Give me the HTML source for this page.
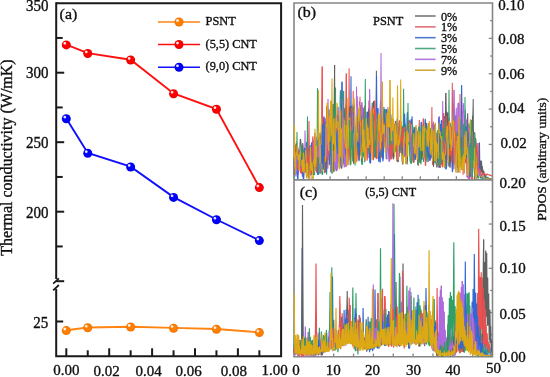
<!DOCTYPE html>
<html><head><meta charset="utf-8"><style>
html,body{margin:0;padding:0;background:#fff;width:550px;height:377px;overflow:hidden}
svg{display:block;font-family:"Liberation Serif",serif}
</style></head><body>
<svg width="550" height="377" viewBox="0 0 550 377">
<defs>
<radialGradient id="gO" cx="0.5" cy="0.5" r="0.5"><stop offset="0.6" stop-color="#ff8000"/><stop offset="1" stop-color="#f07000"/></radialGradient>
<radialGradient id="gR" cx="0.5" cy="0.5" r="0.5"><stop offset="0.6" stop-color="#ff0000"/><stop offset="1" stop-color="#e80000"/></radialGradient>
<radialGradient id="gB" cx="0.5" cy="0.5" r="0.5"><stop offset="0.6" stop-color="#0000ff"/><stop offset="1" stop-color="#0000e0"/></radialGradient>
<radialGradient id="hl" cx="0.5" cy="0.5" r="0.5"><stop offset="0" stop-color="#fff" stop-opacity="1"/><stop offset="0.45" stop-color="#fff" stop-opacity="0.85"/><stop offset="1" stop-color="#fff" stop-opacity="0"/></radialGradient>
</defs>
<g style="will-change:transform">
<path d="M56.2 3.2 H281.1 V356.3 H56.2 V289" fill="none" stroke="#1a1a1a" stroke-width="2" stroke-linejoin="miter"/>
<line x1="56.2" y1="2.2" x2="56.2" y2="279" stroke="#1a1a1a" stroke-width="2" />
<line x1="53.2" y1="283.6" x2="58.9" y2="278.4" stroke="#1a1a1a" stroke-width="1.8" />
<line x1="53.2" y1="290.3" x2="58.9" y2="285.0" stroke="#1a1a1a" stroke-width="1.8" />
<line x1="66.3" y1="356.3" x2="66.3" y2="348.3" stroke="#1a1a1a" stroke-width="2" />
<line x1="87.75" y1="356.3" x2="87.75" y2="350.3" stroke="#1a1a1a" stroke-width="2" />
<line x1="109.2" y1="356.3" x2="109.2" y2="348.3" stroke="#1a1a1a" stroke-width="2" />
<line x1="130.65" y1="356.3" x2="130.65" y2="350.3" stroke="#1a1a1a" stroke-width="2" />
<line x1="152.1" y1="356.3" x2="152.1" y2="348.3" stroke="#1a1a1a" stroke-width="2" />
<line x1="173.55" y1="356.3" x2="173.55" y2="350.3" stroke="#1a1a1a" stroke-width="2" />
<line x1="195.0" y1="356.3" x2="195.0" y2="348.3" stroke="#1a1a1a" stroke-width="2" />
<line x1="216.45" y1="356.3" x2="216.45" y2="350.3" stroke="#1a1a1a" stroke-width="2" />
<line x1="237.9" y1="356.3" x2="237.9" y2="348.3" stroke="#1a1a1a" stroke-width="2" />
<line x1="259.35" y1="356.3" x2="259.35" y2="350.3" stroke="#1a1a1a" stroke-width="2" />
<line x1="56.2" y1="37.95" x2="62.7" y2="37.95" stroke="#1a1a1a" stroke-width="2" />
<line x1="56.2" y1="72.7" x2="64.2" y2="72.7" stroke="#1a1a1a" stroke-width="2" />
<line x1="56.2" y1="107.45" x2="62.7" y2="107.45" stroke="#1a1a1a" stroke-width="2" />
<line x1="56.2" y1="142.2" x2="64.2" y2="142.2" stroke="#1a1a1a" stroke-width="2" />
<line x1="56.2" y1="176.95" x2="62.7" y2="176.95" stroke="#1a1a1a" stroke-width="2" />
<line x1="56.2" y1="211.7" x2="64.2" y2="211.7" stroke="#1a1a1a" stroke-width="2" />
<line x1="56.2" y1="246.45" x2="62.7" y2="246.45" stroke="#1a1a1a" stroke-width="2" />
<line x1="56.2" y1="281.2" x2="64.2" y2="281.2" stroke="#1a1a1a" stroke-width="2" />
<line x1="56.2" y1="321.5" x2="63.2" y2="321.5" stroke="#1a1a1a" stroke-width="2" />
<text transform="translate(48.6,10.6) scale(1,1.09)" font-size="15" text-anchor="end" fill="#111" stroke="#111" stroke-width="0.35" >350</text>
<text transform="translate(48.6,77.7) scale(1,1.09)" font-size="15" text-anchor="end" fill="#111" stroke="#111" stroke-width="0.35" >300</text>
<text transform="translate(48.6,147.7) scale(1,1.09)" font-size="15" text-anchor="end" fill="#111" stroke="#111" stroke-width="0.35" >250</text>
<text transform="translate(48.6,218.2) scale(1,1.09)" font-size="15" text-anchor="end" fill="#111" stroke="#111" stroke-width="0.35" >200</text>
<text transform="translate(48.2,328.4) scale(1,1.09)" font-size="15" text-anchor="end" fill="#111" stroke="#111" stroke-width="0.35" >25</text>
<text x="66.3" y="375.2" font-size="15" text-anchor="middle" fill="#111" stroke="#111" stroke-width="0.35" >0.00</text>
<text x="106.5" y="376.4" font-size="15" text-anchor="middle" fill="#111" stroke="#111" stroke-width="0.35" >0.02</text>
<text x="148.7" y="376.4" font-size="15" text-anchor="middle" fill="#111" stroke="#111" stroke-width="0.35" >0.04</text>
<text x="188.5" y="375.6" font-size="15" text-anchor="middle" fill="#111" stroke="#111" stroke-width="0.35" >0.06</text>
<text x="233.8" y="376.4" font-size="15" text-anchor="middle" fill="#111" stroke="#111" stroke-width="0.35" >0.08</text>
<text x="274.6" y="375.3" font-size="15" text-anchor="middle" fill="#111" stroke="#111" stroke-width="0.35" >1.00</text>
<text transform="translate(59.6,19.1) scale(1,0.91)" font-size="16" text-anchor="start" fill="#111" stroke="#111" stroke-width="0.35" >(a)</text>
<text transform="translate(11.6,157.5) rotate(-90)" font-size="16" text-anchor="middle" fill="#111" stroke="#111" stroke-width="0.35">Thermal conductivity (W/mK)</text>
<polyline points="66.30,330.3 87.75,327.5 130.65,326.7 173.55,327.9 216.45,329 259.35,332.3" fill="none" stroke="#ff8412" stroke-width="1.9"/>
<circle cx="66.30" cy="330.60" r="4.5" fill="url(#gO)"/>
<circle cx="64.80" cy="329.00" r="1.9" fill="url(#hl)"/>
<circle cx="87.75" cy="327.80" r="4.5" fill="url(#gO)"/>
<circle cx="86.25" cy="326.20" r="1.9" fill="url(#hl)"/>
<circle cx="130.65" cy="327.00" r="4.5" fill="url(#gO)"/>
<circle cx="129.15" cy="325.40" r="1.9" fill="url(#hl)"/>
<circle cx="173.55" cy="328.20" r="4.5" fill="url(#gO)"/>
<circle cx="172.05" cy="326.60" r="1.9" fill="url(#hl)"/>
<circle cx="216.45" cy="329.30" r="4.5" fill="url(#gO)"/>
<circle cx="214.95" cy="327.70" r="1.9" fill="url(#hl)"/>
<circle cx="259.35" cy="332.60" r="4.5" fill="url(#gO)"/>
<circle cx="257.85" cy="331.00" r="1.9" fill="url(#hl)"/>
<polyline points="66.30,44.6 87.75,53.2 130.65,59.7 173.55,93.5 216.45,109 259.35,187.3" fill="none" stroke="#ff1010" stroke-width="1.9"/>
<circle cx="66.30" cy="44.90" r="4.5" fill="url(#gR)"/>
<circle cx="64.80" cy="43.30" r="1.9" fill="url(#hl)"/>
<circle cx="87.75" cy="53.50" r="4.5" fill="url(#gR)"/>
<circle cx="86.25" cy="51.90" r="1.9" fill="url(#hl)"/>
<circle cx="130.65" cy="60.00" r="4.5" fill="url(#gR)"/>
<circle cx="129.15" cy="58.40" r="1.9" fill="url(#hl)"/>
<circle cx="173.55" cy="93.80" r="4.5" fill="url(#gR)"/>
<circle cx="172.05" cy="92.20" r="1.9" fill="url(#hl)"/>
<circle cx="216.45" cy="109.30" r="4.5" fill="url(#gR)"/>
<circle cx="214.95" cy="107.70" r="1.9" fill="url(#hl)"/>
<circle cx="259.35" cy="187.60" r="4.5" fill="url(#gR)"/>
<circle cx="257.85" cy="186.00" r="1.9" fill="url(#hl)"/>
<polyline points="66.30,118.4 87.75,153 130.65,166.7 173.55,197.1 216.45,219.5 259.35,240.3" fill="none" stroke="#1010ff" stroke-width="1.9"/>
<circle cx="66.30" cy="118.70" r="4.5" fill="url(#gB)"/>
<circle cx="64.80" cy="117.10" r="1.9" fill="url(#hl)"/>
<circle cx="87.75" cy="153.30" r="4.5" fill="url(#gB)"/>
<circle cx="86.25" cy="151.70" r="1.9" fill="url(#hl)"/>
<circle cx="130.65" cy="167.00" r="4.5" fill="url(#gB)"/>
<circle cx="129.15" cy="165.40" r="1.9" fill="url(#hl)"/>
<circle cx="173.55" cy="197.40" r="4.5" fill="url(#gB)"/>
<circle cx="172.05" cy="195.80" r="1.9" fill="url(#hl)"/>
<circle cx="216.45" cy="219.80" r="4.5" fill="url(#gB)"/>
<circle cx="214.95" cy="218.20" r="1.9" fill="url(#hl)"/>
<circle cx="259.35" cy="240.60" r="4.5" fill="url(#gB)"/>
<circle cx="257.85" cy="239.00" r="1.9" fill="url(#hl)"/>
<line x1="158" y1="22" x2="200" y2="22" stroke="#ff8412" stroke-width="1.6" />
<circle cx="179" cy="22" r="4.5" fill="url(#gO)"/>
<circle cx="177.5" cy="20.5" r="1.9" fill="url(#hl)"/>
<text x="205.6" y="24.8" font-size="12.3" text-anchor="start" fill="#111" stroke="#111" stroke-width="0.35" >PSNT</text>
<line x1="158" y1="44.5" x2="200" y2="44.5" stroke="#ff1010" stroke-width="1.6" />
<circle cx="179" cy="44.5" r="4.5" fill="url(#gR)"/>
<circle cx="177.5" cy="43.0" r="1.9" fill="url(#hl)"/>
<text x="205.6" y="47.5" font-size="12.3" text-anchor="start" fill="#111" stroke="#111" stroke-width="0.35" >(5,5) CNT</text>
<line x1="158" y1="67.3" x2="200" y2="67.3" stroke="#1010ff" stroke-width="1.6" />
<circle cx="179" cy="67.3" r="4.5" fill="url(#gB)"/>
<circle cx="177.5" cy="65.8" r="1.9" fill="url(#hl)"/>
<text x="205.6" y="70.3" font-size="12.3" text-anchor="start" fill="#111" stroke="#111" stroke-width="0.35" >(9,0) CNT</text>
<path d="M294.0 3.0 H492.5 V356.8 H294.0 Z" fill="none" stroke="#858585" stroke-width="1.6"/>
<line x1="294.0" y1="179.8" x2="492.5" y2="179.8" stroke="#858585" stroke-width="1.8" />
<line x1="492.5" y1="20.68" x2="490.1" y2="20.68" stroke="#858585" stroke-width="1.3" />
<line x1="492.5" y1="38.36" x2="488.7" y2="38.36" stroke="#858585" stroke-width="1.3" />
<line x1="492.5" y1="56.04" x2="490.1" y2="56.04" stroke="#858585" stroke-width="1.3" />
<line x1="492.5" y1="73.72" x2="488.7" y2="73.72" stroke="#858585" stroke-width="1.3" />
<line x1="492.5" y1="91.4" x2="490.1" y2="91.4" stroke="#858585" stroke-width="1.3" />
<line x1="492.5" y1="109.08" x2="488.7" y2="109.08" stroke="#858585" stroke-width="1.3" />
<line x1="492.5" y1="126.76" x2="490.1" y2="126.76" stroke="#858585" stroke-width="1.3" />
<line x1="492.5" y1="144.44" x2="488.7" y2="144.44" stroke="#858585" stroke-width="1.3" />
<line x1="492.5" y1="162.12" x2="490.1" y2="162.12" stroke="#858585" stroke-width="1.3" />
<line x1="312.05" y1="179.8" x2="312.05" y2="176.20000000000002" stroke="#858585" stroke-width="1.3" />
<line x1="330.09" y1="179.8" x2="330.09" y2="176.20000000000002" stroke="#858585" stroke-width="1.3" />
<line x1="348.14" y1="179.8" x2="348.14" y2="176.20000000000002" stroke="#858585" stroke-width="1.3" />
<line x1="366.18" y1="179.8" x2="366.18" y2="176.20000000000002" stroke="#858585" stroke-width="1.3" />
<line x1="384.23" y1="179.8" x2="384.23" y2="176.20000000000002" stroke="#858585" stroke-width="1.3" />
<line x1="402.27" y1="179.8" x2="402.27" y2="176.20000000000002" stroke="#858585" stroke-width="1.3" />
<line x1="420.32" y1="179.8" x2="420.32" y2="176.20000000000002" stroke="#858585" stroke-width="1.3" />
<line x1="438.36" y1="179.8" x2="438.36" y2="176.20000000000002" stroke="#858585" stroke-width="1.3" />
<line x1="456.41" y1="179.8" x2="456.41" y2="176.20000000000002" stroke="#858585" stroke-width="1.3" />
<line x1="474.45" y1="179.8" x2="474.45" y2="176.20000000000002" stroke="#858585" stroke-width="1.3" />
<line x1="492.5" y1="201.93" x2="490.1" y2="201.93" stroke="#858585" stroke-width="1.3" />
<line x1="492.5" y1="224.05" x2="488.7" y2="224.05" stroke="#858585" stroke-width="1.3" />
<line x1="492.5" y1="246.18" x2="490.1" y2="246.18" stroke="#858585" stroke-width="1.3" />
<line x1="492.5" y1="268.3" x2="488.7" y2="268.3" stroke="#858585" stroke-width="1.3" />
<line x1="492.5" y1="290.43" x2="490.1" y2="290.43" stroke="#858585" stroke-width="1.3" />
<line x1="492.5" y1="312.55" x2="488.7" y2="312.55" stroke="#858585" stroke-width="1.3" />
<line x1="492.5" y1="334.68" x2="490.1" y2="334.68" stroke="#858585" stroke-width="1.3" />
<line x1="313.85" y1="356.8" x2="313.85" y2="353.6" stroke="#858585" stroke-width="1.3" />
<line x1="333.7" y1="356.8" x2="333.7" y2="353.6" stroke="#858585" stroke-width="1.3" />
<line x1="353.55" y1="356.8" x2="353.55" y2="353.6" stroke="#858585" stroke-width="1.3" />
<line x1="373.4" y1="356.8" x2="373.4" y2="353.6" stroke="#858585" stroke-width="1.3" />
<line x1="393.25" y1="356.8" x2="393.25" y2="353.6" stroke="#858585" stroke-width="1.3" />
<line x1="413.1" y1="356.8" x2="413.1" y2="353.6" stroke="#858585" stroke-width="1.3" />
<line x1="432.95" y1="356.8" x2="432.95" y2="353.6" stroke="#858585" stroke-width="1.3" />
<line x1="452.8" y1="356.8" x2="452.8" y2="353.6" stroke="#858585" stroke-width="1.3" />
<line x1="472.65" y1="356.8" x2="472.65" y2="353.6" stroke="#858585" stroke-width="1.3" />
<clipPath id="clb"><rect x="293.2" y="3" width="199.3" height="176"/></clipPath>
<clipPath id="clc"><rect x="293.2" y="180.6" width="199.3" height="176"/></clipPath>
<g clip-path="url(#clb)">
<polyline points="294.0,180.3 294.2,170.2 294.5,168.6 294.8,157.1 295.1,146.2 295.4,144.6 295.7,156.7 296.0,153.7 296.3,142.8 296.6,146.4 296.9,138.9 297.0,132.0 297.2,148.2 297.5,154.4 297.8,152.4 298.1,151.8 298.4,155.0" fill="none" stroke="#30a068" stroke-width="1.05" stroke-linejoin="bevel"/>
<polyline points="294.0,157.0 294.0,159.8 294.3,165.5 294.6,174.6 294.9,165.5 295.2,151.6 295.5,148.3 295.8,154.8 296.1,160.1 296.4,151.6 296.7,146.9 297.0,152.7 297.3,164.2 297.6,169.6 297.9,166.9 298.2,164.7 298.5,153.1" fill="none" stroke="#606060" stroke-width="1.05" stroke-linejoin="bevel"/>
<polyline points="294.0,175.2 294.2,170.4 294.5,150.6 294.8,144.2 295.1,154.5 295.4,159.2 295.7,152.9 296.0,160.8 296.3,165.7 296.6,155.8 296.9,151.8 297.2,155.7 297.5,164.1 297.8,169.8 298.1,168.9 298.4,164.4" fill="none" stroke="#ea5050" stroke-width="1.05" stroke-linejoin="bevel"/>
<polyline points="294.0,161.1 294.2,174.2 294.5,169.9 294.8,168.5 295.1,171.7 295.4,170.2 295.7,164.4 296.0,173.0 296.3,174.1 296.6,157.4 296.9,144.6 297.2,149.1 297.5,170.8 297.8,178.9 298.1,162.2 298.4,152.5" fill="none" stroke="#3068d4" stroke-width="1.05" stroke-linejoin="bevel"/>
<polyline points="294.0,145.6 294.3,148.7 294.6,167.0 294.9,164.7 295.2,153.8 295.5,159.3 295.8,175.3 296.1,176.5 296.4,171.7 296.7,171.6 297.0,159.0 297.3,147.3 297.6,146.0 297.9,156.4 298.2,172.6 298.5,174.4" fill="none" stroke="#ae6ade" stroke-width="1.05" stroke-linejoin="bevel"/>
<polyline points="294.0,145.8 294.1,158.3 294.4,131.6 294.5,125.0 294.7,145.1 295.0,166.7 295.3,173.9 295.6,169.8 295.9,159.2 296.2,152.5 296.5,155.3 296.8,154.5 297.1,145.4 297.4,144.9 297.7,152.9 298.0,159.3 298.3,160.1" fill="none" stroke="#dca814" stroke-width="1.05" stroke-linejoin="bevel"/>
<polyline points="297.6,169.6 297.9,166.9 298.2,164.7 298.5,153.1 298.8,159.5 299.1,167.0 299.4,167.7 299.7,164.2 300.0,144.3 300.3,139.3 300.6,139.1 300.9,143.4 301.2,144.9 301.5,157.1 301.8,165.5 302.1,169.0 302.4,158.0" fill="none" stroke="#606060" stroke-width="1.05" stroke-linejoin="bevel"/>
<polyline points="297.5,154.4 297.8,152.4 298.1,151.8 298.4,155.0 298.7,148.9 299.0,152.0 299.3,154.0 299.6,159.3 299.9,161.6 300.2,162.7 300.5,167.5 300.8,172.7 301.1,172.6 301.4,156.5 301.7,145.5 302.0,152.1 302.3,168.1" fill="none" stroke="#30a068" stroke-width="1.05" stroke-linejoin="bevel"/>
<polyline points="297.6,146.0 297.9,156.4 298.2,172.6 298.5,174.4 298.8,164.1 299.1,152.5 299.4,153.6 299.7,163.4 300.0,169.6 300.3,167.7 300.6,168.2 300.9,164.2 301.2,158.0 301.5,163.8 301.8,167.9 302.1,171.0 302.4,176.3" fill="none" stroke="#ae6ade" stroke-width="1.05" stroke-linejoin="bevel"/>
<polyline points="297.5,170.8 297.8,178.9 298.1,162.2 298.4,152.5 298.7,164.9 299.0,164.1 299.3,151.6 299.6,151.6 299.9,154.9 300.2,159.6 300.5,170.2 300.8,172.2 301.1,170.4 301.4,162.0 301.7,157.1 302.0,157.2 302.3,159.9" fill="none" stroke="#3068d4" stroke-width="1.05" stroke-linejoin="bevel"/>
<polyline points="297.5,164.1 297.8,169.8 298.1,168.9 298.4,164.4 298.7,162.5 299.0,155.1 299.3,150.3 299.6,156.2 299.9,167.2 300.2,168.4 300.5,172.7 300.8,172.7 301.1,169.0 301.4,168.3 301.7,173.7 302.0,168.6 302.3,161.3" fill="none" stroke="#ea5050" stroke-width="1.05" stroke-linejoin="bevel"/>
<polyline points="297.4,144.9 297.7,152.9 298.0,159.3 298.3,160.1 298.6,154.5 298.9,160.8 299.2,170.6 299.5,165.8 299.8,154.0 300.1,151.8 300.4,154.3 300.7,154.3 301.0,159.6 301.3,170.6 301.6,165.5 301.9,159.5 302.2,160.8 302.5,169.2" fill="none" stroke="#dca814" stroke-width="1.05" stroke-linejoin="bevel"/>
<polyline points="301.5,157.1 301.8,165.5 302.1,169.0 302.4,158.0 302.7,143.1 303.0,145.1 303.3,152.0 303.6,153.1 303.9,151.1 304.2,152.9 304.5,158.0 304.8,164.5 305.1,171.3 305.4,164.0 305.7,159.1 306.0,167.6 306.3,165.6" fill="none" stroke="#606060" stroke-width="1.05" stroke-linejoin="bevel"/>
<polyline points="301.5,163.8 301.8,167.9 302.1,171.0 302.4,176.3 302.7,176.4 303.0,176.4 303.3,176.2 303.6,176.3 303.9,172.4 304.2,165.4 304.5,166.9 304.8,149.3 305.0,130.5 305.1,135.2 305.4,155.5 305.7,150.9 306.0,151.9 306.3,156.9 306.6,155.7" fill="none" stroke="#ae6ade" stroke-width="1.05" stroke-linejoin="bevel"/>
<polyline points="301.4,156.5 301.7,145.5 302.0,152.1 302.3,168.1 302.6,169.7 302.9,170.9 303.2,158.5 303.5,150.4 303.8,161.3 304.1,169.9 304.4,160.3 304.7,151.8 305.0,154.6 305.3,159.0 305.6,164.9 305.9,169.7 306.2,165.7 306.5,165.6" fill="none" stroke="#30a068" stroke-width="1.05" stroke-linejoin="bevel"/>
<polyline points="301.4,168.3 301.7,173.7 302.0,168.6 302.3,161.3 302.6,169.7 302.9,170.6 303.2,169.0 303.5,173.3 303.8,169.9 304.1,163.6 304.4,163.4 304.7,157.4 305.0,154.9 305.3,164.6 305.6,167.2 305.9,172.7 306.2,166.4 306.5,151.8" fill="none" stroke="#ea5050" stroke-width="1.05" stroke-linejoin="bevel"/>
<polyline points="301.4,162.0 301.7,157.1 302.0,157.2 302.3,159.9 302.6,170.1 302.9,175.0 303.2,179.0 303.5,178.9 303.8,178.8 304.1,167.7 304.4,148.8 304.7,148.0 305.0,161.3 305.3,166.1 305.6,171.3 305.9,171.5 306.2,159.3 306.5,143.7" fill="none" stroke="#3068d4" stroke-width="1.05" stroke-linejoin="bevel"/>
<polyline points="301.6,165.5 301.9,159.5 302.2,160.8 302.5,169.2 302.8,172.0 303.1,162.4 303.4,152.6 303.7,157.5 304.0,173.1 304.3,170.9 304.6,164.0 304.9,167.2 305.2,158.1 305.5,150.4 305.8,151.1 306.1,160.1 306.4,177.7" fill="none" stroke="#dca814" stroke-width="1.05" stroke-linejoin="bevel"/>
<polyline points="305.4,164.0 305.7,159.1 306.0,167.6 306.3,165.6 306.6,159.0 306.9,170.1 307.2,169.3 307.5,160.5 307.8,168.9 308.1,164.6 308.4,151.3 308.7,151.3 309.0,147.4 309.3,154.8 309.6,173.1 309.9,169.0 310.2,155.1 310.5,160.0" fill="none" stroke="#606060" stroke-width="1.05" stroke-linejoin="bevel"/>
<polyline points="305.6,171.3 305.9,171.5 306.2,159.3 306.5,143.7 306.8,142.1 307.1,142.2 307.4,142.1 307.7,150.1 308.0,172.2 308.3,177.4 308.6,177.3 308.9,177.2 309.2,177.0 309.5,172.8 309.8,158.8 310.1,145.7 310.4,146.3" fill="none" stroke="#3068d4" stroke-width="1.05" stroke-linejoin="bevel"/>
<polyline points="305.7,150.9 306.0,151.9 306.3,156.9 306.6,155.7 306.9,160.9 307.2,168.5 307.5,165.2 307.8,164.2 308.1,166.4 308.4,163.0 308.7,164.5 309.0,173.0 309.3,172.7 309.6,161.4 309.9,154.1 310.2,154.8 310.5,156.5" fill="none" stroke="#ae6ade" stroke-width="1.05" stroke-linejoin="bevel"/>
<polyline points="305.6,164.9 305.9,169.7 306.2,165.7 306.5,165.6 306.8,175.7 307.1,156.0 307.4,125.7 307.5,116.6 307.7,137.8 308.0,168.1 308.3,174.7 308.6,165.4 308.9,162.5 309.2,163.6 309.5,165.3 309.8,169.9 310.1,170.0 310.4,174.7" fill="none" stroke="#30a068" stroke-width="1.05" stroke-linejoin="bevel"/>
<polyline points="305.6,167.2 305.9,172.7 306.2,166.4 306.5,151.8 306.8,146.7 307.1,154.2 307.4,157.9 307.7,165.0 308.0,176.2 308.3,175.4 308.6,157.2 308.9,129.2 309.0,121.0 309.2,140.9 309.5,155.1 309.8,160.7 310.1,163.5 310.4,173.2" fill="none" stroke="#ea5050" stroke-width="1.05" stroke-linejoin="bevel"/>
<polyline points="305.5,150.4 305.8,151.1 306.1,160.1 306.4,177.7 306.7,178.1 307.0,164.8 307.3,162.7 307.6,164.5 307.9,172.1 308.2,178.7 308.5,178.7 308.8,178.7 309.1,178.8 309.4,178.9 309.7,179.0 310.0,169.7 310.3,150.3" fill="none" stroke="#dca814" stroke-width="1.05" stroke-linejoin="bevel"/>
<polyline points="309.6,161.4 309.9,154.1 310.2,154.8 310.5,156.5 310.8,157.3 311.1,160.6 311.4,167.1 311.7,169.6 312.0,158.0 312.3,145.8 312.6,152.3 312.9,163.5 313.2,162.9 313.5,162.7 313.8,151.8 314.1,139.7 314.4,139.8" fill="none" stroke="#ae6ade" stroke-width="1.05" stroke-linejoin="bevel"/>
<polyline points="309.6,173.1 309.9,169.0 310.2,155.1 310.5,160.0 310.8,158.4 311.1,152.7 311.4,157.4 311.7,147.2 312.0,146.9 312.3,158.8 312.6,168.9 312.9,156.8 313.2,149.5 313.5,163.1 313.8,174.6 314.1,174.4 314.4,174.3" fill="none" stroke="#606060" stroke-width="1.05" stroke-linejoin="bevel"/>
<polyline points="309.5,172.8 309.8,158.8 310.1,145.7 310.4,146.3 310.7,150.9 311.0,151.9 311.3,145.6 311.6,142.4 311.9,147.7 312.2,166.3 312.5,166.3 312.8,158.4 313.1,162.1 313.4,164.1 313.7,157.8 314.0,151.4 314.3,156.6" fill="none" stroke="#3068d4" stroke-width="1.05" stroke-linejoin="bevel"/>
<polyline points="309.5,165.3 309.8,169.9 310.1,170.0 310.4,174.7 310.7,175.1 311.0,172.0 311.3,171.5 311.6,168.5 311.9,162.6 312.2,161.8 312.5,167.2 312.8,164.2 313.1,167.3 313.4,173.9 313.7,174.7 314.0,172.6 314.3,174.7" fill="none" stroke="#30a068" stroke-width="1.05" stroke-linejoin="bevel"/>
<polyline points="309.5,155.1 309.8,160.7 310.1,163.5 310.4,173.2 310.7,173.2 311.0,164.7 311.3,163.2 311.6,175.5 311.9,171.2 312.2,150.0 312.5,142.9 312.8,136.4 313.1,138.9 313.4,158.4 313.7,156.3 314.0,148.1 314.3,154.2" fill="none" stroke="#ea5050" stroke-width="1.05" stroke-linejoin="bevel"/>
<polyline points="309.4,178.9 309.7,179.0 310.0,169.7 310.3,150.3 310.6,146.5 310.9,160.8 311.2,170.5 311.5,169.9 311.8,169.3 312.1,162.5 312.4,169.5 312.7,171.5 313.0,179.2 313.3,179.1 313.6,164.2 313.9,159.2 314.2,172.6 314.5,165.8" fill="none" stroke="#dca814" stroke-width="1.05" stroke-linejoin="bevel"/>
<polyline points="313.5,163.1 313.8,174.6 314.1,174.4 314.4,174.3 314.7,162.5 315.0,155.7 315.3,167.2 315.6,167.2 315.9,162.9 316.2,160.2 316.5,156.2 316.8,157.8 317.1,159.3 317.4,149.4 317.7,151.0 318.0,150.2 318.3,137.3" fill="none" stroke="#606060" stroke-width="1.05" stroke-linejoin="bevel"/>
<polyline points="313.4,164.1 313.7,157.8 314.0,151.4 314.3,156.6 314.6,155.9 314.9,159.4 315.2,153.9 315.5,155.1 315.8,162.5 316.1,161.2 316.4,163.4 316.7,153.8 317.0,150.0 317.3,163.3 317.6,172.1 317.9,174.9 318.2,173.7 318.5,155.1" fill="none" stroke="#3068d4" stroke-width="1.05" stroke-linejoin="bevel"/>
<polyline points="313.4,158.4 313.7,156.3 314.0,148.1 314.3,154.2 314.6,136.7 314.9,132.7 315.2,137.0 315.5,149.1 315.8,155.8 316.1,169.0 316.4,172.5 316.7,171.9 317.0,159.5 317.3,153.8 317.6,158.4 317.9,151.4 318.2,163.7 318.5,168.7" fill="none" stroke="#ea5050" stroke-width="1.05" stroke-linejoin="bevel"/>
<polyline points="313.5,162.7 313.8,151.8 314.1,139.7 314.4,139.8 314.7,156.9 315.0,170.9 315.3,169.0 315.6,163.5 315.9,160.6 316.2,155.3 316.5,143.0 316.8,137.6 317.1,136.6 317.4,149.6 317.7,156.8 318.0,148.7 318.3,144.2 318.6,146.6" fill="none" stroke="#ae6ade" stroke-width="1.05" stroke-linejoin="bevel"/>
<polyline points="313.4,173.9 313.7,174.7 314.0,172.6 314.3,174.7 314.6,174.7 314.9,161.2 315.2,146.5 315.5,151.6 315.8,152.0 316.1,143.9 316.4,146.5 316.7,152.7 317.0,159.1 317.3,115.8 317.5,88.3 317.6,104.2 317.9,147.5 318.2,170.7 318.5,168.6" fill="none" stroke="#30a068" stroke-width="1.05" stroke-linejoin="bevel"/>
<polyline points="313.6,164.2 313.9,159.2 314.2,172.6 314.5,165.8 314.8,142.3 315.0,128.7 315.1,138.6 315.4,154.7 315.7,167.0 316.0,161.7 316.3,145.3 316.6,152.7 316.9,157.1 317.2,148.9 317.5,140.0 317.8,130.9 318.1,134.8 318.4,100.4 318.5,90.0" fill="none" stroke="#dca814" stroke-width="1.05" stroke-linejoin="bevel"/>
<polyline points="317.6,158.4 317.9,151.4 318.2,163.7 318.5,168.7 318.8,165.5 319.1,161.1 319.4,142.5 319.7,135.4 320.0,141.1 320.3,146.4 320.6,146.3 320.9,145.6 321.2,132.9 321.5,120.4 321.8,126.9 322.1,82.3 322.2,66.6 322.4,104.5" fill="none" stroke="#ea5050" stroke-width="1.05" stroke-linejoin="bevel"/>
<polyline points="317.4,149.4 317.7,151.0 318.0,150.2 318.3,137.3 318.6,143.4 318.9,152.4 319.2,140.5 319.5,145.5 319.8,161.6 320.1,172.9 320.4,172.9 320.7,172.9 321.0,167.1 321.3,151.7 321.6,132.4 321.9,142.9 322.2,162.2 322.5,163.2" fill="none" stroke="#606060" stroke-width="1.05" stroke-linejoin="bevel"/>
<polyline points="317.6,172.1 317.9,174.9 318.2,173.7 318.5,155.1 318.8,138.6 319.1,139.2 319.4,160.7 319.7,154.6 320.0,132.7 320.3,138.3 320.6,149.2 320.9,150.5 321.2,143.3 321.5,144.9 321.8,163.8 322.1,154.3 322.4,129.4 322.5,124.0" fill="none" stroke="#3068d4" stroke-width="1.05" stroke-linejoin="bevel"/>
<polyline points="317.5,88.3 317.6,104.2 317.9,147.5 318.2,170.7 318.5,168.6 318.8,173.0 319.1,174.2 319.4,164.4 319.7,167.9 320.0,159.9 320.3,148.8 320.6,141.9 320.9,156.5 321.2,169.6 321.5,164.4 321.8,164.6 322.1,174.3 322.4,174.3" fill="none" stroke="#30a068" stroke-width="1.05" stroke-linejoin="bevel"/>
<polyline points="317.7,156.8 318.0,148.7 318.3,144.2 318.6,146.6 318.9,158.2 319.2,150.1 319.5,142.9 319.8,163.6 320.1,173.3 320.4,164.8 320.7,147.5 321.0,139.1 321.3,145.8 321.6,147.7 321.9,143.0 322.2,161.6 322.5,168.8" fill="none" stroke="#ae6ade" stroke-width="1.05" stroke-linejoin="bevel"/>
<polyline points="317.5,140.0 317.8,130.9 318.1,134.8 318.4,100.4 318.5,90.0 318.7,121.9 319.0,145.3 319.3,135.2 319.6,144.5 319.9,162.8 320.2,163.4 320.5,153.6 320.8,155.8 321.1,139.7 321.4,118.3 321.7,127.4 322.0,163.8 322.3,171.3" fill="none" stroke="#dca814" stroke-width="1.05" stroke-linejoin="bevel"/>
<polyline points="321.6,132.4 321.9,142.9 322.2,162.2 322.5,163.2 322.8,164.0 323.1,169.2 323.4,157.3 323.7,139.7 324.0,128.7 324.3,135.5 324.6,134.2 324.9,140.2 325.2,155.2 325.5,151.4 325.8,156.3 326.1,172.8 326.4,166.1" fill="none" stroke="#606060" stroke-width="1.05" stroke-linejoin="bevel"/>
<polyline points="321.6,147.7 321.9,143.0 322.2,161.6 322.5,168.8 322.8,167.8 323.1,169.3 323.4,157.3 323.7,124.2 324.0,117.1 324.3,121.7 324.6,128.0 324.9,137.4 325.2,125.5 325.5,118.5 325.8,120.8 326.1,138.3 326.4,157.2" fill="none" stroke="#ae6ade" stroke-width="1.05" stroke-linejoin="bevel"/>
<polyline points="321.5,120.4 321.8,126.9 322.1,82.3 322.2,66.6 322.4,104.5 322.7,134.3 323.0,130.3 323.3,132.4 323.6,117.8 323.9,122.1 324.2,160.5 324.5,172.8 324.8,172.8 325.1,160.7 325.4,135.3 325.7,150.3 326.0,159.4 326.3,132.3" fill="none" stroke="#ea5050" stroke-width="1.05" stroke-linejoin="bevel"/>
<polyline points="321.5,164.4 321.8,164.6 322.1,174.3 322.4,174.3 322.7,174.4 323.0,164.1 323.3,147.0 323.6,149.4 323.9,153.7 324.2,155.4 324.5,127.7 324.8,123.5 325.1,151.6 325.4,169.5 325.7,156.1 326.0,147.2 326.3,165.8" fill="none" stroke="#30a068" stroke-width="1.05" stroke-linejoin="bevel"/>
<polyline points="321.4,118.3 321.7,127.4 322.0,163.8 322.3,171.3 322.6,147.0 322.9,137.7 323.2,143.6 323.5,139.9 323.8,130.3 324.1,128.4 324.4,144.0 324.7,135.5 325.0,136.6 325.3,155.7 325.6,162.1 325.9,144.4 326.2,124.0 326.5,125.6" fill="none" stroke="#dca814" stroke-width="1.05" stroke-linejoin="bevel"/>
<polyline points="321.5,144.9 321.8,163.8 322.1,154.3 322.4,129.4 322.5,124.0 322.7,143.4 323.0,168.2 323.3,169.0 323.6,146.6 323.9,119.4 324.0,116.3 324.2,140.5 324.5,156.5 324.8,151.9 325.1,143.1 325.4,122.4 325.7,127.5 326.0,167.6 326.3,171.9" fill="none" stroke="#3068d4" stroke-width="1.05" stroke-linejoin="bevel"/>
<polyline points="325.5,151.4 325.8,156.3 326.1,172.8 326.4,166.1 326.7,140.6 327.0,144.4 327.3,136.6 327.6,150.8 327.9,155.0 328.2,124.8 328.5,123.8 328.8,131.7 329.1,119.4 329.4,122.3 329.7,132.3 330.0,124.6 330.3,129.9" fill="none" stroke="#606060" stroke-width="1.05" stroke-linejoin="bevel"/>
<polyline points="325.4,169.5 325.7,156.1 326.0,147.2 326.3,165.8 326.6,174.7 326.9,167.9 327.2,157.6 327.5,164.4 327.8,148.3 328.1,127.9 328.4,123.6 328.7,119.6 329.0,115.7 329.3,120.6 329.6,133.8 329.9,124.4 330.2,109.8 330.5,109.4" fill="none" stroke="#30a068" stroke-width="1.05" stroke-linejoin="bevel"/>
<polyline points="325.4,122.4 325.7,127.5 326.0,167.6 326.3,171.9 326.6,135.9 326.9,122.4 327.2,142.2 327.5,153.4 327.8,160.0 328.1,141.9 328.4,126.4 328.7,109.5 329.0,120.0 329.3,157.7 329.6,164.8 329.9,154.3 330.2,156.0 330.5,139.8" fill="none" stroke="#3068d4" stroke-width="1.05" stroke-linejoin="bevel"/>
<polyline points="325.4,135.3 325.7,150.3 326.0,159.4 326.3,132.3 326.6,106.9 326.9,106.0 327.2,116.6 327.5,151.7 327.8,168.8 328.1,163.5 328.4,142.5 328.7,138.9 329.0,143.9 329.3,154.3 329.6,144.6 329.9,140.0 330.2,124.8 330.5,136.5" fill="none" stroke="#ea5050" stroke-width="1.05" stroke-linejoin="bevel"/>
<polyline points="325.5,118.5 325.8,120.8 326.1,138.3 326.4,157.2 326.7,145.9 327.0,142.5 327.3,144.6 327.6,142.6 327.9,116.1 328.0,99.0 328.2,109.9 328.5,111.6 328.8,125.9 329.1,131.2 329.4,114.9 329.7,120.9 330.0,147.0 330.3,157.5 330.6,171.9" fill="none" stroke="#ae6ade" stroke-width="1.05" stroke-linejoin="bevel"/>
<polyline points="325.6,162.1 325.9,144.4 326.2,124.0 326.5,125.6 326.8,126.9 327.1,103.0 327.4,103.1 327.7,109.1 328.0,142.0 328.3,146.4 328.6,151.0 328.9,149.8 329.2,121.1 329.5,115.9 329.8,141.8 330.1,135.4 330.4,110.3" fill="none" stroke="#dca814" stroke-width="1.05" stroke-linejoin="bevel"/>
<polyline points="329.4,122.3 329.7,132.3 330.0,124.6 330.3,129.9 330.6,144.6 330.9,124.0 331.2,105.3 331.5,106.6 331.8,104.7 332.1,104.7 332.4,108.0 332.7,128.5 333.0,127.7 333.3,119.7 333.6,137.4 333.9,171.8 334.2,128.1 334.5,75.7 334.6,65.0" fill="none" stroke="#606060" stroke-width="1.05" stroke-linejoin="bevel"/>
<polyline points="329.7,120.9 330.0,147.0 330.3,157.5 330.6,171.9 330.9,171.8 331.2,166.1 331.5,142.0 331.8,158.8 332.1,160.7 332.4,140.4 332.7,152.3 333.0,151.5 333.3,145.5 333.6,150.4 333.9,161.6 334.2,160.7 334.5,163.9" fill="none" stroke="#ae6ade" stroke-width="1.05" stroke-linejoin="bevel"/>
<polyline points="329.6,144.6 329.9,140.0 330.2,124.8 330.5,136.5 330.8,132.2 331.1,115.8 331.4,129.5 331.7,142.4 332.0,114.6 332.3,103.7 332.6,113.1 332.9,135.5 333.2,149.8 333.5,139.7 333.8,133.7 334.1,124.7 334.4,131.2" fill="none" stroke="#ea5050" stroke-width="1.05" stroke-linejoin="bevel"/>
<polyline points="329.6,164.8 329.9,154.3 330.2,156.0 330.5,139.8 330.8,127.4 331.1,134.7 331.4,131.6 331.7,110.2 332.0,108.9 332.3,118.1 332.6,137.7 332.9,162.1 333.2,161.1 333.5,138.0 333.8,131.6 334.1,144.0 334.4,147.0" fill="none" stroke="#3068d4" stroke-width="1.05" stroke-linejoin="bevel"/>
<polyline points="329.6,133.8 329.9,124.4 330.2,109.8 330.5,109.4 330.8,109.3 331.1,110.8 331.4,148.3 331.7,172.6 332.0,173.3 332.3,173.1 332.6,172.9 332.9,144.4 333.2,107.4 333.5,104.0 333.8,106.6 334.1,114.6 334.4,146.3" fill="none" stroke="#30a068" stroke-width="1.05" stroke-linejoin="bevel"/>
<polyline points="329.5,115.9 329.8,141.8 330.1,135.4 330.4,110.3 330.7,100.4 331.0,101.3 331.3,123.2 331.6,135.9 331.9,89.8 332.0,78.5 332.2,113.2 332.5,159.3 332.8,172.3 333.1,171.4 333.4,144.3 333.7,118.7 334.0,119.3 334.3,135.4" fill="none" stroke="#dca814" stroke-width="1.05" stroke-linejoin="bevel"/>
<polyline points="333.6,137.4 333.9,171.8 334.2,128.1 334.5,75.7 334.6,65.0 334.8,106.7 335.1,148.6 335.4,137.4 335.7,159.2 336.0,169.8 336.3,171.2 336.6,166.6 336.9,143.4 337.2,146.6 337.5,154.2 337.8,162.4 338.1,159.9 338.4,141.8" fill="none" stroke="#606060" stroke-width="1.05" stroke-linejoin="bevel"/>
<polyline points="333.6,150.4 333.9,161.6 334.2,160.7 334.5,163.9 334.8,150.8 335.1,141.8 335.4,165.1 335.7,169.2 336.0,134.9 336.3,125.2 336.6,158.9 336.9,170.4 337.2,170.3 337.5,166.9 337.8,132.6 338.1,107.1 338.4,129.6" fill="none" stroke="#ae6ade" stroke-width="1.05" stroke-linejoin="bevel"/>
<polyline points="333.5,104.0 333.8,106.6 334.1,114.6 334.4,146.3 334.7,150.8 335.0,115.7 335.3,111.2 335.5,87.4 335.6,102.4 335.9,140.7 336.2,128.2 336.5,145.5 336.8,147.2 337.1,131.0 337.4,155.7 337.7,148.3 338.0,115.6 338.3,126.3" fill="none" stroke="#30a068" stroke-width="1.05" stroke-linejoin="bevel"/>
<polyline points="333.5,139.7 333.8,133.7 334.1,124.7 334.4,131.2 334.7,128.6 335.0,137.2 335.3,146.4 335.6,121.9 335.9,115.7 336.2,143.2 336.5,135.1 336.8,116.3 337.1,115.1 337.4,125.4 337.7,114.5 338.0,120.6 338.3,138.0" fill="none" stroke="#ea5050" stroke-width="1.05" stroke-linejoin="bevel"/>
<polyline points="333.5,138.0 333.8,131.6 334.1,144.0 334.4,147.0 334.7,141.7 335.0,128.4 335.3,138.5 335.6,144.1 335.9,131.6 336.2,132.7 336.5,135.4 336.8,145.7 337.1,145.2 337.4,151.9 337.7,153.4 338.0,132.0 338.3,120.2" fill="none" stroke="#3068d4" stroke-width="1.05" stroke-linejoin="bevel"/>
<polyline points="333.4,144.3 333.7,118.7 334.0,119.3 334.3,135.4 334.6,143.8 334.9,157.3 335.2,162.3 335.5,148.8 335.8,123.8 336.1,117.4 336.4,128.0 336.7,114.3 337.0,102.7 337.3,105.3 337.6,121.4 337.9,129.8 338.2,120.4 338.5,129.7" fill="none" stroke="#dca814" stroke-width="1.05" stroke-linejoin="bevel"/>
<polyline points="337.5,154.2 337.8,162.4 338.1,159.9 338.4,141.8 338.7,156.2 339.0,153.8 339.3,136.5 339.6,141.2 339.9,145.2 340.2,146.4 340.5,144.0 340.8,149.5 341.1,159.7 341.4,168.3 341.7,168.1 342.0,141.4 342.3,107.1" fill="none" stroke="#606060" stroke-width="1.05" stroke-linejoin="bevel"/>
<polyline points="337.4,125.4 337.7,114.5 338.0,120.6 338.3,138.0 338.6,131.1 338.9,140.8 339.2,158.8 339.5,160.3 339.8,146.3 340.1,136.2 340.4,143.6 340.7,128.6 341.0,116.2 341.3,116.8 341.6,109.7 341.9,114.5 342.2,118.5 342.5,113.2" fill="none" stroke="#ea5050" stroke-width="1.05" stroke-linejoin="bevel"/>
<polyline points="337.4,155.7 337.7,148.3 338.0,115.6 338.3,126.3 338.6,139.1 338.9,146.1 339.2,167.4 339.5,167.2 339.8,141.8 340.1,98.4 340.4,90.5 340.7,90.4 341.0,98.0 341.3,114.0 341.6,112.2 341.9,125.9 342.2,158.9 342.5,161.7" fill="none" stroke="#30a068" stroke-width="1.05" stroke-linejoin="bevel"/>
<polyline points="337.5,166.9 337.8,132.6 338.1,107.1 338.4,129.6 338.7,161.2 339.0,153.3 339.3,125.5 339.6,123.9 339.9,123.9 340.2,120.9 340.5,143.1 340.8,166.4 341.1,163.0 341.4,129.2 341.7,98.9 342.0,101.0 342.3,103.7 342.6,108.1" fill="none" stroke="#ae6ade" stroke-width="1.05" stroke-linejoin="bevel"/>
<polyline points="337.4,151.9 337.7,153.4 338.0,132.0 338.3,120.2 338.6,127.0 338.9,132.2 339.2,137.6 339.5,165.1 339.8,168.2 340.1,159.3 340.4,133.0 340.7,134.1 341.0,141.1 341.3,136.4 341.6,133.9 341.9,91.1 342.0,81.8 342.2,101.5 342.5,103.6" fill="none" stroke="#3068d4" stroke-width="1.05" stroke-linejoin="bevel"/>
<polyline points="337.6,121.4 337.9,129.8 338.2,120.4 338.5,129.7 338.8,145.5 339.1,169.2 339.4,168.4 339.7,143.6 340.0,111.0 340.3,113.7 340.6,155.3 340.9,157.2 341.2,126.2 341.5,128.6 341.8,154.8 342.1,166.3 342.4,153.4" fill="none" stroke="#dca814" stroke-width="1.05" stroke-linejoin="bevel"/>
<polyline points="341.6,133.9 341.9,91.1 342.0,81.8 342.2,101.5 342.5,103.6 342.8,132.2 343.1,142.8 343.4,156.7 343.7,164.5 344.0,151.6 344.3,125.1 344.6,119.4 344.9,136.6 345.2,150.8 345.5,153.0 345.8,141.7 346.1,127.9 346.4,138.9" fill="none" stroke="#3068d4" stroke-width="1.05" stroke-linejoin="bevel"/>
<polyline points="341.4,168.3 341.7,168.1 342.0,141.4 342.3,107.1 342.6,104.6 342.9,105.8 343.2,122.0 343.5,122.6 343.8,116.8 344.1,108.2 344.4,109.2 344.7,132.8 345.0,136.2 345.3,132.6 345.6,153.8 345.9,155.3 346.2,138.1 346.5,141.7" fill="none" stroke="#606060" stroke-width="1.05" stroke-linejoin="bevel"/>
<polyline points="341.6,112.2 341.9,125.9 342.2,158.9 342.5,161.7 342.8,132.7 343.1,116.0 343.4,92.6 343.7,90.9 344.0,128.5 344.3,159.7 344.6,155.8 344.9,148.2 345.2,151.0 345.5,139.0 345.8,116.4 346.1,106.6 346.4,120.3" fill="none" stroke="#30a068" stroke-width="1.05" stroke-linejoin="bevel"/>
<polyline points="341.6,109.7 341.9,114.5 342.2,118.5 342.5,113.2 342.8,132.8 343.1,157.2 343.4,150.4 343.7,122.3 344.0,117.9 344.3,138.0 344.6,151.5 344.9,146.0 345.2,118.0 345.5,110.7 345.8,110.8 346.1,102.5 346.3,73.5 346.4,90.8" fill="none" stroke="#ea5050" stroke-width="1.05" stroke-linejoin="bevel"/>
<polyline points="341.5,128.6 341.8,154.8 342.1,166.3 342.4,153.4 342.7,117.5 343.0,123.0 343.3,141.3 343.6,127.6 343.9,139.7 344.2,143.5 344.5,125.0 344.8,120.4 345.1,137.2 345.4,143.8 345.7,148.5 346.0,125.0 346.3,128.1" fill="none" stroke="#dca814" stroke-width="1.05" stroke-linejoin="bevel"/>
<polyline points="341.7,98.9 342.0,101.0 342.3,103.7 342.6,108.1 342.9,127.7 343.2,154.4 343.5,145.0 343.8,138.5 344.1,167.2 344.4,167.0 344.7,151.7 345.0,149.9 345.3,152.9 345.6,166.6 345.9,166.5 346.2,166.4 346.5,138.0" fill="none" stroke="#ae6ade" stroke-width="1.05" stroke-linejoin="bevel"/>
<polyline points="345.6,153.8 345.9,155.3 346.2,138.1 346.5,141.7 346.8,118.1 347.1,114.8 347.4,136.5 347.7,136.4 348.0,145.9 348.3,139.3 348.6,107.9 348.9,106.0 349.2,112.4 349.5,119.7 349.8,109.5 350.1,108.5 350.4,105.9" fill="none" stroke="#606060" stroke-width="1.05" stroke-linejoin="bevel"/>
<polyline points="345.5,139.0 345.8,116.4 346.1,106.6 346.4,120.3 346.7,133.2 347.0,116.4 347.3,135.3 347.6,151.9 347.9,131.2 348.2,123.3 348.5,116.4 348.8,127.7 349.1,112.7 349.4,120.0 349.7,145.4 350.0,146.1 350.3,164.6" fill="none" stroke="#30a068" stroke-width="1.05" stroke-linejoin="bevel"/>
<polyline points="345.5,110.7 345.8,110.8 346.1,102.5 346.3,73.5 346.4,90.8 346.7,137.1 347.0,149.5 347.3,146.9 347.6,152.8 347.9,165.5 348.2,162.6 348.5,146.5 348.8,114.8 349.1,68.3 349.1,70.3 349.4,118.8 349.7,147.7 350.0,156.8 350.3,160.1" fill="none" stroke="#ea5050" stroke-width="1.05" stroke-linejoin="bevel"/>
<polyline points="345.6,166.6 345.9,166.5 346.2,166.4 346.5,138.0 346.8,121.0 347.1,114.7 347.4,113.7 347.7,138.0 348.0,139.1 348.3,117.8 348.6,124.2 348.9,142.7 349.2,149.6 349.5,147.7 349.8,142.3 350.1,145.1 350.4,139.4" fill="none" stroke="#ae6ade" stroke-width="1.05" stroke-linejoin="bevel"/>
<polyline points="345.5,153.0 345.8,141.7 346.1,127.9 346.4,138.9 346.7,142.9 347.0,132.4 347.3,134.5 347.6,123.0 347.9,124.1 348.2,122.0 348.5,123.5 348.8,121.4 349.1,120.8 349.4,117.9 349.7,112.1 350.0,121.5 350.3,125.2" fill="none" stroke="#3068d4" stroke-width="1.05" stroke-linejoin="bevel"/>
<polyline points="345.4,143.8 345.7,148.5 346.0,125.0 346.3,128.1 346.6,165.0 346.9,164.9 347.2,139.1 347.5,118.9 347.8,98.1 348.1,105.7 348.4,134.5 348.7,145.4 349.0,148.4 349.3,137.2 349.6,117.8 349.9,117.6 350.2,133.3 350.5,155.0" fill="none" stroke="#dca814" stroke-width="1.05" stroke-linejoin="bevel"/>
<polyline points="349.5,119.7 349.8,109.5 350.1,108.5 350.4,105.9 350.7,123.1 351.0,143.6 351.3,122.2 351.6,106.0 351.9,106.3 352.2,129.8 352.5,146.3 352.8,131.4 353.1,140.4 353.4,159.9 353.7,163.6 354.0,152.3 354.3,137.6" fill="none" stroke="#606060" stroke-width="1.05" stroke-linejoin="bevel"/>
<polyline points="349.4,117.9 349.7,112.1 350.0,121.5 350.3,125.2 350.6,123.2 350.9,85.9 351.0,76.2 351.2,110.8 351.5,142.3 351.8,149.3 352.1,142.5 352.4,140.8 352.7,130.7 353.0,111.5 353.3,107.8 353.6,112.8 353.9,133.2 354.2,117.5 354.5,111.9" fill="none" stroke="#3068d4" stroke-width="1.05" stroke-linejoin="bevel"/>
<polyline points="349.5,147.7 349.8,142.3 350.1,145.1 350.4,139.4 350.7,125.7 351.0,125.9 351.3,141.7 351.6,156.3 351.9,144.4 352.2,142.4 352.5,138.7 352.8,115.6 353.1,103.8 353.4,113.9 353.7,144.5 354.0,141.5 354.3,131.3 354.6,150.8" fill="none" stroke="#ae6ade" stroke-width="1.05" stroke-linejoin="bevel"/>
<polyline points="349.4,118.8 349.7,147.7 350.0,156.8 350.3,160.1 350.6,147.1 350.9,125.2 351.2,108.6 351.5,108.5 351.8,108.1 352.1,107.9 352.4,107.5 352.7,114.2 353.0,113.8 353.2,91.0 353.3,104.7 353.6,126.3 353.9,119.5 354.2,113.3 354.5,132.5" fill="none" stroke="#ea5050" stroke-width="1.05" stroke-linejoin="bevel"/>
<polyline points="349.6,117.8 349.9,117.6 350.2,133.3 350.5,155.0 350.8,162.2 351.1,164.3 351.4,153.4 351.7,130.5 352.0,134.5 352.3,152.8 352.6,155.5 352.9,158.1 353.2,139.8 353.5,106.1 353.8,98.1 354.1,102.4 354.4,106.9" fill="none" stroke="#dca814" stroke-width="1.05" stroke-linejoin="bevel"/>
<polyline points="349.4,120.0 349.7,145.4 350.0,146.1 350.3,164.6 350.6,165.3 350.9,150.9 351.2,131.1 351.5,141.9 351.8,148.5 352.1,130.0 352.4,145.3 352.7,161.6 353.0,142.6 353.3,118.2 353.6,114.6 353.9,105.6 354.2,104.6 354.5,126.6" fill="none" stroke="#30a068" stroke-width="1.05" stroke-linejoin="bevel"/>
<polyline points="353.4,159.9 353.7,163.6 354.0,152.3 354.3,137.6 354.6,141.7 354.9,135.8 355.2,146.5 355.5,142.1 355.8,145.9 356.1,147.9 356.4,143.7 356.7,132.2 357.0,144.9 357.3,142.5 357.6,134.3 357.9,143.4 358.2,155.1 358.5,144.2" fill="none" stroke="#606060" stroke-width="1.05" stroke-linejoin="bevel"/>
<polyline points="353.6,114.6 353.9,105.6 354.2,104.6 354.5,126.6 354.8,157.8 355.1,165.5 355.4,160.6 355.7,151.9 356.0,159.2 356.3,158.7 356.6,144.5 356.9,138.2 357.2,132.1 357.5,122.0 357.8,127.3 358.1,149.5 358.4,151.9" fill="none" stroke="#30a068" stroke-width="1.05" stroke-linejoin="bevel"/>
<polyline points="353.7,144.5 354.0,141.5 354.3,131.3 354.6,150.8 354.9,161.0 355.2,161.1 355.5,155.7 355.8,127.3 356.1,122.2 356.4,104.4 356.5,86.5 356.7,106.8 357.0,96.4 357.3,96.8 357.6,111.7 357.9,114.1 358.2,114.9 358.5,142.7" fill="none" stroke="#ae6ade" stroke-width="1.05" stroke-linejoin="bevel"/>
<polyline points="353.6,112.8 353.9,133.2 354.2,117.5 354.5,111.9 354.8,132.4 355.1,144.1 355.4,148.7 355.7,151.4 356.0,143.3 356.3,150.8 356.6,154.0 356.9,139.6 357.2,133.5 357.5,146.3 357.8,133.7 358.1,113.4 358.4,121.4" fill="none" stroke="#3068d4" stroke-width="1.05" stroke-linejoin="bevel"/>
<polyline points="353.6,126.3 353.9,119.5 354.2,113.3 354.5,132.5 354.8,159.5 355.1,159.7 355.4,153.6 355.7,153.3 356.0,149.9 356.3,160.8 356.6,161.4 356.9,161.2 357.2,157.2 357.5,131.2 357.8,118.8 358.1,119.0 358.4,146.5" fill="none" stroke="#ea5050" stroke-width="1.05" stroke-linejoin="bevel"/>
<polyline points="353.5,106.1 353.8,98.1 354.1,102.4 354.4,106.9 354.7,134.3 355.0,160.2 355.3,163.1 355.6,155.5 355.9,163.5 356.2,152.6 356.5,116.3 356.8,116.5 357.1,134.5 357.4,133.4 357.7,137.6 358.0,141.8 358.3,116.4" fill="none" stroke="#dca814" stroke-width="1.05" stroke-linejoin="bevel"/>
<polyline points="357.6,134.3 357.9,143.4 358.2,155.1 358.5,144.2 358.8,130.8 359.1,155.4 359.4,157.0 359.7,118.4 360.0,105.7 360.3,115.5 360.6,120.8 360.9,116.8 361.2,141.1 361.5,162.3 361.8,150.0 362.1,134.8 362.4,124.4" fill="none" stroke="#606060" stroke-width="1.05" stroke-linejoin="bevel"/>
<polyline points="357.6,111.7 357.9,114.1 358.2,114.9 358.5,142.7 358.8,139.7 359.1,114.3 359.4,101.2 359.7,110.2 360.0,124.0 360.3,120.2 360.6,105.1 360.9,114.3 361.2,127.1 361.5,108.3 361.8,102.3 362.1,108.6 362.4,107.5" fill="none" stroke="#ae6ade" stroke-width="1.05" stroke-linejoin="bevel"/>
<polyline points="357.5,122.0 357.8,127.3 358.1,149.5 358.4,151.9 358.7,140.6 359.0,113.4 359.3,111.4 359.6,123.2 359.9,107.9 360.2,107.1 360.5,123.0 360.8,154.7 361.1,156.0 361.4,144.3 361.7,152.9 362.0,164.5 362.3,164.4" fill="none" stroke="#30a068" stroke-width="1.05" stroke-linejoin="bevel"/>
<polyline points="357.5,131.2 357.8,118.8 358.1,119.0 358.4,146.5 358.7,159.9 359.0,159.7 359.3,159.5 359.6,138.9 359.9,106.2 360.0,96.7 360.2,119.8 360.5,152.5 360.8,147.5 361.1,124.0 361.4,120.4 361.7,127.8 362.0,128.7 362.3,117.1" fill="none" stroke="#ea5050" stroke-width="1.05" stroke-linejoin="bevel"/>
<polyline points="357.5,146.3 357.8,133.7 358.1,113.4 358.4,121.4 358.7,149.1 359.0,161.3 359.3,157.2 359.6,144.1 359.9,147.8 360.2,133.6 360.5,117.2 360.8,115.0 361.1,117.0 361.4,135.1 361.7,159.2 362.0,152.9 362.3,136.3" fill="none" stroke="#3068d4" stroke-width="1.05" stroke-linejoin="bevel"/>
<polyline points="357.4,133.4 357.7,137.6 358.0,141.8 358.3,116.4 358.6,108.5 358.9,121.3 359.2,109.6 359.5,105.3 359.8,112.1 360.1,115.9 360.4,123.6 360.7,125.8 361.0,141.7 361.3,161.3 361.6,158.4 361.9,148.9 362.2,142.2 362.5,120.7" fill="none" stroke="#dca814" stroke-width="1.05" stroke-linejoin="bevel"/>
<polyline points="361.5,162.3 361.8,150.0 362.1,134.8 362.4,124.4 362.7,124.4 363.0,138.6 363.3,125.9 363.6,121.3 363.9,124.8 364.2,138.9 364.5,150.9 364.8,153.5 365.1,151.1 365.4,139.3 365.7,124.2 366.0,123.7 366.3,143.0" fill="none" stroke="#606060" stroke-width="1.05" stroke-linejoin="bevel"/>
<polyline points="361.4,135.1 361.7,159.2 362.0,152.9 362.3,136.3 362.6,148.7 362.9,151.3 363.2,138.4 363.5,117.9 363.8,107.4 364.1,122.8 364.4,155.1 364.7,162.3 365.0,155.6 365.3,156.0 365.6,146.7 365.9,135.1 366.2,138.0 366.5,143.9" fill="none" stroke="#3068d4" stroke-width="1.05" stroke-linejoin="bevel"/>
<polyline points="361.4,120.4 361.7,127.8 362.0,128.7 362.3,117.1 362.6,107.7 362.9,123.1 363.2,135.1 363.5,146.1 363.8,150.2 364.1,143.7 364.4,116.8 364.7,106.2 365.0,106.1 365.3,118.4 365.6,138.7 365.9,139.6 366.2,143.5 366.5,142.2" fill="none" stroke="#ea5050" stroke-width="1.05" stroke-linejoin="bevel"/>
<polyline points="361.5,108.3 361.8,102.3 362.1,108.6 362.4,107.5 362.7,115.6 363.0,128.0 363.3,128.4 363.6,143.5 363.9,157.8 364.2,146.1 364.5,127.7 364.8,119.8 365.1,133.5 365.4,149.6 365.7,140.0 366.0,126.6 366.3,130.4 366.6,132.1" fill="none" stroke="#ae6ade" stroke-width="1.05" stroke-linejoin="bevel"/>
<polyline points="361.4,144.3 361.7,152.9 362.0,164.5 362.3,164.4 362.6,159.5 362.9,134.0 363.2,146.6 363.5,156.2 363.8,142.2 364.1,126.2 364.4,118.4 364.7,120.5 365.0,118.7 365.3,79.0 365.3,80.4 365.6,121.5 365.9,127.7 366.2,118.8 366.5,126.7" fill="none" stroke="#30a068" stroke-width="1.05" stroke-linejoin="bevel"/>
<polyline points="361.6,158.4 361.9,148.9 362.2,142.2 362.5,120.7 362.8,118.8 363.1,144.5 363.4,152.6 363.7,138.8 364.0,129.8 364.3,139.7 364.6,146.8 364.9,160.6 365.2,160.7 365.5,160.7 365.8,152.4 366.1,127.6 366.4,118.1" fill="none" stroke="#dca814" stroke-width="1.05" stroke-linejoin="bevel"/>
<polyline points="365.6,138.7 365.9,139.6 366.2,143.5 366.5,142.2 366.8,155.8 367.1,160.7 367.4,158.5 367.7,148.1 368.0,153.0 368.3,146.6 368.6,125.5 368.9,100.6 369.2,101.6 369.5,113.2 369.8,127.7 370.1,152.4 370.4,152.6" fill="none" stroke="#ea5050" stroke-width="1.05" stroke-linejoin="bevel"/>
<polyline points="365.7,140.0 366.0,126.6 366.3,130.4 366.6,132.1 366.9,142.7 367.2,142.3 367.5,130.8 367.8,136.9 368.1,128.0 368.4,133.5 368.7,157.6 369.0,157.6 369.3,129.7 369.6,94.1 369.6,89.3 369.9,120.1 370.2,129.0 370.5,137.6" fill="none" stroke="#ae6ade" stroke-width="1.05" stroke-linejoin="bevel"/>
<polyline points="365.4,139.3 365.7,124.2 366.0,123.7 366.3,143.0 366.6,141.6 366.9,125.9 367.2,111.9 367.5,112.1 367.8,117.5 368.1,121.5 368.4,122.7 368.7,110.5 369.0,108.4 369.3,129.9 369.6,151.2 369.9,151.4 370.2,154.5 370.5,157.0" fill="none" stroke="#606060" stroke-width="1.05" stroke-linejoin="bevel"/>
<polyline points="365.6,146.7 365.9,135.1 366.2,138.0 366.5,143.9 366.8,132.5 367.1,111.7 367.4,122.0 367.7,146.1 368.0,139.2 368.3,118.2 368.6,114.1 368.9,127.0 369.2,121.2 369.5,128.6 369.8,159.1 370.1,163.0 370.4,163.0" fill="none" stroke="#3068d4" stroke-width="1.05" stroke-linejoin="bevel"/>
<polyline points="365.6,121.5 365.9,127.7 366.2,118.8 366.5,126.7 366.8,141.1 367.1,143.3 367.4,138.4 367.7,132.7 368.0,131.2 368.3,153.5 368.6,150.4 368.9,118.0 369.2,117.7 369.5,148.7 369.8,147.1 370.1,127.4 370.4,130.1" fill="none" stroke="#30a068" stroke-width="1.05" stroke-linejoin="bevel"/>
<polyline points="365.5,160.7 365.8,152.4 366.1,127.6 366.4,118.1 366.7,127.3 367.0,123.8 367.3,134.5 367.6,147.7 367.9,134.8 368.2,127.4 368.5,142.3 368.8,148.0 369.1,145.8 369.4,140.2 369.7,144.9 370.0,143.7 370.3,134.8" fill="none" stroke="#dca814" stroke-width="1.05" stroke-linejoin="bevel"/>
<polyline points="369.6,94.1 369.6,89.3 369.9,120.1 370.2,129.0 370.5,137.6 370.8,127.5 371.1,125.2 371.4,128.4 371.7,122.5 372.0,136.2 372.3,143.4 372.6,134.3 372.9,137.6 373.2,148.6 373.5,141.0 373.8,127.8 374.1,129.2 374.4,123.0" fill="none" stroke="#ae6ade" stroke-width="1.05" stroke-linejoin="bevel"/>
<polyline points="369.6,151.2 369.9,151.4 370.2,154.5 370.5,157.0 370.8,142.8 371.1,125.8 371.4,134.1 371.7,141.4 372.0,146.5 372.3,148.2 372.6,136.3 372.9,123.5 373.2,107.1 373.5,102.3 373.8,101.1 374.1,102.8 374.4,133.3" fill="none" stroke="#606060" stroke-width="1.05" stroke-linejoin="bevel"/>
<polyline points="369.5,128.6 369.8,159.1 370.1,163.0 370.4,163.0 370.7,162.3 371.0,147.2 371.3,148.2 371.6,131.2 371.9,118.7 372.2,117.6 372.5,126.1 372.8,112.3 373.1,108.2 373.4,128.2 373.7,138.9 374.0,128.9 374.3,112.0" fill="none" stroke="#3068d4" stroke-width="1.05" stroke-linejoin="bevel"/>
<polyline points="369.5,148.7 369.8,147.1 370.1,127.4 370.4,130.1 370.7,140.2 371.0,130.1 371.3,132.1 371.6,139.0 371.9,119.3 372.2,102.9 372.5,103.1 372.8,109.7 373.1,112.5 373.4,114.1 373.7,133.0 374.0,135.4 374.3,144.5" fill="none" stroke="#30a068" stroke-width="1.05" stroke-linejoin="bevel"/>
<polyline points="369.5,113.2 369.8,127.7 370.1,152.4 370.4,152.6 370.7,142.2 371.0,135.2 371.3,134.7 371.6,119.3 371.9,118.8 372.2,106.3 372.5,106.7 372.8,135.2 373.1,159.9 373.4,159.8 373.7,140.3 374.0,121.8 374.3,114.9" fill="none" stroke="#ea5050" stroke-width="1.05" stroke-linejoin="bevel"/>
<polyline points="369.4,140.2 369.7,144.9 370.0,143.7 370.3,134.8 370.6,120.1 370.9,110.2 371.2,113.0 371.5,134.5 371.8,149.1 372.1,159.8 372.4,153.2 372.7,138.6 373.0,122.6 373.3,112.4 373.6,108.2 373.9,121.1 374.2,143.6 374.5,141.2" fill="none" stroke="#dca814" stroke-width="1.05" stroke-linejoin="bevel"/>
<polyline points="373.5,102.3 373.8,101.1 374.1,102.8 374.4,133.3 374.7,157.4 375.0,157.3 375.3,152.3 375.6,136.6 375.9,139.0 376.2,94.6 376.4,70.7 376.5,91.2 376.8,123.8 377.1,142.0 377.4,153.9 377.7,137.8 378.0,113.0 378.3,123.2" fill="none" stroke="#606060" stroke-width="1.05" stroke-linejoin="bevel"/>
<polyline points="373.4,128.2 373.7,138.9 374.0,128.9 374.3,112.0 374.6,109.0 374.9,128.4 375.2,156.4 375.5,157.1 375.8,126.4 376.1,120.3 376.4,99.0 376.6,76.0 376.7,94.7 377.0,136.5 377.3,149.3 377.6,125.1 377.9,108.2 378.2,129.1 378.5,159.3" fill="none" stroke="#3068d4" stroke-width="1.05" stroke-linejoin="bevel"/>
<polyline points="373.5,141.0 373.8,127.8 374.1,129.2 374.4,123.0 374.7,120.1 375.0,124.6 375.3,132.0 375.6,129.6 375.9,139.1 376.2,127.1 376.5,119.4 376.8,146.9 377.1,158.2 377.4,158.2 377.7,156.0 378.0,133.7 378.3,131.4 378.6,135.5" fill="none" stroke="#ae6ade" stroke-width="1.05" stroke-linejoin="bevel"/>
<polyline points="373.6,108.2 373.9,121.1 374.2,143.6 374.5,141.2 374.8,136.8 375.1,139.5 375.4,123.3 375.7,111.8 376.0,120.3 376.3,142.0 376.6,157.2 376.9,157.3 377.2,157.2 377.5,157.0 377.8,152.2 378.1,121.2 378.4,113.3" fill="none" stroke="#dca814" stroke-width="1.05" stroke-linejoin="bevel"/>
<polyline points="373.4,159.8 373.7,140.3 374.0,121.8 374.3,114.9 374.6,100.4 374.9,104.0 375.2,117.1 375.5,111.4 375.8,129.8 376.1,158.9 376.4,158.8 376.7,151.0 377.0,145.2 377.3,139.7 377.6,124.5 377.9,127.3 378.2,129.5 378.5,140.8" fill="none" stroke="#ea5050" stroke-width="1.05" stroke-linejoin="bevel"/>
<polyline points="373.4,114.1 373.7,133.0 374.0,135.4 374.3,144.5 374.6,156.7 374.9,156.1 375.2,143.7 375.5,145.6 375.8,144.2 376.1,145.5 376.4,131.5 376.7,129.5 377.0,120.9 377.3,124.4 377.6,140.7 377.9,139.9 378.2,128.7 378.5,138.3" fill="none" stroke="#30a068" stroke-width="1.05" stroke-linejoin="bevel"/>
<polyline points="377.4,153.9 377.7,137.8 378.0,113.0 378.3,123.2 378.6,147.5 378.9,157.1 379.2,157.2 379.5,146.8 379.8,129.7 380.1,121.1 380.4,103.6 380.7,101.0 381.0,117.5 381.3,129.3 381.6,128.9 381.9,137.1 382.2,117.7 382.5,102.6" fill="none" stroke="#606060" stroke-width="1.05" stroke-linejoin="bevel"/>
<polyline points="377.6,140.7 377.9,139.9 378.2,128.7 378.5,138.3 378.8,140.0 379.1,143.4 379.4,134.0 379.7,130.0 380.0,124.6 380.3,119.5 380.6,131.9 380.9,133.5 381.2,155.5 381.5,156.2 381.8,132.1 382.1,135.0 382.4,145.7" fill="none" stroke="#30a068" stroke-width="1.05" stroke-linejoin="bevel"/>
<polyline points="377.6,125.1 377.9,108.2 378.2,129.1 378.5,159.3 378.8,162.0 379.1,141.5 379.4,124.9 379.7,144.5 380.0,161.0 380.3,162.6 380.6,147.5 380.9,128.2 381.2,130.4 381.5,117.7 381.8,116.8 382.1,146.4 382.4,157.1" fill="none" stroke="#3068d4" stroke-width="1.05" stroke-linejoin="bevel"/>
<polyline points="377.7,156.0 378.0,133.7 378.3,131.4 378.6,135.5 378.9,125.8 379.2,131.0 379.5,146.4 379.8,152.1 380.1,136.6 380.4,106.4 380.7,100.1 381.0,60.2 381.0,53.0 381.3,98.9 381.6,130.6 381.9,125.7 382.2,119.5 382.5,119.7" fill="none" stroke="#ae6ade" stroke-width="1.05" stroke-linejoin="bevel"/>
<polyline points="377.6,124.5 377.9,127.3 378.2,129.5 378.5,140.8 378.8,142.4 379.1,134.5 379.4,127.6 379.7,138.4 380.0,139.8 380.3,123.4 380.6,128.7 380.9,149.6 381.2,157.9 381.5,149.9 381.8,130.9 382.1,126.6 382.4,121.4" fill="none" stroke="#ea5050" stroke-width="1.05" stroke-linejoin="bevel"/>
<polyline points="377.5,157.0 377.8,152.2 378.1,121.2 378.4,113.3 378.7,114.0 379.0,120.2 379.3,131.5 379.6,115.0 379.9,116.0 380.2,144.4 380.5,149.5 380.8,132.7 381.1,134.9 381.4,142.0 381.7,138.5 382.0,130.1 382.3,91.3 382.4,81.8" fill="none" stroke="#dca814" stroke-width="1.05" stroke-linejoin="bevel"/>
<polyline points="381.6,128.9 381.9,137.1 382.2,117.7 382.5,102.6 382.8,117.9 383.1,140.7 383.4,129.8 383.7,118.2 384.0,122.5 384.3,125.3 384.6,139.8 384.9,136.2 385.2,124.7 385.5,121.6 385.8,135.9 386.1,142.1 386.4,138.6" fill="none" stroke="#606060" stroke-width="1.05" stroke-linejoin="bevel"/>
<polyline points="381.6,130.6 381.9,125.7 382.2,119.5 382.5,119.7 382.8,147.9 383.1,158.9 383.4,159.0 383.7,148.4 384.0,143.7 384.3,140.1 384.6,118.1 384.9,109.1 385.2,112.9 385.5,115.1 385.8,113.5 386.1,117.2 386.4,135.3" fill="none" stroke="#ae6ade" stroke-width="1.05" stroke-linejoin="bevel"/>
<polyline points="381.5,156.2 381.8,132.1 382.1,135.0 382.4,145.7 382.7,150.8 383.0,145.9 383.3,153.8 383.6,152.1 383.9,140.0 384.2,113.4 384.5,108.9 384.8,124.1 385.1,126.4 385.4,109.7 385.7,110.6 386.0,135.8 386.3,158.9" fill="none" stroke="#30a068" stroke-width="1.05" stroke-linejoin="bevel"/>
<polyline points="381.5,117.7 381.8,116.8 382.1,146.4 382.4,157.1 382.7,158.8 383.0,161.4 383.3,156.5 383.6,118.1 383.9,106.9 384.2,118.6 384.5,124.0 384.8,140.9 385.1,141.6 385.4,134.7 385.7,137.3 386.0,129.6 386.3,118.9" fill="none" stroke="#3068d4" stroke-width="1.05" stroke-linejoin="bevel"/>
<polyline points="381.5,149.9 381.8,130.9 382.1,126.6 382.4,121.4 382.7,120.5 383.0,118.0 383.3,122.4 383.6,137.1 383.9,147.5 384.2,143.6 384.5,130.1 384.8,122.5 385.1,132.6 385.4,135.8 385.7,139.9 386.0,134.0 386.3,135.9" fill="none" stroke="#ea5050" stroke-width="1.05" stroke-linejoin="bevel"/>
<polyline points="381.4,142.0 381.7,138.5 382.0,130.1 382.3,91.3 382.4,81.8 382.6,111.0 382.9,134.1 383.2,125.1 383.5,124.3 383.8,127.6 384.1,133.0 384.4,127.9 384.7,124.8 385.0,140.8 385.3,147.3 385.6,148.2 385.9,152.9 386.2,144.8 386.5,130.1" fill="none" stroke="#dca814" stroke-width="1.05" stroke-linejoin="bevel"/>
<polyline points="385.5,121.6 385.8,135.9 386.1,142.1 386.4,138.6 386.7,149.9 387.0,147.6 387.3,133.7 387.6,124.7 387.9,130.3 388.2,129.2 388.5,122.2 388.8,115.4 389.1,113.4 389.4,127.4 389.7,142.7 390.0,158.1 390.3,158.1" fill="none" stroke="#606060" stroke-width="1.05" stroke-linejoin="bevel"/>
<polyline points="385.4,109.7 385.7,110.6 386.0,135.8 386.3,158.9 386.6,152.1 386.9,128.9 387.2,114.8 387.5,111.5 387.8,117.4 388.1,132.2 388.4,128.5 388.7,135.3 389.0,146.8 389.3,155.3 389.6,145.7 389.9,134.3 390.2,132.3 390.5,141.6" fill="none" stroke="#30a068" stroke-width="1.05" stroke-linejoin="bevel"/>
<polyline points="385.4,135.8 385.7,139.9 386.0,134.0 386.3,135.9 386.6,146.3 386.9,131.3 387.2,117.2 387.5,117.2 387.8,120.7 388.1,141.3 388.4,153.1 388.7,143.0 389.0,126.2 389.3,127.5 389.6,143.4 389.9,158.9 390.2,159.0 390.5,138.0" fill="none" stroke="#ea5050" stroke-width="1.05" stroke-linejoin="bevel"/>
<polyline points="385.4,134.7 385.7,137.3 386.0,129.6 386.3,118.9 386.6,109.0 386.9,117.1 387.2,133.9 387.5,135.7 387.8,135.3 388.1,135.1 388.4,136.2 388.7,146.3 389.0,158.2 389.3,158.1 389.6,144.4 389.9,118.0 390.2,112.8 390.5,115.4" fill="none" stroke="#3068d4" stroke-width="1.05" stroke-linejoin="bevel"/>
<polyline points="385.5,115.1 385.8,113.5 386.1,117.2 386.4,135.3 386.7,154.0 387.0,159.6 387.3,148.8 387.6,127.3 387.9,107.1 388.2,111.4 388.5,136.2 388.8,160.7 389.1,161.4 389.4,161.5 389.7,160.6 390.0,147.9 390.3,143.7 390.6,158.3" fill="none" stroke="#ae6ade" stroke-width="1.05" stroke-linejoin="bevel"/>
<polyline points="385.6,148.2 385.9,152.9 386.2,144.8 386.5,130.1 386.8,117.9 387.1,112.6 387.4,125.7 387.7,127.0 388.0,117.0 388.3,108.7 388.6,115.7 388.9,143.9 389.2,148.1 389.5,127.2 389.8,103.2 390.0,80.0 390.1,96.8 390.4,123.2" fill="none" stroke="#dca814" stroke-width="1.05" stroke-linejoin="bevel"/>
<polyline points="389.4,127.4 389.7,142.7 390.0,158.1 390.3,158.1 390.6,158.1 390.9,153.6 391.2,147.6 391.5,146.9 391.8,134.9 392.1,132.9 392.4,152.5 392.7,155.7 393.0,152.8 393.3,159.0 393.6,158.8 393.9,144.3 394.2,134.8 394.5,124.2" fill="none" stroke="#606060" stroke-width="1.05" stroke-linejoin="bevel"/>
<polyline points="389.6,144.4 389.9,118.0 390.2,112.8 390.5,115.4 390.8,114.2 391.1,118.5 391.4,132.0 391.7,148.8 392.0,157.4 392.3,152.1 392.6,132.9 392.9,129.9 393.2,130.8 393.5,144.5 393.8,136.9 394.1,129.4 394.4,136.8" fill="none" stroke="#3068d4" stroke-width="1.05" stroke-linejoin="bevel"/>
<polyline points="389.7,160.6 390.0,147.9 390.3,143.7 390.6,158.3 390.9,150.6 391.2,130.2 391.5,132.5 391.8,136.5 392.1,134.3 392.4,137.5 392.7,144.9 393.0,145.0 393.3,146.9 393.6,132.6 393.9,129.2 394.2,138.0 394.5,139.5" fill="none" stroke="#ae6ade" stroke-width="1.05" stroke-linejoin="bevel"/>
<polyline points="389.6,143.4 389.9,158.9 390.2,159.0 390.5,138.0 390.8,123.8 391.1,131.1 391.4,149.1 391.7,159.4 392.0,155.3 392.3,143.4 392.6,144.2 392.9,148.0 393.2,153.7 393.5,146.1 393.8,147.3 394.1,149.7 394.4,130.3" fill="none" stroke="#ea5050" stroke-width="1.05" stroke-linejoin="bevel"/>
<polyline points="389.6,145.7 389.9,134.3 390.2,132.3 390.5,141.6 390.8,144.6 391.1,134.7 391.4,135.8 391.7,128.9 392.0,133.3 392.3,134.4 392.6,137.5 392.9,134.0 393.2,142.9 393.5,152.3 393.8,149.5 394.1,148.4 394.4,140.0" fill="none" stroke="#30a068" stroke-width="1.05" stroke-linejoin="bevel"/>
<polyline points="389.5,127.2 389.8,103.2 390.0,80.0 390.1,96.8 390.4,123.2 390.7,129.3 391.0,128.7 391.3,140.7 391.6,140.8 391.9,122.6 392.2,118.4 392.5,130.8 392.8,105.3 392.9,97.6 393.1,121.2 393.4,119.1 393.7,121.7 394.0,133.7 394.3,151.0" fill="none" stroke="#dca814" stroke-width="1.05" stroke-linejoin="bevel"/>
<polyline points="393.6,158.8 393.9,144.3 394.2,134.8 394.5,124.2 394.8,125.4 395.1,130.8 395.4,142.0 395.7,139.9 396.0,126.5 396.3,122.8 396.6,127.4 396.9,148.7 397.2,156.4 397.5,149.7 397.8,160.7 398.1,162.1 398.4,151.2" fill="none" stroke="#606060" stroke-width="1.05" stroke-linejoin="bevel"/>
<polyline points="393.6,132.6 393.9,129.2 394.2,138.0 394.5,139.5 394.8,143.2 395.1,133.8 395.4,136.9 395.7,146.2 396.0,147.3 396.3,136.8 396.6,141.4 396.9,153.0 397.2,154.2 397.5,151.3 397.8,158.5 398.1,159.3 398.4,153.1" fill="none" stroke="#ae6ade" stroke-width="1.05" stroke-linejoin="bevel"/>
<polyline points="393.5,152.3 393.8,149.5 394.1,148.4 394.4,140.0 394.7,138.7 395.0,134.0 395.3,146.6 395.6,152.1 395.9,142.2 396.2,141.1 396.5,131.6 396.8,122.9 397.1,124.9 397.4,119.4 397.7,123.7 398.0,136.2 398.3,143.8" fill="none" stroke="#30a068" stroke-width="1.05" stroke-linejoin="bevel"/>
<polyline points="393.5,144.5 393.8,136.9 394.1,129.4 394.4,136.8 394.7,123.8 395.0,124.5 395.3,131.6 395.6,120.9 395.9,123.8 396.2,133.4 396.5,130.7 396.8,133.7 397.1,123.7 397.4,118.7 397.7,126.2 398.0,137.4 398.3,149.0" fill="none" stroke="#3068d4" stroke-width="1.05" stroke-linejoin="bevel"/>
<polyline points="393.5,146.1 393.8,147.3 394.1,149.7 394.4,130.3 394.7,129.0 395.0,143.4 395.3,132.9 395.6,122.1 395.9,126.9 396.2,135.2 396.5,156.2 396.8,161.4 397.1,152.5 397.4,136.7 397.7,135.9 398.0,136.1 398.3,149.0" fill="none" stroke="#ea5050" stroke-width="1.05" stroke-linejoin="bevel"/>
<polyline points="393.4,119.1 393.7,121.7 394.0,133.7 394.3,151.0 394.6,157.1 394.9,149.0 395.2,125.2 395.5,124.1 395.8,142.7 396.1,145.9 396.4,133.7 396.7,144.1 397.0,136.3 397.3,107.3 397.5,85.5 397.6,101.3 397.9,138.9 398.2,160.1 398.5,148.5" fill="none" stroke="#dca814" stroke-width="1.05" stroke-linejoin="bevel"/>
<polyline points="397.5,149.7 397.8,160.7 398.1,162.1 398.4,151.2 398.7,139.9 399.0,139.6 399.3,136.2 399.6,143.6 399.9,150.0 400.2,144.2 400.5,145.0 400.8,153.0 401.1,150.8 401.4,146.1 401.7,131.8 402.0,140.8 402.3,161.8" fill="none" stroke="#606060" stroke-width="1.05" stroke-linejoin="bevel"/>
<polyline points="397.5,151.3 397.8,158.5 398.1,159.3 398.4,153.1 398.7,138.5 399.0,146.6 399.3,157.1 399.6,152.1 399.9,148.4 400.2,136.7 400.5,127.3 400.8,127.4 401.1,125.4 401.4,126.9 401.7,129.5 402.0,136.2 402.3,137.7 402.6,139.0" fill="none" stroke="#ae6ade" stroke-width="1.05" stroke-linejoin="bevel"/>
<polyline points="397.4,119.4 397.7,123.7 398.0,136.2 398.3,143.8 398.6,127.5 398.9,127.1 399.2,144.2 399.5,145.0 399.8,142.9 400.1,128.1 400.4,131.5 400.7,144.5 401.0,134.3 401.3,130.7 401.6,137.4 401.9,140.6 402.2,127.8 402.5,126.2" fill="none" stroke="#30a068" stroke-width="1.05" stroke-linejoin="bevel"/>
<polyline points="397.4,118.7 397.7,126.2 398.0,137.4 398.3,149.0 398.6,153.9 398.9,151.9 399.2,150.9 399.5,140.8 399.8,131.1 400.1,130.2 400.4,138.3 400.7,137.8 401.0,133.8 401.3,144.3 401.6,147.4 401.9,138.0 402.2,151.8 402.5,157.8" fill="none" stroke="#3068d4" stroke-width="1.05" stroke-linejoin="bevel"/>
<polyline points="397.4,136.7 397.7,135.9 398.0,136.1 398.3,149.0 398.6,146.4 398.9,135.2 399.2,123.1 399.5,120.4 399.8,122.9 400.1,134.5 400.4,143.1 400.7,129.4 401.0,121.3 401.3,125.6 401.6,137.0 401.9,147.0 402.2,147.3 402.5,133.7" fill="none" stroke="#ea5050" stroke-width="1.05" stroke-linejoin="bevel"/>
<polyline points="397.5,85.5 397.6,101.3 397.9,138.9 398.2,160.1 398.5,148.5 398.8,139.9 399.1,145.2 399.4,142.5 399.7,135.4 400.0,134.5 400.3,130.3 400.6,89.6 400.7,79.6 400.9,110.3 401.2,136.0 401.5,153.7 401.8,154.9 402.1,155.1 402.4,156.7" fill="none" stroke="#dca814" stroke-width="1.05" stroke-linejoin="bevel"/>
<polyline points="401.4,146.1 401.7,131.8 402.0,140.8 402.3,161.8 402.6,164.1 402.9,164.2 403.2,155.0 403.5,141.7 403.8,133.2 404.1,133.8 404.4,139.6 404.7,139.2 405.0,143.9 405.3,155.5 405.6,159.3 405.9,150.6 406.2,145.8 406.5,152.9" fill="none" stroke="#606060" stroke-width="1.05" stroke-linejoin="bevel"/>
<polyline points="401.7,129.5 402.0,136.2 402.3,137.7 402.6,139.0 402.9,129.5 403.2,127.8 403.5,141.5 403.8,145.9 404.1,150.2 404.4,157.3 404.7,154.2 405.0,143.1 405.3,129.6 405.6,135.8 405.9,155.9 406.2,161.3 406.5,154.1" fill="none" stroke="#ae6ade" stroke-width="1.05" stroke-linejoin="bevel"/>
<polyline points="401.6,137.4 401.9,140.6 402.2,127.8 402.5,126.2 402.8,129.1 403.1,135.2 403.4,111.7 403.6,88.7 403.7,102.0 404.0,138.2 404.3,125.7 404.6,134.5 404.9,144.8 405.2,127.9 405.5,124.2 405.8,135.5 406.1,143.4 406.4,137.4" fill="none" stroke="#30a068" stroke-width="1.05" stroke-linejoin="bevel"/>
<polyline points="401.6,147.4 401.9,138.0 402.2,151.8 402.5,157.8 402.8,148.3 403.1,127.1 403.4,129.4 403.7,142.5 404.0,131.0 404.3,114.7 404.6,113.6 404.9,121.2 405.2,125.4 405.5,144.3 405.8,157.7 406.1,157.7 406.4,157.7" fill="none" stroke="#3068d4" stroke-width="1.05" stroke-linejoin="bevel"/>
<polyline points="401.6,137.0 401.9,147.0 402.2,147.3 402.5,133.7 402.8,128.7 403.1,127.0 403.4,139.9 403.7,144.9 404.0,142.3 404.3,130.8 404.6,126.9 404.9,143.5 405.2,151.5 405.5,156.5 405.8,160.3 406.1,154.7 406.4,134.7" fill="none" stroke="#ea5050" stroke-width="1.05" stroke-linejoin="bevel"/>
<polyline points="401.5,153.7 401.8,154.9 402.1,155.1 402.4,156.7 402.7,162.4 403.0,163.2 403.3,160.3 403.6,144.1 403.9,138.3 404.2,141.4 404.5,132.3 404.8,136.4 405.1,138.2 405.4,155.7 405.7,163.7 406.0,163.7 406.3,161.0" fill="none" stroke="#dca814" stroke-width="1.05" stroke-linejoin="bevel"/>
<polyline points="405.6,159.3 405.9,150.6 406.2,145.8 406.5,152.9 406.8,154.5 407.1,164.5 407.4,160.4 407.7,138.3 408.0,124.7 408.3,125.0 408.6,134.8 408.9,139.8 409.2,126.5 409.5,122.5 409.8,120.6 410.1,122.7 410.4,136.4" fill="none" stroke="#606060" stroke-width="1.05" stroke-linejoin="bevel"/>
<polyline points="405.6,135.8 405.9,155.9 406.2,161.3 406.5,154.1 406.8,147.2 407.1,154.5 407.4,155.0 407.7,144.4 408.0,143.7 408.3,137.9 408.6,123.9 408.9,119.7 409.2,123.8 409.5,128.8 409.8,134.1 410.1,144.0 410.4,153.0" fill="none" stroke="#ae6ade" stroke-width="1.05" stroke-linejoin="bevel"/>
<polyline points="405.5,144.3 405.8,157.7 406.1,157.7 406.4,157.7 406.7,148.9 407.0,118.9 407.3,112.4 407.6,112.7 407.9,129.3 408.2,140.8 408.5,143.7 408.8,143.6 409.1,145.0 409.4,135.7 409.7,134.2 410.0,135.9 410.3,149.8" fill="none" stroke="#3068d4" stroke-width="1.05" stroke-linejoin="bevel"/>
<polyline points="405.5,156.5 405.8,160.3 406.1,154.7 406.4,134.7 406.7,135.3 407.0,131.0 407.3,126.7 407.6,134.6 407.9,142.1 408.2,132.2 408.5,125.1 408.8,128.8 409.1,122.3 409.4,121.2 409.7,122.4 410.0,122.7 410.3,122.1" fill="none" stroke="#ea5050" stroke-width="1.05" stroke-linejoin="bevel"/>
<polyline points="405.5,124.2 405.8,135.5 406.1,143.4 406.4,137.4 406.7,139.4 407.0,137.6 407.3,148.4 407.6,141.0 407.9,111.8 408.0,103.0 408.2,123.4 408.5,130.9 408.8,136.8 409.1,143.1 409.4,142.5 409.7,153.5 410.0,155.9 410.3,161.7" fill="none" stroke="#30a068" stroke-width="1.05" stroke-linejoin="bevel"/>
<polyline points="405.4,155.7 405.7,163.7 406.0,163.7 406.3,161.0 406.6,136.3 406.9,130.7 407.2,130.8 407.5,144.3 407.8,156.7 408.1,142.6 408.4,133.4 408.7,137.4 409.0,140.2 409.3,142.1 409.6,125.6 409.9,122.6 410.2,122.7 410.5,134.6" fill="none" stroke="#dca814" stroke-width="1.05" stroke-linejoin="bevel"/>
<polyline points="409.5,122.5 409.8,120.6 410.1,122.7 410.4,136.4 410.7,136.6 411.0,149.0 411.3,150.2 411.6,158.3 411.9,162.4 412.2,153.4 412.5,148.5 412.8,138.6 413.1,145.2 413.4,160.8 413.7,162.3 414.0,142.2 414.3,130.1" fill="none" stroke="#606060" stroke-width="1.05" stroke-linejoin="bevel"/>
<polyline points="409.4,135.7 409.7,134.2 410.0,135.9 410.3,149.8 410.6,145.3 410.9,124.9 411.2,119.0 411.5,124.0 411.8,123.0 412.1,116.3 412.4,127.3 412.7,146.2 413.0,152.1 413.3,139.7 413.6,130.3 413.9,136.4 414.2,127.3 414.5,131.3" fill="none" stroke="#3068d4" stroke-width="1.05" stroke-linejoin="bevel"/>
<polyline points="409.6,125.6 409.9,122.6 410.2,122.7 410.5,134.6 410.8,132.5 411.1,138.4 411.4,151.7 411.7,159.2 412.0,155.0 412.3,141.4 412.6,140.3 412.9,134.9 413.2,144.2 413.5,145.9 413.8,133.1 414.1,137.9 414.4,153.0" fill="none" stroke="#dca814" stroke-width="1.05" stroke-linejoin="bevel"/>
<polyline points="409.4,121.2 409.7,122.4 410.0,122.7 410.3,122.1 410.6,127.8 410.9,133.0 411.2,145.6 411.5,146.8 411.8,153.4 412.1,150.0 412.4,138.1 412.7,131.7 413.0,138.1 413.3,156.7 413.6,162.8 413.9,160.2 414.2,149.1 414.5,144.3" fill="none" stroke="#ea5050" stroke-width="1.05" stroke-linejoin="bevel"/>
<polyline points="409.5,128.8 409.8,134.1 410.1,144.0 410.4,153.0 410.7,151.2 411.0,156.1 411.3,158.8 411.6,152.1 411.9,139.4 412.2,135.0 412.5,149.1 412.8,154.2 413.1,149.5 413.4,141.3 413.7,146.5 414.0,147.6 414.3,145.3 414.6,146.3" fill="none" stroke="#ae6ade" stroke-width="1.05" stroke-linejoin="bevel"/>
<polyline points="409.4,142.5 409.7,153.5 410.0,155.9 410.3,161.7 410.6,163.1 410.9,163.2 411.2,163.4 411.5,163.5 411.8,158.1 412.1,138.2 412.4,131.5 412.7,125.1 413.0,131.6 413.3,143.9 413.6,133.9 413.9,133.8 414.2,144.8 414.5,140.2" fill="none" stroke="#30a068" stroke-width="1.05" stroke-linejoin="bevel"/>
<polyline points="413.4,160.8 413.7,162.3 414.0,142.2 414.3,130.1 414.6,130.0 414.9,135.1 415.2,136.9 415.5,145.5 415.8,131.4 416.1,133.0 416.4,144.4 416.7,138.8 417.0,146.5 417.3,144.7 417.6,145.1 417.9,135.9 418.2,136.2 418.5,153.3" fill="none" stroke="#606060" stroke-width="1.05" stroke-linejoin="bevel"/>
<polyline points="413.6,133.9 413.9,133.8 414.2,144.8 414.5,140.2 414.8,146.1 415.1,135.1 415.4,126.6 415.7,131.1 416.0,132.7 416.3,128.8 416.6,128.3 416.9,142.9 417.2,156.0 417.5,162.6 417.8,164.8 418.1,164.7 418.4,161.4" fill="none" stroke="#30a068" stroke-width="1.05" stroke-linejoin="bevel"/>
<polyline points="413.6,162.8 413.9,160.2 414.2,149.1 414.5,144.3 414.8,129.7 415.1,132.2 415.4,143.7 415.7,147.6 416.0,154.4 416.3,151.4 416.6,151.8 416.9,147.2 417.2,147.4 417.5,141.0 417.8,140.4 418.1,157.9 418.4,165.4" fill="none" stroke="#ea5050" stroke-width="1.05" stroke-linejoin="bevel"/>
<polyline points="413.6,130.3 413.9,136.4 414.2,127.3 414.5,131.3 414.8,154.8 415.1,159.6 415.4,159.7 415.7,151.2 416.0,145.6 416.3,137.0 416.6,138.1 416.9,142.6 417.2,137.7 417.5,131.6 417.8,138.1 418.1,154.7 418.4,160.1" fill="none" stroke="#3068d4" stroke-width="1.05" stroke-linejoin="bevel"/>
<polyline points="413.7,146.5 414.0,147.6 414.3,145.3 414.6,146.3 414.9,150.2 415.2,141.0 415.5,137.4 415.8,138.8 416.1,129.7 416.4,135.9 416.7,151.3 417.0,156.7 417.3,158.1 417.6,157.1 417.9,154.5 418.2,138.0 418.5,126.9" fill="none" stroke="#ae6ade" stroke-width="1.05" stroke-linejoin="bevel"/>
<polyline points="413.5,145.9 413.8,133.1 414.1,137.9 414.4,153.0 414.7,151.6 415.0,152.7 415.3,154.6 415.6,141.0 415.9,125.5 416.2,125.2 416.5,131.0 416.8,144.9 417.1,159.5 417.4,159.4 417.7,157.1 418.0,134.2 418.3,130.4" fill="none" stroke="#dca814" stroke-width="1.05" stroke-linejoin="bevel"/>
<polyline points="417.6,145.1 417.9,135.9 418.2,136.2 418.5,153.3 418.8,149.3 419.1,135.8 419.4,145.7 419.7,162.5 420.0,162.4 420.3,162.3 420.6,162.2 420.9,151.9 421.2,140.7 421.5,148.8 421.8,159.7 422.1,155.8 422.4,149.0" fill="none" stroke="#606060" stroke-width="1.05" stroke-linejoin="bevel"/>
<polyline points="417.5,141.0 417.8,140.4 418.1,157.9 418.4,165.4 418.7,157.5 419.0,129.0 419.3,119.9 419.6,138.5 419.9,154.7 420.2,150.2 420.5,153.5 420.8,152.6 421.1,132.6 421.4,123.7 421.7,131.3 422.0,130.6 422.3,132.0" fill="none" stroke="#ea5050" stroke-width="1.05" stroke-linejoin="bevel"/>
<polyline points="417.5,131.6 417.8,138.1 418.1,154.7 418.4,160.1 418.7,154.4 419.0,138.0 419.3,129.3 419.6,144.4 419.9,159.2 420.2,157.3 420.5,152.9 420.8,140.8 421.1,122.7 421.4,122.0 421.7,131.1 422.0,142.1 422.3,154.3" fill="none" stroke="#3068d4" stroke-width="1.05" stroke-linejoin="bevel"/>
<polyline points="417.6,157.1 417.9,154.5 418.2,138.0 418.5,126.9 418.8,131.0 419.1,146.3 419.4,147.0 419.7,142.7 420.0,143.7 420.3,148.7 420.6,154.8 420.9,149.4 421.2,143.1 421.5,138.2 421.8,132.6 422.1,137.9 422.4,142.8" fill="none" stroke="#ae6ade" stroke-width="1.05" stroke-linejoin="bevel"/>
<polyline points="417.5,162.6 417.8,164.8 418.1,164.7 418.4,161.4 418.7,142.3 419.0,126.8 419.3,127.1 419.6,127.6 419.9,131.4 420.2,142.8 420.5,155.8 420.8,164.2 421.1,163.4 421.4,150.1 421.7,133.2 422.0,124.8 422.3,139.5" fill="none" stroke="#30a068" stroke-width="1.05" stroke-linejoin="bevel"/>
<polyline points="417.4,159.4 417.7,157.1 418.0,134.2 418.3,130.4 418.6,143.3 418.9,147.1 419.2,137.4 419.5,136.9 419.8,134.3 420.1,131.1 420.4,146.1 420.7,150.4 421.0,132.8 421.3,134.7 421.6,149.0 421.9,151.2 422.2,149.4 422.5,136.5" fill="none" stroke="#dca814" stroke-width="1.05" stroke-linejoin="bevel"/>
<polyline points="421.5,148.8 421.8,159.7 422.1,155.8 422.4,149.0 422.7,144.9 423.0,139.0 423.3,134.8 423.6,135.9 423.9,147.0 424.2,154.1 424.5,140.3 424.8,131.7 425.1,135.4 425.4,139.4 425.7,140.8 426.0,149.0 426.3,142.9" fill="none" stroke="#606060" stroke-width="1.05" stroke-linejoin="bevel"/>
<polyline points="421.5,138.2 421.8,132.6 422.1,137.9 422.4,142.8 422.7,147.8 423.0,154.6 423.3,148.0 423.6,140.1 423.9,138.7 424.2,142.1 424.5,142.6 424.8,151.5 425.1,159.5 425.4,150.2 425.7,136.5 426.0,139.5 426.3,148.3 426.6,153.9" fill="none" stroke="#ae6ade" stroke-width="1.05" stroke-linejoin="bevel"/>
<polyline points="421.4,123.7 421.7,131.3 422.0,130.6 422.3,132.0 422.6,145.3 422.9,128.3 423.2,118.7 423.5,118.8 423.8,126.1 424.1,126.3 424.4,137.7 424.7,147.9 425.0,154.5 425.3,165.6 425.6,165.5 425.9,150.8 426.2,147.4 426.5,152.9" fill="none" stroke="#ea5050" stroke-width="1.05" stroke-linejoin="bevel"/>
<polyline points="421.4,122.0 421.7,131.1 422.0,142.1 422.3,154.3 422.6,145.9 422.9,133.9 423.2,131.1 423.5,140.5 423.8,141.3 424.1,137.8 424.4,141.8 424.7,128.2 425.0,121.4 425.3,118.7 425.6,122.8 425.9,130.6 426.2,123.1 426.5,124.5" fill="none" stroke="#3068d4" stroke-width="1.05" stroke-linejoin="bevel"/>
<polyline points="421.4,150.1 421.7,133.2 422.0,124.8 422.3,139.5 422.6,150.4 422.9,141.2 423.2,149.5 423.5,162.0 423.8,158.1 424.1,141.8 424.4,146.5 424.7,156.7 425.0,150.6 425.3,133.3 425.6,124.2 425.9,128.5 426.2,144.1 426.5,155.2" fill="none" stroke="#30a068" stroke-width="1.05" stroke-linejoin="bevel"/>
<polyline points="421.6,149.0 421.9,151.2 422.2,149.4 422.5,136.5 422.8,125.9 423.1,131.5 423.4,148.7 423.7,158.1 424.0,148.1 424.3,135.1 424.6,126.8 424.9,123.6 425.2,130.0 425.5,128.9 425.8,128.6 426.1,130.6 426.4,132.1" fill="none" stroke="#dca814" stroke-width="1.05" stroke-linejoin="bevel"/>
<polyline points="425.4,139.4 425.7,140.8 426.0,149.0 426.3,142.9 426.6,138.8 426.9,144.2 427.2,150.2 427.5,145.9 427.8,159.2 428.1,162.1 428.4,151.2 428.7,149.9 429.0,158.1 429.3,152.1 429.6,140.3 429.9,147.9 430.2,156.6 430.5,159.2" fill="none" stroke="#606060" stroke-width="1.05" stroke-linejoin="bevel"/>
<polyline points="425.7,136.5 426.0,139.5 426.3,148.3 426.6,153.9 426.9,143.0 427.2,143.0 427.5,145.7 427.8,137.1 428.1,144.1 428.4,161.5 428.7,158.3 429.0,151.9 429.3,153.5 429.6,150.9 429.9,153.2 430.2,141.0 430.5,135.5" fill="none" stroke="#ae6ade" stroke-width="1.05" stroke-linejoin="bevel"/>
<polyline points="425.6,165.5 425.9,150.8 426.2,147.4 426.5,152.9 426.8,147.3 427.1,156.7 427.4,158.6 427.7,144.4 428.0,133.2 428.3,130.8 428.6,123.2 428.9,124.5 429.2,128.8 429.5,130.3 429.8,139.9 430.1,140.0 430.4,144.0" fill="none" stroke="#ea5050" stroke-width="1.05" stroke-linejoin="bevel"/>
<polyline points="425.6,124.2 425.9,128.5 426.2,144.1 426.5,155.2 426.8,161.7 427.1,151.9 427.4,131.8 427.7,126.4 428.0,126.6 428.3,130.9 428.6,143.9 428.9,157.6 429.2,159.2 429.5,143.3 429.8,134.3 430.1,132.9 430.4,132.3" fill="none" stroke="#30a068" stroke-width="1.05" stroke-linejoin="bevel"/>
<polyline points="425.6,122.8 425.9,130.6 426.2,123.1 426.5,124.5 426.8,138.6 427.1,152.5 427.4,147.3 427.7,146.3 428.0,156.4 428.3,154.5 428.6,151.0 428.9,157.1 429.2,158.2 429.5,156.8 429.8,160.8 430.1,157.0 430.4,153.2" fill="none" stroke="#3068d4" stroke-width="1.05" stroke-linejoin="bevel"/>
<polyline points="425.5,128.9 425.8,128.6 426.1,130.6 426.4,132.1 426.7,132.4 427.0,146.6 427.3,144.5 427.6,132.2 427.9,123.1 428.2,128.9 428.5,143.0 428.8,147.0 429.1,133.7 429.4,121.2 429.7,130.7 430.0,141.1 430.3,137.3" fill="none" stroke="#dca814" stroke-width="1.05" stroke-linejoin="bevel"/>
<polyline points="429.6,140.3 429.9,147.9 430.2,156.6 430.5,159.2 430.8,146.9 431.1,135.7 431.4,139.3 431.7,153.0 432.0,151.3 432.3,134.5 432.6,123.7 432.9,132.8 433.2,158.6 433.5,166.7 433.8,160.8 434.1,151.9 434.4,148.7" fill="none" stroke="#606060" stroke-width="1.05" stroke-linejoin="bevel"/>
<polyline points="429.6,150.9 429.9,153.2 430.2,141.0 430.5,135.5 430.8,149.5 431.1,158.5 431.4,148.2 431.7,140.9 432.0,139.5 432.3,129.1 432.6,124.2 432.9,131.0 433.2,125.1 433.5,121.8 433.8,127.1 434.1,148.3 434.4,144.7" fill="none" stroke="#ae6ade" stroke-width="1.05" stroke-linejoin="bevel"/>
<polyline points="429.5,143.3 429.8,134.3 430.1,132.9 430.4,132.3 430.7,128.1 431.0,132.8 431.3,143.1 431.6,135.6 431.9,136.2 432.2,138.7 432.5,132.2 432.8,132.1 433.1,138.2 433.4,141.1 433.7,141.9 434.0,149.7 434.3,160.2" fill="none" stroke="#30a068" stroke-width="1.05" stroke-linejoin="bevel"/>
<polyline points="429.5,130.3 429.8,139.9 430.1,140.0 430.4,144.0 430.7,157.7 431.0,150.0 431.3,133.2 431.6,133.9 431.9,107.0 431.9,108.2 432.2,136.3 432.5,164.9 432.8,162.7 433.1,148.9 433.4,149.2 433.7,151.3 434.0,155.5 434.3,147.6" fill="none" stroke="#ea5050" stroke-width="1.05" stroke-linejoin="bevel"/>
<polyline points="429.5,156.8 429.8,160.8 430.1,157.0 430.4,153.2 430.7,157.1 431.0,156.4 431.3,145.3 431.6,142.5 431.9,157.3 432.2,158.0 432.5,150.4 432.8,147.7 433.1,160.2 433.4,152.2 433.7,124.9 434.0,124.8 434.3,138.7" fill="none" stroke="#3068d4" stroke-width="1.05" stroke-linejoin="bevel"/>
<polyline points="429.4,121.2 429.7,130.7 430.0,141.1 430.3,137.3 430.6,149.6 430.9,155.3 431.2,143.0 431.5,128.5 431.8,129.3 432.1,150.3 432.4,160.8 432.7,161.0 433.0,150.6 433.3,124.1 433.6,130.6 433.9,143.4 434.2,141.3 434.5,161.0" fill="none" stroke="#dca814" stroke-width="1.05" stroke-linejoin="bevel"/>
<polyline points="433.5,166.7 433.8,160.8 434.1,151.9 434.4,148.7 434.7,142.9 435.0,156.5 435.3,161.5 435.6,143.4 435.9,138.0 436.2,154.7 436.5,162.4 436.8,167.5 437.1,166.6 437.4,154.9 437.7,157.2 438.0,143.7 438.3,135.3" fill="none" stroke="#606060" stroke-width="1.05" stroke-linejoin="bevel"/>
<polyline points="433.4,152.2 433.7,124.9 434.0,124.8 434.3,138.7 434.6,160.7 434.9,162.2 435.2,162.2 435.5,162.2 435.8,157.8 436.1,143.2 436.4,133.3 436.7,159.4 437.0,162.4 437.3,162.5 437.6,162.6 437.9,151.8 438.2,146.1 438.5,137.7" fill="none" stroke="#3068d4" stroke-width="1.05" stroke-linejoin="bevel"/>
<polyline points="433.4,149.2 433.7,151.3 434.0,155.5 434.3,147.6 434.6,142.8 434.9,139.3 435.2,135.1 435.5,138.7 435.8,131.9 436.1,132.7 436.4,150.0 436.7,153.3 437.0,149.8 437.3,162.4 437.6,165.2 437.9,145.5 438.2,140.8 438.5,152.4" fill="none" stroke="#ea5050" stroke-width="1.05" stroke-linejoin="bevel"/>
<polyline points="433.5,121.8 433.8,127.1 434.1,148.3 434.4,144.7 434.7,145.1 435.0,150.8 435.3,147.2 435.6,157.6 435.9,160.6 436.2,140.8 436.5,142.0 436.8,161.4 437.1,164.3 437.4,160.1 437.7,162.1 438.0,167.0 438.3,155.3 438.6,125.7" fill="none" stroke="#ae6ade" stroke-width="1.05" stroke-linejoin="bevel"/>
<polyline points="433.4,141.1 433.7,141.9 434.0,149.7 434.3,160.2 434.6,152.5 434.9,148.7 435.2,163.4 435.5,159.9 435.8,147.3 436.1,159.0 436.4,165.6 436.7,165.6 437.0,165.6 437.3,160.5 437.6,136.1 437.9,130.0 438.2,137.9 438.5,152.8" fill="none" stroke="#30a068" stroke-width="1.05" stroke-linejoin="bevel"/>
<polyline points="433.6,130.6 433.9,143.4 434.2,141.3 434.5,161.0 434.8,160.5 435.1,131.4 435.4,122.7 435.7,129.1 436.0,146.7 436.3,162.7 436.6,155.4 436.9,142.7 437.2,156.9 437.5,151.6 437.8,143.5 438.1,158.7 438.4,155.7" fill="none" stroke="#dca814" stroke-width="1.05" stroke-linejoin="bevel"/>
<polyline points="437.4,154.9 437.7,157.2 438.0,143.7 438.3,135.3 438.6,148.8 438.9,167.5 439.2,167.5 439.5,153.8 439.8,154.8 440.1,167.4 440.4,167.3 440.7,143.5 441.0,139.2 441.3,140.6 441.6,154.6 441.9,149.3 442.2,133.7 442.5,147.9" fill="none" stroke="#606060" stroke-width="1.05" stroke-linejoin="bevel"/>
<polyline points="437.7,162.1 438.0,167.0 438.3,155.3 438.6,125.7 438.9,117.5 439.2,116.0 439.5,118.9 439.8,136.9 440.1,144.3 440.4,145.0 440.7,153.0 441.0,142.0 441.3,129.4 441.6,145.8 441.9,165.1 442.2,157.5 442.5,126.7" fill="none" stroke="#ae6ade" stroke-width="1.05" stroke-linejoin="bevel"/>
<polyline points="437.6,165.2 437.9,145.5 438.2,140.8 438.5,152.4 438.8,146.8 439.1,141.2 439.4,134.0 439.7,133.4 440.0,158.7 440.3,166.7 440.6,162.7 440.9,137.6 441.2,124.1 441.5,140.9 441.8,159.8 442.1,159.2 442.4,166.9" fill="none" stroke="#ea5050" stroke-width="1.05" stroke-linejoin="bevel"/>
<polyline points="437.6,162.6 437.9,151.8 438.2,146.1 438.5,137.7 438.8,117.3 439.1,125.2 439.4,152.7 439.7,152.7 440.0,124.6 440.3,124.6 440.6,141.5 440.9,129.6 441.2,122.2 441.5,120.3 441.8,126.9 442.1,136.1 442.4,136.9" fill="none" stroke="#3068d4" stroke-width="1.05" stroke-linejoin="bevel"/>
<polyline points="437.6,136.1 437.9,130.0 438.2,137.9 438.5,152.8 438.8,155.2 439.1,165.5 439.4,165.4 439.7,165.3 440.0,158.1 440.3,141.5 440.6,143.6 440.9,144.4 441.2,155.8 441.5,164.3 441.8,162.5 442.1,149.6 442.4,129.2" fill="none" stroke="#30a068" stroke-width="1.05" stroke-linejoin="bevel"/>
<polyline points="437.5,151.6 437.8,143.5 438.1,158.7 438.4,155.7 438.7,133.4 439.0,122.8 439.3,131.9 439.6,132.7 439.9,131.8 440.2,131.9 440.5,137.0 440.8,137.6 441.1,138.3 441.4,140.3 441.7,136.2 442.0,154.1 442.3,159.8" fill="none" stroke="#dca814" stroke-width="1.05" stroke-linejoin="bevel"/>
<polyline points="441.6,154.6 441.9,149.3 442.2,133.7 442.5,147.9 442.8,149.8 443.1,137.5 443.4,132.4 443.7,139.8 444.0,141.6 444.3,146.9 444.6,149.1 444.9,168.2 445.2,161.6 445.5,124.9 445.8,93.0 445.8,97.7 446.1,126.2 446.4,111.5" fill="none" stroke="#606060" stroke-width="1.05" stroke-linejoin="bevel"/>
<polyline points="441.5,120.3 441.8,126.9 442.1,136.1 442.4,136.9 442.7,145.3 443.0,140.0 443.3,149.2 443.6,143.2 443.9,136.9 444.2,126.8 444.5,116.0 444.8,122.8 445.1,133.4 445.4,138.1 445.7,153.5 446.0,168.9 446.3,169.1" fill="none" stroke="#3068d4" stroke-width="1.05" stroke-linejoin="bevel"/>
<polyline points="441.6,145.8 441.9,165.1 442.2,157.5 442.5,126.7 442.7,101.0 442.8,107.4 443.1,126.2 443.4,112.9 443.7,129.8 444.0,161.9 444.3,163.2 444.6,141.8 444.9,134.6 445.2,143.8 445.5,158.2 445.8,151.1 446.1,144.2 446.4,148.4" fill="none" stroke="#ae6ade" stroke-width="1.05" stroke-linejoin="bevel"/>
<polyline points="441.5,140.9 441.8,159.8 442.1,159.2 442.4,166.9 442.7,166.9 443.0,150.4 443.3,124.0 443.6,113.2 443.9,113.7 444.2,136.2 444.5,156.5 444.8,161.5 445.1,163.5 445.4,150.1 445.7,132.3 446.0,118.7 446.3,116.1" fill="none" stroke="#ea5050" stroke-width="1.05" stroke-linejoin="bevel"/>
<polyline points="441.5,164.3 441.8,162.5 442.1,149.6 442.4,129.2 442.7,127.9 443.0,140.0 443.3,137.7 443.6,139.5 443.9,133.0 444.2,137.1 444.5,120.9 444.8,119.6 445.1,142.4 445.4,141.5 445.7,132.3 446.0,127.9 446.3,128.3" fill="none" stroke="#30a068" stroke-width="1.05" stroke-linejoin="bevel"/>
<polyline points="441.4,140.3 441.7,136.2 442.0,154.1 442.3,159.8 442.6,158.1 442.9,152.2 443.2,153.6 443.5,152.8 443.8,166.3 444.1,166.5 444.4,166.6 444.7,154.2 445.0,159.6 445.3,167.1 445.6,155.0 445.9,144.8 446.2,141.0 446.5,134.5" fill="none" stroke="#dca814" stroke-width="1.05" stroke-linejoin="bevel"/>
<polyline points="445.5,158.2 445.8,151.1 446.1,144.2 446.4,148.4 446.7,144.8 447.0,142.4 447.3,148.0 447.6,143.6 447.9,116.6 448.2,112.5 448.5,133.9 448.8,140.2 449.1,126.3 449.4,117.9 449.7,126.2 450.0,149.4 450.3,145.4 450.6,128.6" fill="none" stroke="#ae6ade" stroke-width="1.05" stroke-linejoin="bevel"/>
<polyline points="445.5,124.9 445.8,93.0 445.8,97.7 446.1,126.2 446.4,111.5 446.7,112.4 447.0,133.4 447.3,118.4 447.6,112.4 447.9,147.1 448.2,166.6 448.5,151.0 448.8,133.1 449.1,125.6 449.4,135.8 449.7,157.0 450.0,167.4 450.3,159.4" fill="none" stroke="#606060" stroke-width="1.05" stroke-linejoin="bevel"/>
<polyline points="445.4,141.5 445.7,132.3 446.0,127.9 446.3,128.3 446.6,151.2 446.9,142.2 447.2,123.2 447.5,130.6 447.8,140.7 448.1,158.1 448.4,158.9 448.7,127.4 449.0,89.8 449.0,91.1 449.3,130.0 449.6,149.8 449.9,133.3 450.2,127.7 450.5,123.4" fill="none" stroke="#30a068" stroke-width="1.05" stroke-linejoin="bevel"/>
<polyline points="445.4,150.1 445.7,132.3 446.0,118.7 446.3,116.1 446.6,140.9 446.9,151.3 447.2,138.2 447.5,150.7 447.8,160.1 448.1,153.4 448.4,127.6 448.7,120.9 449.0,140.7 449.3,149.6 449.6,155.6 449.9,148.0 450.2,155.6 450.5,153.1" fill="none" stroke="#ea5050" stroke-width="1.05" stroke-linejoin="bevel"/>
<polyline points="445.4,138.1 445.7,153.5 446.0,168.9 446.3,169.1 446.6,154.2 446.9,133.2 447.2,135.4 447.5,139.0 447.8,140.3 448.1,130.7 448.4,138.3 448.7,161.0 449.0,164.5 449.3,149.0 449.6,149.4 449.9,146.4 450.2,148.7 450.5,134.4" fill="none" stroke="#3068d4" stroke-width="1.05" stroke-linejoin="bevel"/>
<polyline points="445.6,155.0 445.9,144.8 446.2,141.0 446.5,134.5 446.8,129.0 447.1,126.1 447.4,126.4 447.7,140.1 448.0,163.7 448.3,160.5 448.6,148.3 448.9,146.0 449.2,134.4 449.5,121.0 449.8,126.8 450.1,144.5 450.4,131.7" fill="none" stroke="#dca814" stroke-width="1.05" stroke-linejoin="bevel"/>
<polyline points="449.4,135.8 449.7,157.0 450.0,167.4 450.3,159.4 450.6,155.1 450.9,162.1 451.2,148.4 451.5,126.6 451.8,142.7 452.1,156.5 452.4,143.5 452.7,143.1 453.0,145.1 453.3,154.3 453.6,156.2 453.9,132.4 454.2,117.2 454.5,121.6" fill="none" stroke="#606060" stroke-width="1.05" stroke-linejoin="bevel"/>
<polyline points="449.7,126.2 450.0,149.4 450.3,145.4 450.6,128.6 450.9,137.1 451.2,142.5 451.5,130.8 451.8,133.4 452.1,157.0 452.4,168.5 452.7,168.8 453.0,169.1 453.3,168.8 453.6,148.4 453.9,108.6 454.0,90.0 454.2,111.2 454.5,146.6" fill="none" stroke="#ae6ade" stroke-width="1.05" stroke-linejoin="bevel"/>
<polyline points="449.6,149.8 449.9,133.3 450.2,127.7 450.5,123.4 450.8,126.4 451.1,148.1 451.4,158.6 451.7,141.7 452.0,141.7 452.3,139.1 452.6,122.0 452.9,103.5 453.2,103.2 453.5,109.7 453.8,125.9 454.1,137.3 454.4,146.8" fill="none" stroke="#30a068" stroke-width="1.05" stroke-linejoin="bevel"/>
<polyline points="449.6,149.4 449.9,146.4 450.2,148.7 450.5,134.4 450.8,137.0 451.1,154.9 451.4,151.0 451.7,147.4 452.0,163.7 452.3,171.7 452.6,171.7 452.9,163.3 453.2,140.4 453.5,148.2 453.8,155.4 454.1,163.4 454.4,154.4" fill="none" stroke="#3068d4" stroke-width="1.05" stroke-linejoin="bevel"/>
<polyline points="449.6,155.6 449.9,148.0 450.2,155.6 450.5,153.1 450.8,140.1 451.1,133.0 451.4,136.4 451.7,161.7 452.0,124.1 452.3,82.8 452.3,84.6 452.6,110.9 452.9,106.2 453.2,110.6 453.5,148.8 453.8,164.2 454.1,153.8 454.4,131.5" fill="none" stroke="#ea5050" stroke-width="1.05" stroke-linejoin="bevel"/>
<polyline points="449.5,121.0 449.8,126.8 450.1,144.5 450.4,131.7 450.7,126.8 451.0,146.5 451.3,150.9 451.6,139.6 451.9,147.1 452.2,142.0 452.5,139.5 452.8,123.3 453.1,116.4 453.4,120.4 453.7,125.3 454.0,132.2 454.3,138.3" fill="none" stroke="#dca814" stroke-width="1.05" stroke-linejoin="bevel"/>
<polyline points="453.5,148.2 453.8,155.4 454.1,163.4 454.4,154.4 454.7,140.4 455.0,159.6 455.3,162.8 455.6,138.5 455.9,137.0 456.2,135.7 456.5,126.7 456.8,134.2 457.1,134.9 457.4,143.3 457.7,143.5 458.0,138.0 458.3,155.1" fill="none" stroke="#3068d4" stroke-width="1.05" stroke-linejoin="bevel"/>
<polyline points="453.5,109.7 453.8,125.9 454.1,137.3 454.4,146.8 454.7,139.9 455.0,126.0 455.3,123.2 455.6,115.4 455.9,115.9 456.2,115.3 456.5,120.0 456.8,127.6 457.1,131.3 457.4,132.1 457.7,140.2 458.0,134.5 458.3,150.4" fill="none" stroke="#30a068" stroke-width="1.05" stroke-linejoin="bevel"/>
<polyline points="453.6,156.2 453.9,132.4 454.2,117.2 454.5,121.6 454.8,150.6 455.1,148.1 455.4,143.0 455.7,138.5 456.0,135.3 456.3,150.5 456.6,159.4 456.9,160.0 457.2,147.6 457.5,153.8 457.8,167.9 458.1,167.4 458.4,152.5" fill="none" stroke="#606060" stroke-width="1.05" stroke-linejoin="bevel"/>
<polyline points="453.6,148.4 453.9,108.6 454.0,90.0 454.2,111.2 454.5,146.6 454.8,164.9 455.1,169.3 455.4,150.0 455.7,128.9 456.0,114.2 456.3,107.7 456.6,127.0 456.9,166.4 457.2,172.9 457.5,150.2 457.8,119.9 458.1,103.4 458.4,103.2" fill="none" stroke="#ae6ade" stroke-width="1.05" stroke-linejoin="bevel"/>
<polyline points="453.5,148.8 453.8,164.2 454.1,153.8 454.4,131.5 454.7,120.8 455.0,140.4 455.3,156.2 455.6,138.1 455.9,132.2 456.2,141.4 456.5,146.8 456.8,156.8 457.1,154.2 457.4,144.2 457.7,149.5 458.0,158.8 458.3,153.0" fill="none" stroke="#ea5050" stroke-width="1.05" stroke-linejoin="bevel"/>
<polyline points="453.4,120.4 453.7,125.3 454.0,132.2 454.3,138.3 454.6,132.0 454.9,147.0 455.2,164.4 455.5,170.0 455.8,172.5 456.1,171.1 456.4,164.3 456.7,146.4 457.0,140.7 457.3,147.1 457.6,135.9 457.9,153.5 458.2,172.8 458.5,161.8" fill="none" stroke="#dca814" stroke-width="1.05" stroke-linejoin="bevel"/>
<polyline points="457.5,153.8 457.8,167.9 458.1,167.4 458.4,152.5 458.7,150.1 459.0,155.2 459.3,134.5 459.6,124.9 459.9,150.5 460.2,167.3 460.5,161.5 460.8,135.5 461.1,141.6 461.4,163.3 461.7,156.1 462.0,126.7 462.3,119.4" fill="none" stroke="#606060" stroke-width="1.05" stroke-linejoin="bevel"/>
<polyline points="457.4,144.2 457.7,149.5 458.0,158.8 458.3,153.0 458.6,127.8 458.9,120.6 459.2,118.1 459.5,138.2 459.8,118.2 460.0,94.0 460.1,108.5 460.4,147.3 460.7,165.7 461.0,149.1 461.3,138.2 461.6,167.6 461.9,169.8 462.2,138.5 462.5,134.2" fill="none" stroke="#ea5050" stroke-width="1.05" stroke-linejoin="bevel"/>
<polyline points="457.4,143.3 457.7,143.5 458.0,138.0 458.3,155.1 458.6,172.0 458.9,158.4 459.2,136.3 459.5,141.0 459.8,138.0 460.1,129.4 460.4,128.9 460.7,138.8 461.0,141.7 461.3,123.6 461.6,85.2 461.6,90.2 461.9,133.6 462.2,161.0 462.5,156.8" fill="none" stroke="#3068d4" stroke-width="1.05" stroke-linejoin="bevel"/>
<polyline points="457.5,150.2 457.8,119.9 458.1,103.4 458.4,103.2 458.7,102.8 459.0,109.4 459.3,137.2 459.6,151.7 459.9,142.6 460.2,152.3 460.5,136.3 460.8,122.5 461.1,129.2 461.4,129.5 461.7,129.9 462.0,137.1 462.3,118.5 462.6,111.6" fill="none" stroke="#ae6ade" stroke-width="1.05" stroke-linejoin="bevel"/>
<polyline points="457.4,132.1 457.7,140.2 458.0,134.5 458.3,150.4 458.6,150.5 458.9,143.9 459.2,141.2 459.5,134.8 459.8,163.0 460.1,163.0 460.4,144.3 460.7,140.8 461.0,127.3 461.3,117.7 461.6,147.8 461.9,167.7 462.2,169.7 462.5,166.9" fill="none" stroke="#30a068" stroke-width="1.05" stroke-linejoin="bevel"/>
<polyline points="457.6,135.9 457.9,153.5 458.2,172.8 458.5,161.8 458.8,122.5 459.1,117.3 459.4,149.8 459.7,171.1 460.0,173.0 460.3,161.7 460.6,159.5 460.9,159.2 461.2,149.4 461.5,164.8 461.8,169.4 462.1,156.5 462.4,160.7" fill="none" stroke="#dca814" stroke-width="1.05" stroke-linejoin="bevel"/>
<polyline points="461.4,163.3 461.7,156.1 462.0,126.7 462.3,119.4 462.6,131.9 462.9,141.3 463.2,130.3 463.5,145.9 463.8,157.5 464.1,147.1 464.4,122.7 464.7,123.8 465.0,136.0 465.3,139.2 465.6,133.9 465.9,140.4 466.2,151.9 466.5,154.2" fill="none" stroke="#606060" stroke-width="1.05" stroke-linejoin="bevel"/>
<polyline points="461.6,85.2 461.6,90.2 461.9,133.6 462.2,161.0 462.5,156.8 462.8,147.5 463.1,152.3 463.4,142.2 463.7,125.8 464.0,129.6 464.3,136.8 464.6,121.3 464.9,114.9 465.2,129.4 465.5,152.7 465.8,145.8 466.1,126.0 466.4,138.5" fill="none" stroke="#3068d4" stroke-width="1.05" stroke-linejoin="bevel"/>
<polyline points="461.6,167.6 461.9,169.8 462.2,138.5 462.5,134.2 462.8,160.8 463.1,174.8 463.4,159.4 463.7,144.9 464.0,151.6 464.3,149.7 464.6,138.1 464.9,123.5 465.2,133.4 465.5,153.0 465.8,163.2 466.1,161.7 466.4,149.1" fill="none" stroke="#ea5050" stroke-width="1.05" stroke-linejoin="bevel"/>
<polyline points="461.7,129.9 462.0,137.1 462.3,118.5 462.6,111.6 462.9,110.4 463.2,103.1 463.5,106.1 463.8,119.9 464.1,150.1 464.4,173.5 464.7,165.6 465.0,124.2 465.3,109.8 465.6,118.6 465.9,119.6 466.2,127.6 466.5,120.0" fill="none" stroke="#ae6ade" stroke-width="1.05" stroke-linejoin="bevel"/>
<polyline points="461.6,147.8 461.9,167.7 462.2,169.7 462.5,166.9 462.8,156.1 463.1,141.6 463.4,124.4 463.7,126.7 464.0,133.4 464.3,123.3 464.6,133.4 464.9,108.4 465.0,97.0 465.2,123.6 465.5,150.8 465.8,162.2 466.1,150.3 466.4,121.9" fill="none" stroke="#30a068" stroke-width="1.05" stroke-linejoin="bevel"/>
<polyline points="461.5,164.8 461.8,169.4 462.1,156.5 462.4,160.7 462.7,169.9 463.0,166.1 463.3,165.1 463.6,154.1 463.9,163.9 464.2,173.0 464.5,167.3 464.8,135.6 465.1,148.9 465.4,159.3 465.7,135.8 466.0,131.1 466.3,133.1" fill="none" stroke="#dca814" stroke-width="1.05" stroke-linejoin="bevel"/>
<polyline points="465.6,133.9 465.9,140.4 466.2,151.9 466.5,154.2 466.8,144.4 467.1,146.6 467.4,121.8 467.7,113.3 468.0,139.9 468.3,167.5 468.6,172.8 468.9,166.4 469.2,145.7 469.5,135.5 469.8,126.0 470.1,144.5 470.4,150.7" fill="none" stroke="#606060" stroke-width="1.05" stroke-linejoin="bevel"/>
<polyline points="465.5,150.8 465.8,162.2 466.1,150.3 466.4,121.9 466.7,121.8 467.0,149.2 467.3,158.9 467.6,163.3 467.9,150.0 468.2,163.0 468.5,160.2 468.8,123.4 469.1,126.6 469.4,145.8 469.7,147.3 470.0,169.1 470.3,174.7" fill="none" stroke="#30a068" stroke-width="1.05" stroke-linejoin="bevel"/>
<polyline points="465.5,153.0 465.8,163.2 466.1,161.7 466.4,149.1 466.7,165.9 467.0,177.3 467.3,161.7 467.6,144.0 467.9,153.5 468.2,168.3 468.5,148.0 468.8,128.5 469.1,137.3 469.4,167.3 469.7,179.6 470.0,171.9 470.3,155.0" fill="none" stroke="#ea5050" stroke-width="1.05" stroke-linejoin="bevel"/>
<polyline points="465.6,118.6 465.9,119.6 466.2,127.6 466.5,120.0 466.8,134.5 467.1,156.8 467.4,178.3 467.7,170.5 468.0,146.4 468.3,166.3 468.6,179.0 468.9,165.0 469.2,124.5 469.5,127.6 469.8,153.0 470.1,157.9 470.4,145.1" fill="none" stroke="#ae6ade" stroke-width="1.05" stroke-linejoin="bevel"/>
<polyline points="465.5,152.7 465.8,145.8 466.1,126.0 466.4,138.5 466.7,157.9 467.0,158.9 467.3,155.4 467.6,151.6 467.9,146.0 468.2,132.4 468.5,141.2 468.8,160.0 469.1,176.6 469.4,176.8 469.7,173.9 470.0,171.5 470.3,176.6" fill="none" stroke="#3068d4" stroke-width="1.05" stroke-linejoin="bevel"/>
<polyline points="465.4,159.3 465.7,135.8 466.0,131.1 466.3,133.1 466.6,144.3 466.9,154.9 467.2,147.0 467.5,152.4 467.8,175.2 468.1,175.5 468.4,175.8 468.7,176.1 469.0,152.6 469.3,140.5 469.6,141.5 469.9,143.1 470.2,123.2 470.5,119.3" fill="none" stroke="#dca814" stroke-width="1.05" stroke-linejoin="bevel"/>
<polyline points="469.5,135.5 469.8,126.0 470.1,144.5 470.4,150.7 470.7,129.6 471.0,119.9 471.3,144.3 471.6,172.7 471.9,167.6 472.2,136.9 472.5,116.1 472.8,116.4 473.1,107.0 473.2,99.0 473.4,130.2 473.7,135.0 474.0,141.0 474.3,167.4" fill="none" stroke="#606060" stroke-width="1.05" stroke-linejoin="bevel"/>
<polyline points="469.5,127.6 469.8,153.0 470.1,157.9 470.4,145.1 470.7,119.5 471.0,121.4 471.3,162.5 471.6,180.0 471.9,160.8 472.2,140.0 472.5,154.2 472.8,155.3 473.1,135.6 473.4,134.3 473.7,160.7 474.0,163.5 474.3,141.3 474.6,131.9" fill="none" stroke="#ae6ade" stroke-width="1.05" stroke-linejoin="bevel"/>
<polyline points="469.4,167.3 469.7,179.6 470.0,171.9 470.3,155.0 470.6,126.8 470.9,130.8 471.2,143.6 471.5,135.0 471.8,148.8 472.1,177.2 472.4,179.9 472.7,160.4 473.0,135.3 473.3,142.5 473.6,154.8 473.9,144.5 474.2,141.6 474.5,137.0" fill="none" stroke="#ea5050" stroke-width="1.05" stroke-linejoin="bevel"/>
<polyline points="469.4,176.8 469.7,173.9 470.0,171.5 470.3,176.6 470.6,161.9 470.9,139.3 471.2,135.2 471.5,134.5 471.8,145.0 472.1,142.8 472.4,139.1 472.7,152.8 473.0,159.3 473.3,159.3 473.6,160.1 473.9,161.0 474.2,159.1 474.5,173.7" fill="none" stroke="#3068d4" stroke-width="1.05" stroke-linejoin="bevel"/>
<polyline points="469.6,141.5 469.9,143.1 470.2,123.2 470.5,119.3 470.8,134.6 471.1,135.7 471.4,132.1 471.7,132.3 472.0,142.3 472.3,158.8 472.6,168.1 472.9,167.1 473.2,154.3 473.5,161.1 473.8,162.0 474.1,167.4 474.4,156.2" fill="none" stroke="#dca814" stroke-width="1.05" stroke-linejoin="bevel"/>
<polyline points="469.4,145.8 469.7,147.3 470.0,169.1 470.3,174.7 470.6,168.8 470.9,150.8 471.2,134.5 471.5,120.0 471.8,123.2 472.1,157.2 472.4,177.4 472.7,161.5 473.0,146.3 473.3,154.5 473.6,161.1 473.9,151.3 474.2,147.2 474.5,141.5" fill="none" stroke="#30a068" stroke-width="1.05" stroke-linejoin="bevel"/>
<polyline points="473.4,130.2 473.7,135.0 474.0,141.0 474.3,167.4 474.6,178.6 474.9,172.4 475.2,156.3 475.5,137.9 475.8,139.7 476.1,142.8 476.4,148.6 476.7,155.2 477.0,151.0 477.3,156.6 477.6,171.5 477.9,176.0 478.2,176.8 478.5,173.7" fill="none" stroke="#606060" stroke-width="1.05" stroke-linejoin="bevel"/>
<polyline points="473.7,160.7 474.0,163.5 474.3,141.3 474.6,131.9 474.9,145.4 475.2,153.7 475.5,147.1 475.8,153.3 476.1,168.4 476.4,173.5 476.7,174.5 477.0,169.7 477.3,167.1 477.6,166.2 477.9,167.0 478.2,170.7 478.5,172.0" fill="none" stroke="#ae6ade" stroke-width="1.05" stroke-linejoin="bevel"/>
<polyline points="473.6,160.1 473.9,161.0 474.2,159.1 474.5,173.7 474.8,179.5 475.1,179.5 475.4,178.2 475.7,166.7 476.0,162.4 476.3,170.3 476.6,178.4 476.9,176.9 477.2,171.5 477.5,175.0 477.8,177.4 478.1,173.1 478.4,169.6" fill="none" stroke="#3068d4" stroke-width="1.05" stroke-linejoin="bevel"/>
<polyline points="473.6,154.8 473.9,144.5 474.2,141.6 474.5,137.0 474.8,155.6 475.1,175.5 475.4,168.6 475.7,160.0 476.0,144.5 476.0,145.2 476.3,162.1 476.6,179.5 476.9,179.3 477.2,172.2 477.5,170.9 477.8,154.2 478.0,143.0 478.1,149.7 478.4,167.5" fill="none" stroke="#ea5050" stroke-width="1.05" stroke-linejoin="bevel"/>
<polyline points="473.6,161.1 473.9,151.3 474.2,147.2 474.5,141.5 474.8,132.9 475.1,145.3 475.4,163.9 475.7,162.5 476.0,164.1 476.3,164.4 476.6,162.7 476.9,157.8 477.2,160.8 477.5,168.6 477.8,176.1 478.1,178.0 478.4,177.8" fill="none" stroke="#30a068" stroke-width="1.05" stroke-linejoin="bevel"/>
<polyline points="473.5,161.1 473.8,162.0 474.1,167.4 474.4,156.2 474.7,147.6 475.0,171.4 475.3,179.3 475.6,168.8 475.9,177.5 476.2,180.5 476.5,176.4 476.8,161.6 477.1,157.5 477.4,164.1 477.7,173.3 478.0,173.9 478.3,175.8" fill="none" stroke="#dca814" stroke-width="1.05" stroke-linejoin="bevel"/>
<polyline points="477.6,171.5 477.9,176.0 478.2,176.8 478.5,173.7 478.8,166.7 479.1,166.8 479.4,165.8 479.7,170.8 480.0,164.7 480.3,174.2 480.6,160.4 480.9,162.5 481.0,160.6 481.2,167.9 481.5,161.2 481.8,172.1 482.1,165.9 482.4,172.7" fill="none" stroke="#606060" stroke-width="1.05" stroke-linejoin="bevel"/>
<polyline points="477.5,175.0 477.8,177.4 478.1,173.1 478.4,169.6 478.7,169.6 479.0,170.8 479.3,152.6 479.5,142.6 479.6,150.7 479.9,168.9 480.2,178.4 480.5,177.5 480.8,175.5 481.1,175.6 481.4,175.3 481.7,175.0 482.0,174.9 482.3,175.3" fill="none" stroke="#3068d4" stroke-width="1.05" stroke-linejoin="bevel"/>
<polyline points="477.5,168.6 477.8,176.1 478.1,178.0 478.4,177.8 478.7,175.2 479.0,173.8 479.3,172.9 479.6,175.1 479.9,175.9 480.2,175.1 480.5,175.7 480.8,176.4 481.1,176.9 481.4,177.2 481.7,178.2 482.0,178.7 482.3,177.6" fill="none" stroke="#30a068" stroke-width="1.05" stroke-linejoin="bevel"/>
<polyline points="477.4,164.1 477.7,173.3 478.0,173.9 478.3,175.8 478.6,175.9 478.9,171.0 479.2,169.3 479.5,170.9 479.8,172.9 480.1,174.3 480.4,174.8 480.7,172.4 481.0,173.4 481.3,176.1 481.6,177.2 481.9,176.6 482.2,175.6 482.5,175.8" fill="none" stroke="#dca814" stroke-width="1.05" stroke-linejoin="bevel"/>
<polyline points="477.5,170.9 477.8,154.2 478.0,143.0 478.1,149.7 478.4,167.5 478.7,171.6 479.0,168.4 479.3,169.0 479.6,173.9 479.9,175.7 480.2,172.2 480.5,170.4 480.8,170.7 481.1,174.5 481.4,176.4 481.7,175.8 482.0,173.7 482.3,174.6" fill="none" stroke="#ea5050" stroke-width="1.05" stroke-linejoin="bevel"/>
<polyline points="477.6,166.2 477.9,167.0 478.2,170.7 478.5,172.0 478.8,175.5 479.1,175.6 479.4,173.8 479.7,175.1 480.0,174.0 480.3,173.4 480.6,175.0 480.9,176.6 481.2,176.6 481.5,176.6 481.8,176.4 482.1,176.6 482.4,176.8" fill="none" stroke="#ae6ade" stroke-width="1.05" stroke-linejoin="bevel"/>
<polyline points="481.5,161.2 481.8,172.1 482.1,165.9 482.4,172.7 482.7,168.8 483.0,174.4 483.3,171.1 483.6,170.8 483.9,171.4 484.2,174.5 484.5,175.8 484.8,174.6 485.1,174.3 485.4,177.0 485.7,178.4 486.0,178.9 486.3,178.9" fill="none" stroke="#606060" stroke-width="1.05" stroke-linejoin="bevel"/>
<polyline points="481.4,177.2 481.7,178.2 482.0,178.7 482.3,177.6 482.6,178.1 482.9,179.0 483.2,178.0 483.5,177.2 483.8,176.7 484.1,176.5 484.4,177.8 484.7,179.1 485.0,179.2 485.3,179.9 485.6,178.8 485.9,180.1 486.2,183.5 486.5,184.1" fill="none" stroke="#30a068" stroke-width="1.05" stroke-linejoin="bevel"/>
<polyline points="481.5,176.6 481.8,176.4 482.1,176.6 482.4,176.8 482.7,176.8 483.0,176.9 483.3,177.3 483.6,177.8 483.9,177.6 484.2,177.3 484.5,177.4 484.8,177.6 485.1,177.9 485.4,178.0 485.7,178.1 486.0,178.4 486.3,178.8 486.6,179.0" fill="none" stroke="#ae6ade" stroke-width="1.05" stroke-linejoin="bevel"/>
<polyline points="481.4,175.3 481.7,175.0 482.0,174.9 482.3,175.3 482.6,176.6 482.9,177.3 483.2,176.9 483.5,176.6 483.8,175.9 484.1,175.9 484.4,176.1 484.7,176.3 485.0,176.4 485.3,176.6 485.6,176.7 485.9,176.8 486.2,177.2 486.5,177.2" fill="none" stroke="#3068d4" stroke-width="1.05" stroke-linejoin="bevel"/>
<polyline points="481.4,176.4 481.7,175.8 482.0,173.7 482.3,174.6 482.6,175.8 482.9,175.7 483.2,174.3 483.5,173.7 483.8,173.2 484.1,173.5 484.4,174.3 484.7,174.0 485.0,174.0 485.3,174.1 485.6,174.6 485.9,175.0 486.2,175.2 486.5,175.1" fill="none" stroke="#ea5050" stroke-width="1.05" stroke-linejoin="bevel"/>
<polyline points="481.6,177.2 481.9,176.6 482.2,175.6 482.5,175.8 482.8,175.8 483.1,176.3 483.4,177.2 483.7,177.2 484.0,177.0 484.3,177.3 484.6,177.4 484.9,177.5 485.2,177.7 485.5,178.2 485.8,178.1 486.1,178.2 486.4,178.8" fill="none" stroke="#dca814" stroke-width="1.05" stroke-linejoin="bevel"/>
<polyline points="485.4,177.0 485.7,178.4 486.0,178.9 486.3,178.9 486.6,177.4 486.9,177.6 487.2,177.9 487.5,177.5 487.8,177.3 488.1,178.0 488.4,179.0 488.7,179.5 489.0,179.5 489.3,179.4 489.6,179.6 489.9,179.9 490.2,180.0 490.5,180.3" fill="none" stroke="#606060" stroke-width="1.05" stroke-linejoin="bevel"/>
<polyline points="485.6,174.6 485.9,175.0 486.2,175.2 486.5,175.1 486.8,174.4 487.1,174.0 487.4,174.1 487.7,174.6 488.0,174.6 488.3,174.7 488.6,174.8 488.9,174.7 489.2,174.9 489.5,175.1 489.8,175.0 490.1,175.2 490.4,175.3" fill="none" stroke="#ea5050" stroke-width="1.05" stroke-linejoin="bevel"/>
<polyline points="485.7,178.1 486.0,178.4 486.3,178.8 486.6,179.0 486.9,178.8 487.2,179.0 487.5,179.1 487.8,178.9 488.1,178.9 488.4,179.1 488.7,179.2 489.0,179.2 489.3,179.3 489.6,179.3 489.9,179.2 490.2,179.0 490.5,179.1" fill="none" stroke="#ae6ade" stroke-width="1.05" stroke-linejoin="bevel"/>
<polyline points="485.6,176.7 485.9,176.8 486.2,177.2 486.5,177.2 486.8,177.3 487.1,177.6 487.4,177.7 487.7,178.1 488.0,178.6 488.3,178.6 488.6,178.1 488.9,178.6 489.2,178.3 489.5,179.0 489.8,180.0 490.1,179.1 490.4,179.2" fill="none" stroke="#3068d4" stroke-width="1.05" stroke-linejoin="bevel"/>
<polyline points="485.6,178.8 485.9,180.1 486.2,183.5 486.5,184.1 486.8,182.0 487.1,177.9 487.4,177.0 487.7,178.5 488.0,179.8 488.3,177.7 488.6,178.7 488.9,181.3 489.2,180.0 489.5,178.4 489.8,178.5 490.1,179.8 490.4,180.9" fill="none" stroke="#30a068" stroke-width="1.05" stroke-linejoin="bevel"/>
<polyline points="485.5,178.2 485.8,178.1 486.1,178.2 486.4,178.8 486.7,179.3 487.0,178.9 487.3,178.5 487.6,178.8 487.9,179.0 488.2,178.8 488.5,179.4 488.8,179.1 489.1,178.9 489.4,179.5 489.7,179.6 490.0,179.6 490.3,178.9" fill="none" stroke="#dca814" stroke-width="1.05" stroke-linejoin="bevel"/>
<polyline points="489.5,179.0 489.8,180.0 490.1,179.1 490.4,179.2 490.7,178.7 491.0,178.9 491.3,181.6 491.6,183.2 491.9,182.3 492.2,178.6" fill="none" stroke="#3068d4" stroke-width="1.05" stroke-linejoin="bevel"/>
<polyline points="489.6,179.3 489.9,179.2 490.2,179.0 490.5,179.1 490.8,179.3 491.1,179.3 491.4,179.3 491.7,178.8 492.0,178.4 492.3,178.5" fill="none" stroke="#ae6ade" stroke-width="1.05" stroke-linejoin="bevel"/>
<polyline points="489.6,179.6 489.9,179.9 490.2,180.0 490.5,180.3 490.8,180.3 491.1,180.3 491.4,180.5 491.7,180.7 492.0,180.8 492.3,180.6" fill="none" stroke="#606060" stroke-width="1.05" stroke-linejoin="bevel"/>
<polyline points="489.5,175.1 489.8,175.0 490.1,175.2 490.4,175.3 490.7,175.4 491.0,175.6 491.3,175.6 491.6,175.9 491.9,175.9 492.2,175.8" fill="none" stroke="#ea5050" stroke-width="1.05" stroke-linejoin="bevel"/>
<polyline points="489.4,179.5 489.7,179.6 490.0,179.6 490.3,178.9 490.6,178.2 490.9,178.8 491.2,178.8 491.5,178.6 491.8,179.6 492.1,179.7 492.4,180.1" fill="none" stroke="#dca814" stroke-width="1.05" stroke-linejoin="bevel"/>
<polyline points="489.5,178.4 489.8,178.5 490.1,179.8 490.4,180.9 490.7,180.1 491.0,180.7 491.3,182.5 491.6,182.9 491.9,182.7 492.2,180.2" fill="none" stroke="#30a068" stroke-width="1.05" stroke-linejoin="bevel"/>
</g><g clip-path="url(#clc)">
<polyline points="294.0,352.6 294.1,344.5 294.6,348.9 295.1,349.3 295.6,354.2 296.1,345.4 296.6,353.0 297.1,349.9 297.6,350.5 298.1,345.0 298.6,352.7 299.1,353.0 299.6,352.8 300.1,345.6 300.6,352.1 301.1,352.9 301.6,344.9" fill="none" stroke="#3068d4" stroke-width="1.15" stroke-linejoin="bevel"/>
<polyline points="294.0,351.0 294.2,349.1 294.7,351.9 295.2,348.1 295.7,349.3 296.2,349.8 296.7,351.6 297.2,350.5 297.7,349.1 298.2,346.1 298.7,350.1 299.2,347.2 299.7,351.6 300.2,344.0 300.7,350.7 301.2,348.2" fill="none" stroke="#606060" stroke-width="1.15" stroke-linejoin="bevel"/>
<polyline points="294.0,354.5 294.3,350.0 294.8,354.4 295.3,355.2 295.8,353.6 296.3,347.3 296.8,352.4 297.3,339.0 297.8,356.1 298.3,351.5 298.8,356.4 299.3,355.5 299.8,354.9 300.3,341.6 300.8,352.1 301.3,347.9" fill="none" stroke="#ae6ade" stroke-width="1.15" stroke-linejoin="bevel"/>
<polyline points="294.0,350.8 294.4,336.7 294.9,354.2 295.4,335.5 295.9,350.7 296.4,348.3 296.9,351.2 297.4,343.5 297.9,351.1 298.4,349.8 298.9,349.4 299.4,350.4 299.9,349.6 300.4,339.7 300.9,351.3 301.4,351.9" fill="none" stroke="#30a068" stroke-width="1.15" stroke-linejoin="bevel"/>
<polyline points="294.0,353.3 294.2,347.0 294.7,351.0 295.2,350.6 295.7,353.1 296.2,348.3 296.7,349.7 297.2,345.1 297.7,355.3 298.2,351.3 298.7,352.5 299.2,340.0 299.7,355.4 300.2,349.6 300.7,354.0 301.2,354.6" fill="none" stroke="#ea5050" stroke-width="1.15" stroke-linejoin="bevel"/>
<polyline points="300.6,352.1 301.1,352.9 301.6,344.9 302.1,254.9 302.1,248.0 302.6,331.1 303.1,352.7 303.6,342.3 304.1,351.5 304.6,347.1 305.1,352.3 305.6,349.8 306.1,352.8 306.6,352.7 307.1,353.6 307.6,344.6 308.1,353.9 308.6,348.7" fill="none" stroke="#3068d4" stroke-width="1.15" stroke-linejoin="bevel"/>
<polyline points="300.8,352.1 301.3,347.9 301.8,353.0 302.3,336.6 302.8,357.0 303.3,357.3 303.8,358.5 304.3,343.8 304.8,350.8 305.3,326.5 305.8,357.6 306.3,353.0 306.8,354.6 307.3,337.1 307.8,355.6 308.3,331.9" fill="none" stroke="#ae6ade" stroke-width="1.15" stroke-linejoin="bevel"/>
<polyline points="300.7,350.7 301.2,348.2 301.7,353.3 302.2,290.1 302.5,205.0 302.7,245.7 303.2,348.9 303.7,341.6 304.2,351.7 304.7,337.9 305.2,351.0 305.7,348.5 306.2,349.5 306.7,351.6 307.2,353.2 307.7,351.5 308.2,350.0" fill="none" stroke="#606060" stroke-width="1.15" stroke-linejoin="bevel"/>
<polyline points="300.7,354.0 301.2,354.6 301.7,356.7 302.2,338.9 302.7,357.0 303.2,349.7 303.7,355.3 304.2,353.0 304.7,352.7 305.2,346.4 305.7,355.2 306.2,354.9 306.7,354.5 307.2,342.9 307.7,355.1 308.2,340.8" fill="none" stroke="#ea5050" stroke-width="1.15" stroke-linejoin="bevel"/>
<polyline points="300.9,351.3 301.4,351.9 301.9,353.4 302.4,341.3 302.9,349.2 303.4,344.1 303.9,349.3 304.4,350.9 304.9,352.2 305.4,336.5 305.9,350.7 306.4,351.8 306.9,354.5 307.4,343.5 307.9,350.1 308.4,347.4" fill="none" stroke="#30a068" stroke-width="1.15" stroke-linejoin="bevel"/>
<polyline points="307.6,344.6 308.1,353.9 308.6,348.7 309.1,351.2 309.6,352.9 310.1,355.3 310.6,350.5 311.1,354.4 311.6,350.5 312.1,354.6 312.6,351.4 313.1,357.1 313.6,351.7 314.1,354.1 314.6,352.5 315.1,355.2 315.6,354.3" fill="none" stroke="#3068d4" stroke-width="1.15" stroke-linejoin="bevel"/>
<polyline points="307.7,351.5 308.2,350.0 308.7,351.5 309.2,353.4 309.7,344.8 310.2,354.0 310.7,352.9 311.2,354.1 311.7,352.5 312.2,354.7 312.7,345.1 313.2,356.6 313.7,349.0 314.2,353.8 314.7,354.3 315.2,353.9" fill="none" stroke="#606060" stroke-width="1.15" stroke-linejoin="bevel"/>
<polyline points="307.7,355.1 308.2,340.8 308.7,355.3 309.2,348.5 309.7,351.6 310.2,347.6 310.7,353.9 311.2,347.1 311.7,351.7 312.2,346.9 312.7,350.4 313.2,343.6 313.7,350.1 314.2,349.7 314.7,348.5 315.2,348.5" fill="none" stroke="#ea5050" stroke-width="1.15" stroke-linejoin="bevel"/>
<polyline points="307.8,355.6 308.3,331.9 308.8,357.7 309.3,331.6 309.8,355.6 310.3,354.1 310.8,356.4 311.3,348.4 311.8,355.7 312.3,342.4 312.8,356.5 313.3,355.2 313.8,356.8 314.3,356.7 314.8,354.6 315.3,346.4" fill="none" stroke="#ae6ade" stroke-width="1.15" stroke-linejoin="bevel"/>
<polyline points="307.9,350.1 308.4,347.4 308.9,351.3 309.4,328.2 309.9,353.8 310.4,337.1 310.9,354.8 311.4,340.4 311.9,348.8 312.4,339.9 312.9,347.8 313.4,348.6 313.9,352.0 314.4,348.5 314.9,350.2 315.4,346.5" fill="none" stroke="#30a068" stroke-width="1.15" stroke-linejoin="bevel"/>
<polyline points="314.7,354.3 315.2,353.9 315.7,344.5 316.2,353.0 316.7,351.7 317.2,354.0 317.7,352.7 318.2,355.5 318.7,349.3 319.2,354.3 319.7,339.9 320.2,349.2 320.7,352.0 321.2,355.5 321.7,344.4 322.2,355.1" fill="none" stroke="#606060" stroke-width="1.15" stroke-linejoin="bevel"/>
<polyline points="314.9,350.2 315.4,346.5 315.9,353.3 316.4,346.1 316.9,351.9 317.4,345.9 317.9,349.2 318.4,343.4 318.9,353.0 319.4,327.8 319.9,346.1 320.4,349.6 320.9,351.4 321.4,331.4 321.9,346.2 322.4,338.9" fill="none" stroke="#30a068" stroke-width="1.15" stroke-linejoin="bevel"/>
<polyline points="314.7,348.5 315.2,348.5 315.7,307.9 316.0,263.6 316.2,295.9 316.7,350.3 317.2,349.1 317.7,347.2 318.2,347.3 318.7,344.6 319.2,349.9 319.7,347.1 320.2,347.5 320.7,341.9 321.2,349.7 321.7,338.6 322.2,346.7" fill="none" stroke="#ea5050" stroke-width="1.15" stroke-linejoin="bevel"/>
<polyline points="314.8,354.6 315.3,346.4 315.8,355.5 316.3,354.2 316.8,352.7 317.3,346.1 317.8,352.4 318.3,332.6 318.8,350.3 319.3,347.1 319.8,354.8 320.3,351.2 320.8,348.7 321.3,338.4 321.8,346.9 322.3,343.0" fill="none" stroke="#ae6ade" stroke-width="1.15" stroke-linejoin="bevel"/>
<polyline points="314.6,352.5 315.1,355.2 315.6,354.3 316.1,351.3 316.6,351.0 317.1,348.8 317.6,348.8 318.1,350.5 318.6,339.8 319.1,349.8 319.6,344.2 320.1,351.4 320.6,349.5 321.1,351.5 321.6,351.9 322.1,353.2 322.6,342.3" fill="none" stroke="#3068d4" stroke-width="1.15" stroke-linejoin="bevel"/>
<polyline points="321.8,346.9 322.3,343.0 322.8,346.4 323.3,345.1 323.8,349.6 324.3,350.5 324.8,348.5 325.3,343.5 325.8,347.9 326.3,345.7 326.8,350.5 327.3,349.2 327.8,349.0 328.3,347.6 328.8,350.1 329.3,330.4" fill="none" stroke="#ae6ade" stroke-width="1.15" stroke-linejoin="bevel"/>
<polyline points="321.7,344.4 322.2,355.1 322.7,353.1 323.2,352.2 323.7,351.0 324.2,352.4 324.7,344.7 325.2,352.2 325.7,345.7 326.2,351.6 326.7,332.7 327.2,349.6 327.7,342.9 328.2,348.0 328.7,336.8 329.2,344.9" fill="none" stroke="#606060" stroke-width="1.15" stroke-linejoin="bevel"/>
<polyline points="321.7,338.6 322.2,346.7 322.7,341.8 323.2,348.9 323.7,334.9 324.2,350.1 324.7,341.3 325.2,350.6 325.7,340.7 326.2,346.9 326.7,350.2 327.2,350.7 327.7,348.7 328.2,350.7 328.7,342.8 329.2,348.2" fill="none" stroke="#ea5050" stroke-width="1.15" stroke-linejoin="bevel"/>
<polyline points="321.6,351.9 322.1,353.2 322.6,342.3 323.1,347.4 323.6,348.9 324.1,350.0 324.6,350.1 325.1,348.3 325.6,341.2 326.1,351.0 326.6,344.8 327.1,351.1 327.6,348.9 328.1,348.8 328.6,346.8 329.1,349.3 329.6,347.9" fill="none" stroke="#3068d4" stroke-width="1.15" stroke-linejoin="bevel"/>
<polyline points="321.9,346.2 322.4,338.9 322.9,344.9 323.4,335.4 323.9,349.2 324.4,335.9 324.9,350.0 325.4,333.7 325.9,347.9 326.4,329.9 326.9,348.4 327.4,341.7 327.9,346.3 328.4,343.2 328.9,347.8 329.4,336.7" fill="none" stroke="#30a068" stroke-width="1.15" stroke-linejoin="bevel"/>
<polyline points="328.7,336.8 329.2,344.9 329.7,340.8 330.2,347.4 330.7,347.9 331.2,347.7 331.7,345.1 332.2,346.3 332.7,332.9 333.2,343.5 333.7,319.8 334.2,345.7 334.7,339.7 335.2,340.9 335.7,341.0 336.2,341.9" fill="none" stroke="#606060" stroke-width="1.15" stroke-linejoin="bevel"/>
<polyline points="328.6,346.8 329.1,349.3 329.6,347.9 330.1,347.3 330.6,333.0 331.1,349.5 331.6,336.7 332.1,331.3 332.5,276.6 332.6,284.3 333.1,346.7 333.6,349.3 334.1,344.6 334.6,344.5 335.1,347.6 335.6,347.4 336.1,331.5 336.6,343.2" fill="none" stroke="#3068d4" stroke-width="1.15" stroke-linejoin="bevel"/>
<polyline points="328.9,347.8 329.4,336.7 329.9,304.9 330.0,292.0 330.4,329.1 330.9,333.5 331.4,327.6 331.8,267.3 331.9,277.2 332.4,347.5 332.9,350.0 333.4,327.1 333.9,349.7 334.4,349.1 334.9,350.8 335.4,341.0 335.9,349.3 336.4,346.6" fill="none" stroke="#30a068" stroke-width="1.15" stroke-linejoin="bevel"/>
<polyline points="328.8,350.1 329.3,330.4 329.8,348.1 330.3,335.7 330.8,347.8 331.3,344.8 331.8,345.5 332.3,333.9 332.8,351.2 333.3,327.9 333.8,346.2 334.3,349.8 334.8,345.9 335.3,343.6 335.8,342.3 336.3,335.7" fill="none" stroke="#ae6ade" stroke-width="1.15" stroke-linejoin="bevel"/>
<polyline points="328.7,342.8 329.2,348.2 329.7,345.9 330.2,347.6 330.7,341.3 331.2,344.3 331.7,345.1 332.2,346.2 332.7,343.2 333.2,349.0 333.7,327.9 334.2,348.0 334.7,336.2 335.2,343.2 335.7,345.2 336.2,345.2" fill="none" stroke="#ea5050" stroke-width="1.15" stroke-linejoin="bevel"/>
<polyline points="335.9,349.3 336.4,346.6 336.9,347.1 337.4,341.4 337.9,352.1 338.4,346.1 338.9,344.4 339.4,344.0 339.9,343.5 340.4,327.3 340.9,346.0 341.4,317.3 341.9,339.0 342.4,342.3 342.9,345.8 343.4,336.5" fill="none" stroke="#30a068" stroke-width="1.15" stroke-linejoin="bevel"/>
<polyline points="335.6,347.4 336.1,331.5 336.6,343.2 337.1,340.7 337.6,348.8 338.1,343.1 338.6,343.5 339.1,341.3 339.6,346.5 340.1,325.7 340.6,346.6 341.1,331.6 341.6,337.2 342.1,316.6 342.6,343.2 343.1,336.3 343.6,343.4" fill="none" stroke="#3068d4" stroke-width="1.15" stroke-linejoin="bevel"/>
<polyline points="335.7,341.0 336.2,341.9 336.7,329.9 337.2,340.3 337.7,338.7 338.2,344.4 338.7,343.7 339.2,339.7 339.7,334.5 340.2,345.0 340.7,337.7 341.2,343.6 341.7,338.9 342.2,344.6 342.7,337.7 343.2,332.9" fill="none" stroke="#606060" stroke-width="1.15" stroke-linejoin="bevel"/>
<polyline points="335.8,342.3 336.3,335.7 336.8,343.8 337.3,343.6 337.8,341.7 338.3,334.7 338.8,346.3 339.3,324.9 339.8,347.0 340.3,336.1 340.8,338.9 341.3,329.1 341.8,344.6 342.3,334.2 342.8,339.0 343.3,341.7" fill="none" stroke="#ae6ade" stroke-width="1.15" stroke-linejoin="bevel"/>
<polyline points="335.7,345.2 336.2,345.2 336.7,343.9 337.2,347.1 337.7,345.7 338.2,343.5 338.7,330.0 339.2,347.7 339.7,303.8 339.8,296.0 340.2,311.3 340.7,349.2 341.2,322.4 341.7,341.1 342.2,313.3 342.7,341.5 343.2,341.4" fill="none" stroke="#ea5050" stroke-width="1.15" stroke-linejoin="bevel"/>
<polyline points="342.7,337.7 343.2,332.9 343.7,326.0 344.2,342.3 344.7,335.2 345.2,333.5 345.7,318.6 346.2,336.0 346.7,315.1 347.2,294.5 347.2,291.0 347.7,333.0 348.2,309.8 348.7,333.6 349.2,324.6 349.7,339.4 350.2,339.5" fill="none" stroke="#606060" stroke-width="1.15" stroke-linejoin="bevel"/>
<polyline points="342.7,341.5 343.2,341.4 343.7,345.0 344.2,323.3 344.7,343.4 345.2,343.6 345.7,336.0 346.2,337.5 346.7,336.3 347.2,315.0 347.7,340.4 348.2,341.9 348.7,343.4 349.2,297.7 349.7,324.3 350.0,305.0 350.2,319.1" fill="none" stroke="#ea5050" stroke-width="1.15" stroke-linejoin="bevel"/>
<polyline points="342.6,343.2 343.1,336.3 343.6,343.4 344.1,309.9 344.6,338.4 345.1,336.0 345.6,334.6 346.1,309.4 346.6,342.1 347.1,318.5 347.6,342.3 348.1,336.8 348.6,339.0 349.1,340.6 349.6,340.9 350.1,338.2 350.6,343.6" fill="none" stroke="#3068d4" stroke-width="1.15" stroke-linejoin="bevel"/>
<polyline points="342.9,345.8 343.4,336.5 343.9,342.2 344.4,322.9 344.9,336.5 345.4,330.3 345.9,337.7 346.4,334.4 346.9,340.4 347.4,331.0 347.9,338.5 348.4,333.1 348.9,342.1 349.4,312.7 349.9,341.9 350.4,337.1" fill="none" stroke="#30a068" stroke-width="1.15" stroke-linejoin="bevel"/>
<polyline points="342.8,339.0 343.3,341.7 343.8,343.9 344.3,335.3 344.8,335.1 345.3,329.2 345.8,345.7 346.3,341.6 346.8,338.2 347.3,340.4 347.8,342.0 348.3,341.9 348.8,342.8 349.3,336.5 349.8,342.0 350.3,338.3" fill="none" stroke="#ae6ade" stroke-width="1.15" stroke-linejoin="bevel"/>
<polyline points="349.7,324.3 350.0,305.0 350.2,319.1 350.7,340.4 351.2,338.4 351.7,322.0 352.2,341.1 352.7,343.1 353.2,347.3 353.7,329.1 354.2,349.3 354.7,317.4 355.2,345.4 355.7,341.4 356.2,341.2 356.7,319.1 357.2,350.9" fill="none" stroke="#ea5050" stroke-width="1.15" stroke-linejoin="bevel"/>
<polyline points="349.8,342.0 350.3,338.3 350.8,340.9 351.3,339.0 351.8,339.0 352.3,340.6 352.8,345.7 353.3,329.7 353.8,343.8 354.3,328.1 354.8,346.2 355.3,332.6 355.8,346.7 356.3,326.1 356.8,346.7 357.3,346.9" fill="none" stroke="#ae6ade" stroke-width="1.15" stroke-linejoin="bevel"/>
<polyline points="349.7,339.4 350.2,339.5 350.7,335.6 351.2,337.8 351.7,340.8 352.2,337.5 352.7,339.7 353.2,340.2 353.7,342.2 354.2,330.5 354.7,335.6 355.2,323.8 355.7,345.3 356.2,318.9 356.7,336.7 357.2,334.3" fill="none" stroke="#606060" stroke-width="1.15" stroke-linejoin="bevel"/>
<polyline points="349.9,341.9 350.4,337.1 350.9,340.8 351.4,342.4 351.9,339.0 352.4,330.4 352.8,287.4 352.9,294.5 353.4,343.9 353.9,340.9 354.4,345.8 354.9,346.8 355.4,351.2 355.9,305.3 356.0,293.0 356.4,320.9 356.9,345.1 357.4,332.0" fill="none" stroke="#30a068" stroke-width="1.15" stroke-linejoin="bevel"/>
<polyline points="349.6,340.9 350.1,338.2 350.6,343.6 351.1,341.3 351.6,340.1 352.1,326.9 352.6,340.8 353.1,337.6 353.6,340.5 354.1,340.8 354.6,339.8 355.1,308.2 355.6,338.4 356.1,313.5 356.6,341.1 357.1,341.1 357.6,349.1" fill="none" stroke="#3068d4" stroke-width="1.15" stroke-linejoin="bevel"/>
<polyline points="356.7,336.7 357.2,334.3 357.7,342.0 358.2,320.4 358.7,339.3 359.2,315.1 359.7,340.2 360.2,317.7 360.7,344.5 361.2,339.6 361.7,342.5 362.2,329.8 362.7,347.2 363.2,339.1 363.7,348.9 364.2,337.9" fill="none" stroke="#606060" stroke-width="1.15" stroke-linejoin="bevel"/>
<polyline points="356.7,319.1 357.2,350.9 357.7,334.6 358.2,344.1 358.7,336.6 359.2,345.3 359.7,315.9 360.2,341.4 360.7,337.0 361.2,339.9 361.7,343.3 362.2,346.6 362.7,334.1 363.2,347.4 363.7,340.4 364.2,345.0" fill="none" stroke="#ea5050" stroke-width="1.15" stroke-linejoin="bevel"/>
<polyline points="356.6,341.1 357.1,341.1 357.6,349.1 358.1,332.1 358.6,342.9 359.1,347.1 359.6,339.4 360.1,337.2 360.6,346.4 361.1,329.5 361.6,342.7 362.1,343.9 362.6,346.3 363.1,307.9 363.6,342.3 364.1,338.2 364.6,348.2" fill="none" stroke="#3068d4" stroke-width="1.15" stroke-linejoin="bevel"/>
<polyline points="356.8,346.7 357.3,346.9 357.8,349.3 358.3,335.4 358.8,344.5 359.3,339.0 359.8,345.6 360.3,331.8 360.8,339.7 361.3,336.3 361.8,339.2 362.3,338.2 362.8,348.7 363.3,330.9 363.8,343.8 364.3,342.4" fill="none" stroke="#ae6ade" stroke-width="1.15" stroke-linejoin="bevel"/>
<polyline points="356.9,345.1 357.4,332.0 357.9,354.4 358.4,343.1 358.9,343.1 359.4,340.0 359.9,345.6 360.4,348.0 360.9,344.3 361.4,329.7 361.9,340.8 362.4,333.7 362.9,347.8 363.4,343.3 363.9,339.6 364.4,343.1" fill="none" stroke="#30a068" stroke-width="1.15" stroke-linejoin="bevel"/>
<polyline points="363.7,348.9 364.2,337.9 364.7,349.1 365.2,344.1 365.7,347.3 366.2,319.3 366.7,351.7 367.2,333.2 367.7,350.2 368.2,331.9 368.7,348.6 369.2,321.4 369.7,343.1 370.2,342.2 370.7,345.6 371.2,334.2" fill="none" stroke="#606060" stroke-width="1.15" stroke-linejoin="bevel"/>
<polyline points="363.8,343.8 364.3,342.4 364.8,343.5 365.3,340.4 365.8,341.1 366.3,327.5 366.8,340.7 367.3,333.8 367.8,349.3 368.3,332.2 368.8,339.9 369.3,341.8 369.8,341.7 370.3,325.1 370.8,337.4 371.3,331.0" fill="none" stroke="#ae6ade" stroke-width="1.15" stroke-linejoin="bevel"/>
<polyline points="363.9,339.6 364.4,343.1 364.9,344.2 365.4,335.0 365.9,337.0 366.4,321.5 366.9,337.9 367.4,334.8 367.9,342.9 368.4,341.7 368.9,335.8 369.4,340.0 369.9,343.3 370.4,321.6 370.9,342.2 371.4,317.9" fill="none" stroke="#30a068" stroke-width="1.15" stroke-linejoin="bevel"/>
<polyline points="363.6,342.3 364.1,338.2 364.6,348.2 365.1,341.3 365.6,342.9 366.1,347.9 366.6,347.0 367.1,340.8 367.6,349.2 368.1,316.8 368.6,349.5 369.1,345.4 369.6,352.2 370.1,342.8 370.6,349.7 371.1,348.4 371.6,347.1" fill="none" stroke="#3068d4" stroke-width="1.15" stroke-linejoin="bevel"/>
<polyline points="363.7,340.4 364.2,345.0 364.7,340.1 365.2,339.5 365.7,335.7 366.2,339.9 366.7,333.4 367.2,343.2 367.7,331.6 368.2,338.6 368.7,345.1 369.2,345.9 369.7,344.0 370.2,339.4 370.7,344.9 371.2,345.7" fill="none" stroke="#ea5050" stroke-width="1.15" stroke-linejoin="bevel"/>
<polyline points="370.7,345.6 371.2,334.2 371.7,349.1 372.2,339.8 372.7,346.2 373.2,347.9 373.7,345.4 374.2,323.9 374.7,347.4 375.2,322.7 375.7,344.7 376.2,332.5 376.7,342.9 377.2,327.3 377.7,347.2 378.2,342.6" fill="none" stroke="#606060" stroke-width="1.15" stroke-linejoin="bevel"/>
<polyline points="370.6,349.7 371.1,348.4 371.6,347.1 372.1,343.9 372.6,351.2 373.1,339.5 373.6,348.6 374.1,349.2 374.6,332.7 375.0,289.6 375.1,295.7 375.6,344.2 376.1,347.1 376.6,337.1 377.1,348.0 377.6,347.4 378.1,348.3 378.6,342.6" fill="none" stroke="#3068d4" stroke-width="1.15" stroke-linejoin="bevel"/>
<polyline points="370.9,342.2 371.4,317.9 371.9,346.0 372.4,334.9 372.9,339.6 373.4,333.8 373.9,342.4 374.4,324.4 374.9,344.6 375.4,336.4 375.9,341.0 376.4,319.2 376.9,340.1 377.4,337.4 377.9,338.5 378.4,322.0" fill="none" stroke="#30a068" stroke-width="1.15" stroke-linejoin="bevel"/>
<polyline points="370.7,344.9 371.2,345.7 371.7,345.1 372.2,338.8 372.7,336.7 373.2,342.5 373.7,315.2 374.2,340.6 374.7,339.0 375.2,341.4 375.7,339.5 376.2,340.4 376.7,321.8 377.2,343.4 377.7,319.4 378.0,293.0 378.2,312.3" fill="none" stroke="#ea5050" stroke-width="1.15" stroke-linejoin="bevel"/>
<polyline points="370.8,337.4 371.3,331.0 371.8,338.2 372.3,331.2 372.8,339.2 373.3,285.2 373.3,284.4 373.8,326.5 374.3,339.0 374.8,341.4 375.3,346.2 375.8,328.0 376.3,341.1 376.8,327.2 377.3,340.9 377.8,337.4 378.3,342.1" fill="none" stroke="#ae6ade" stroke-width="1.15" stroke-linejoin="bevel"/>
<polyline points="377.7,347.2 378.2,342.6 378.7,346.1 379.2,335.6 379.7,337.7 380.2,320.6 380.7,340.0 381.2,337.3 381.7,345.5 382.2,341.3 382.7,343.5 383.2,329.2 383.7,340.7 384.2,309.5 384.7,332.3 385.2,313.6" fill="none" stroke="#606060" stroke-width="1.15" stroke-linejoin="bevel"/>
<polyline points="377.7,319.4 378.0,293.0 378.2,312.3 378.7,341.5 379.2,336.7 379.7,343.7 380.2,337.9 380.7,335.5 381.2,298.7 381.7,336.5 382.2,305.7 382.5,288.7 382.7,309.1 383.2,332.6 383.7,335.6 384.2,337.6 384.7,296.1 385.0,299.0 385.2,315.5" fill="none" stroke="#ea5050" stroke-width="1.15" stroke-linejoin="bevel"/>
<polyline points="377.9,338.5 378.4,322.0 378.9,343.2 379.4,332.6 379.9,341.6 380.4,269.6 380.5,248.3 380.9,309.4 381.4,340.0 381.9,331.1 382.4,342.5 382.9,334.7 383.4,340.4 383.9,332.6 384.4,345.4 384.9,331.4 385.4,341.5" fill="none" stroke="#30a068" stroke-width="1.15" stroke-linejoin="bevel"/>
<polyline points="377.8,337.4 378.3,342.1 378.8,335.1 379.3,338.9 379.8,342.4 380.3,343.9 380.8,340.7 381.3,341.4 381.8,337.9 382.3,343.9 382.8,338.1 383.3,340.4 383.8,314.3 384.3,343.8 384.8,323.8 385.3,343.9" fill="none" stroke="#ae6ade" stroke-width="1.15" stroke-linejoin="bevel"/>
<polyline points="377.6,347.4 378.1,348.3 378.6,342.6 379.1,348.4 379.6,343.2 380.1,346.1 380.6,337.9 381.1,338.5 381.6,313.5 382.1,339.7 382.6,321.0 383.1,340.2 383.6,339.3 384.1,340.8 384.6,343.0 385.1,345.8 385.6,342.1" fill="none" stroke="#3068d4" stroke-width="1.15" stroke-linejoin="bevel"/>
<polyline points="384.8,323.8 385.3,343.9 385.8,338.4 386.3,335.2 386.8,317.5 387.3,338.6 387.8,324.8 388.3,335.9 388.8,317.2 389.3,334.6 389.8,325.5 390.3,337.8 390.8,304.3 391.3,341.7 391.8,329.9 392.3,342.8" fill="none" stroke="#ae6ade" stroke-width="1.15" stroke-linejoin="bevel"/>
<polyline points="384.7,296.1 385.0,299.0 385.2,315.5 385.7,344.0 386.2,339.9 386.7,345.6 387.2,330.8 387.7,342.6 388.2,338.2 388.7,346.9 389.2,311.5 389.7,337.7 390.2,340.7 390.7,344.7 391.2,312.6 391.7,346.5 392.2,309.8" fill="none" stroke="#ea5050" stroke-width="1.15" stroke-linejoin="bevel"/>
<polyline points="384.7,332.3 385.2,313.6 385.7,336.3 386.2,317.1 386.7,337.7 387.2,337.4 387.7,331.6 388.2,317.3 388.7,331.9 389.2,329.1 389.7,343.1 390.2,336.7 390.7,342.2 391.2,315.1 391.7,335.6 392.2,332.3" fill="none" stroke="#606060" stroke-width="1.15" stroke-linejoin="bevel"/>
<polyline points="384.9,331.4 385.4,341.5 385.9,308.8 386.4,339.8 386.9,337.0 387.4,342.8 387.9,315.1 388.4,344.8 388.9,334.4 389.4,336.3 389.9,336.6 390.4,340.3 390.9,320.0 391.4,341.5 391.9,318.3 392.4,334.2" fill="none" stroke="#30a068" stroke-width="1.15" stroke-linejoin="bevel"/>
<polyline points="384.6,343.0 385.1,345.8 385.6,342.1 386.1,336.6 386.6,323.4 387.1,339.1 387.6,314.6 388.1,342.0 388.6,310.9 389.1,342.6 389.6,324.7 390.1,344.9 390.6,331.6 391.1,339.1 391.6,334.3 392.1,337.1 392.6,316.4" fill="none" stroke="#3068d4" stroke-width="1.15" stroke-linejoin="bevel"/>
<polyline points="391.7,335.6 392.2,332.3 392.7,341.9 393.2,338.0 393.7,338.2 394.2,336.8 394.7,340.9 395.2,309.4 395.7,318.9 396.0,282.0 396.2,299.7 396.7,322.0 397.2,340.5 397.7,337.4 398.2,343.3 398.7,324.4 399.2,338.1" fill="none" stroke="#606060" stroke-width="1.15" stroke-linejoin="bevel"/>
<polyline points="391.6,334.3 392.1,337.1 392.6,316.4 393.1,333.6 393.6,287.1 394.1,316.7 394.5,234.0 394.6,245.7 395.1,332.5 395.6,340.4 396.1,326.8 396.6,346.2 397.1,328.1 397.6,338.1 398.1,316.9 398.6,339.3 399.1,329.2 399.6,346.6" fill="none" stroke="#3068d4" stroke-width="1.15" stroke-linejoin="bevel"/>
<polyline points="391.9,318.3 392.4,334.2 392.9,339.4 393.4,345.2 393.9,234.8 394.0,204.0 394.4,292.5 394.9,334.6 395.4,318.2 395.9,342.8 396.4,336.7 396.9,339.9 397.4,339.5 397.9,344.6 398.4,338.4 398.9,339.7 399.4,289.1 399.5,272.9" fill="none" stroke="#30a068" stroke-width="1.15" stroke-linejoin="bevel"/>
<polyline points="391.8,329.9 392.3,342.8 392.8,229.0 392.9,203.2 393.3,297.3 393.8,339.1 394.3,332.1 394.8,341.3 395.3,328.9 395.8,341.7 396.3,326.7 396.8,343.0 397.3,316.8 397.8,334.8 398.3,333.8 398.8,339.2 399.3,330.9" fill="none" stroke="#ae6ade" stroke-width="1.15" stroke-linejoin="bevel"/>
<polyline points="391.7,346.5 392.2,309.8 392.7,337.4 393.2,308.4 393.7,347.6 394.2,339.4 394.7,344.5 395.2,343.0 395.7,344.6 396.2,342.7 396.7,337.7 397.2,306.6 397.7,342.1 398.2,332.0 398.7,345.9 399.2,343.1" fill="none" stroke="#ea5050" stroke-width="1.15" stroke-linejoin="bevel"/>
<polyline points="398.7,324.4 399.2,338.1 399.7,339.1 400.2,342.2 400.7,340.7 401.2,342.7 401.7,324.5 402.2,342.7 402.7,311.0 403.0,263.6 403.2,286.3 403.7,342.3 404.2,325.7 404.7,337.8 405.2,336.9 405.7,336.1 406.2,313.4" fill="none" stroke="#606060" stroke-width="1.15" stroke-linejoin="bevel"/>
<polyline points="398.6,339.3 399.1,329.2 399.6,346.6 400.1,317.5 400.6,343.9 401.1,301.8 401.6,337.5 402.1,334.2 402.6,338.1 403.1,321.8 403.6,341.2 404.1,333.3 404.6,343.0 405.1,335.4 405.6,340.3 406.1,328.4 406.6,336.6" fill="none" stroke="#3068d4" stroke-width="1.15" stroke-linejoin="bevel"/>
<polyline points="398.8,339.2 399.3,330.9 399.8,301.3 400.0,276.6 400.3,311.4 400.8,332.4 401.3,335.2 401.8,332.1 402.3,336.8 402.8,336.1 403.3,335.1 403.8,336.1 404.3,335.6 404.8,331.3 405.3,330.8 405.8,321.5 406.3,335.8" fill="none" stroke="#ae6ade" stroke-width="1.15" stroke-linejoin="bevel"/>
<polyline points="398.9,339.7 399.4,289.1 399.5,272.9 399.9,319.3 400.4,344.2 400.9,317.6 401.4,333.9 401.9,321.8 402.4,335.1 402.9,332.7 403.4,343.1 403.9,329.7 404.4,342.3 404.9,314.0 405.4,329.2 405.9,317.4 406.4,332.6" fill="none" stroke="#30a068" stroke-width="1.15" stroke-linejoin="bevel"/>
<polyline points="398.7,345.9 399.2,343.1 399.7,344.1 400.2,341.6 400.7,336.8 401.2,343.8 401.7,343.9 402.2,308.0 402.5,271.0 402.7,298.0 403.2,342.1 403.7,333.3 404.2,348.6 404.7,333.6 405.2,342.2 405.7,331.2 406.2,341.2" fill="none" stroke="#ea5050" stroke-width="1.15" stroke-linejoin="bevel"/>
<polyline points="405.7,336.1 406.2,313.4 406.7,340.3 407.2,333.1 407.7,335.2 408.2,312.9 408.7,335.5 409.2,328.1 409.7,336.8 410.2,324.2 410.7,339.5 411.2,336.3 411.7,343.3 412.2,339.5 412.7,335.8 413.2,323.2" fill="none" stroke="#606060" stroke-width="1.15" stroke-linejoin="bevel"/>
<polyline points="405.7,331.2 406.2,341.2 406.7,321.5 407.2,335.0 407.7,307.0 408.2,338.7 408.7,324.6 409.2,336.5 409.7,340.0 410.2,337.1 410.7,320.5 411.0,296.0 411.2,313.9 411.7,339.2 412.2,325.5 412.7,338.6 413.2,340.2" fill="none" stroke="#ea5050" stroke-width="1.15" stroke-linejoin="bevel"/>
<polyline points="405.9,317.4 406.4,332.6 406.9,285.8 407.4,337.3 407.9,316.5 408.4,336.5 408.9,341.7 409.4,339.4 409.9,340.1 410.4,342.2 410.9,291.9 411.4,336.5 411.9,330.0 412.4,341.6 412.9,327.4 413.4,328.6" fill="none" stroke="#30a068" stroke-width="1.15" stroke-linejoin="bevel"/>
<polyline points="405.6,340.3 406.1,328.4 406.6,336.6 407.1,333.1 407.6,341.8 408.1,323.6 408.6,348.5 409.1,340.7 409.6,348.6 410.1,334.8 410.6,341.2 411.1,311.0 411.6,338.0 412.1,341.9 412.6,343.8 413.1,331.4 413.6,333.8" fill="none" stroke="#3068d4" stroke-width="1.15" stroke-linejoin="bevel"/>
<polyline points="405.8,321.5 406.3,335.8 406.8,338.4 407.3,337.4 407.8,328.8 408.3,332.4 408.8,290.5 409.3,339.8 409.8,308.0 410.0,287.4 410.3,316.4 410.8,332.2 411.3,325.3 411.8,335.1 412.3,317.8 412.8,332.1 413.3,325.4" fill="none" stroke="#ae6ade" stroke-width="1.15" stroke-linejoin="bevel"/>
<polyline points="412.7,335.8 413.2,323.2 413.7,340.4 414.2,336.7 414.7,342.5 415.2,323.0 415.7,341.5 416.2,330.3 416.7,341.4 417.2,331.9 417.7,343.7 418.2,325.2 418.7,346.3 419.2,343.4 419.7,346.4 420.2,322.5" fill="none" stroke="#606060" stroke-width="1.15" stroke-linejoin="bevel"/>
<polyline points="412.7,338.6 413.2,340.2 413.7,339.4 414.2,336.2 414.7,343.7 415.2,326.9 415.7,345.0 416.2,341.4 416.7,339.8 417.2,339.7 417.7,341.1 418.2,340.4 418.7,340.1 419.2,335.6 419.7,341.7 420.2,336.6" fill="none" stroke="#ea5050" stroke-width="1.15" stroke-linejoin="bevel"/>
<polyline points="412.8,332.1 413.3,325.4 413.8,338.3 414.3,337.1 414.8,337.9 415.3,322.9 415.8,338.6 416.3,339.6 416.8,333.6 417.3,327.9 417.8,331.6 418.3,319.0 418.8,342.9 419.3,333.2 419.8,332.3 420.3,335.0" fill="none" stroke="#ae6ade" stroke-width="1.15" stroke-linejoin="bevel"/>
<polyline points="412.6,343.8 413.1,331.4 413.6,333.8 414.1,318.8 414.6,335.7 415.1,328.1 415.6,342.3 416.1,309.9 416.6,338.8 417.1,302.2 417.6,335.3 418.1,294.7 418.6,340.1 419.1,310.6 419.6,342.2 420.1,326.6 420.6,344.1" fill="none" stroke="#3068d4" stroke-width="1.15" stroke-linejoin="bevel"/>
<polyline points="412.9,327.4 413.4,328.6 413.9,297.5 414.4,341.9 414.9,335.6 415.4,338.5 415.9,306.5 416.4,335.3 416.9,334.2 417.4,339.9 417.9,326.2 418.4,333.0 418.9,298.7 419.4,335.1 419.9,305.6 420.4,342.1" fill="none" stroke="#30a068" stroke-width="1.15" stroke-linejoin="bevel"/>
<polyline points="419.7,346.4 420.2,322.5 420.7,334.4 421.2,329.7 421.7,336.1 422.2,337.3 422.7,341.3 423.2,332.2 423.7,340.7 424.2,330.2 424.7,346.2 425.2,317.7 425.7,342.4 426.2,339.8 426.7,340.0 427.2,342.0" fill="none" stroke="#606060" stroke-width="1.15" stroke-linejoin="bevel"/>
<polyline points="419.9,305.6 420.4,342.1 420.9,309.0 421.4,331.8 421.9,320.5 422.4,340.8 422.9,327.0 423.4,337.1 423.9,326.7 424.4,341.1 424.9,337.8 425.4,343.8 425.9,315.9 426.4,344.5 426.9,312.7 427.4,331.8" fill="none" stroke="#30a068" stroke-width="1.15" stroke-linejoin="bevel"/>
<polyline points="419.7,341.7 420.2,336.6 420.7,337.2 421.2,311.1 421.7,338.6 422.2,313.0 422.7,335.8 423.2,314.6 423.7,340.5 424.2,335.4 424.7,340.0 425.2,333.4 425.7,341.1 426.2,330.7 426.7,337.6 427.2,331.5" fill="none" stroke="#ea5050" stroke-width="1.15" stroke-linejoin="bevel"/>
<polyline points="419.8,332.3 420.3,335.0 420.8,339.4 421.3,317.6 421.8,343.0 422.3,340.1 422.8,337.9 423.3,314.9 423.8,344.5 424.3,341.0 424.8,343.5 425.3,334.6 425.8,334.4 426.3,333.1 426.8,341.4 427.3,338.5" fill="none" stroke="#ae6ade" stroke-width="1.15" stroke-linejoin="bevel"/>
<polyline points="419.6,342.2 420.1,326.6 420.6,344.1 421.1,333.8 421.6,334.4 422.1,329.3 422.6,334.0 423.1,317.6 423.6,331.4 424.1,306.3 424.6,335.4 425.1,305.1 425.6,331.5 426.0,288.0 426.1,296.3 426.6,315.7 427.1,340.6 427.6,316.6" fill="none" stroke="#3068d4" stroke-width="1.15" stroke-linejoin="bevel"/>
<polyline points="426.7,340.0 427.2,342.0 427.7,338.7 428.2,338.8 428.7,339.0 429.2,330.5 429.7,344.9 430.2,337.9 430.7,343.0 431.2,327.0 431.7,345.6 432.2,342.6 432.7,350.5 433.2,344.1 433.7,346.6 434.2,337.8" fill="none" stroke="#606060" stroke-width="1.15" stroke-linejoin="bevel"/>
<polyline points="426.8,341.4 427.3,338.5 427.8,338.6 428.3,317.6 428.8,335.8 429.3,337.4 429.8,332.6 430.3,330.3 430.8,344.6 431.3,330.4 431.8,348.3 432.3,327.4 432.8,344.3 433.3,347.2 433.8,351.2 434.3,333.1" fill="none" stroke="#ae6ade" stroke-width="1.15" stroke-linejoin="bevel"/>
<polyline points="426.6,315.7 427.1,340.6 427.6,316.6 428.1,334.3 428.6,313.6 429.1,332.9 429.6,327.6 430.1,337.3 430.6,326.9 431.1,337.2 431.6,330.6 432.1,331.3 432.6,311.3 433.1,335.6 433.6,331.2 434.1,340.8 434.6,326.0" fill="none" stroke="#3068d4" stroke-width="1.15" stroke-linejoin="bevel"/>
<polyline points="426.7,337.6 427.2,331.5 427.7,335.2 428.2,317.3 428.7,332.4 429.2,336.2 429.7,341.2 430.2,334.7 430.7,333.4 431.2,318.9 431.7,335.8 432.2,333.0 432.7,339.5 433.2,332.3 433.7,340.0 434.2,332.3" fill="none" stroke="#ea5050" stroke-width="1.15" stroke-linejoin="bevel"/>
<polyline points="426.9,312.7 427.4,331.8 427.9,338.0 428.4,344.6 428.9,304.2 429.4,346.2 429.9,335.5 430.4,342.6 430.9,342.3 431.4,338.2 431.9,338.5 432.4,346.0 432.9,332.9 433.4,341.4 433.9,310.2 434.0,299.0 434.4,331.1" fill="none" stroke="#30a068" stroke-width="1.15" stroke-linejoin="bevel"/>
<polyline points="433.7,346.6 434.2,337.8 434.7,348.8 435.2,338.1 435.7,351.6 436.2,346.7 436.7,355.8 437.2,352.5 437.7,357.6 438.2,338.4 438.7,355.4 439.2,336.7 439.7,354.2 440.2,337.6 440.7,353.7 441.2,350.2" fill="none" stroke="#606060" stroke-width="1.15" stroke-linejoin="bevel"/>
<polyline points="433.7,340.0 434.2,332.3 434.7,345.0 435.2,320.2 435.7,345.8 436.2,330.4 436.7,330.8 437.1,288.0 437.2,300.2 437.7,344.4 438.2,348.7 438.7,332.2 439.2,346.7 439.7,344.7 440.2,348.4 440.7,347.7 441.2,347.1" fill="none" stroke="#ea5050" stroke-width="1.15" stroke-linejoin="bevel"/>
<polyline points="433.9,310.2 434.0,299.0 434.4,331.1 434.9,345.3 435.4,345.6 435.9,350.2 436.4,348.8 436.9,352.4 437.4,352.5 437.9,352.5 438.4,343.8 438.9,353.6 439.4,354.2 439.9,351.9 440.4,349.8 440.9,350.1 441.4,345.0" fill="none" stroke="#30a068" stroke-width="1.15" stroke-linejoin="bevel"/>
<polyline points="433.6,331.2 434.1,340.8 434.6,326.0 435.1,340.8 435.6,322.1 436.1,346.1 436.6,329.8 437.1,349.6 437.6,338.7 438.1,347.6 438.6,335.1 439.1,343.9 439.6,341.7 440.1,351.8 440.6,344.0 441.1,347.1 441.6,331.8" fill="none" stroke="#3068d4" stroke-width="1.15" stroke-linejoin="bevel"/>
<polyline points="433.8,351.2 434.3,333.1 434.8,351.3 435.3,341.2 435.8,352.2 436.3,348.3 436.8,350.7 437.3,340.8 437.8,354.6 438.3,335.6 438.8,352.7 439.3,296.8 439.8,346.3 440.3,289.9 440.8,345.9 441.3,285.8" fill="none" stroke="#ae6ade" stroke-width="1.15" stroke-linejoin="bevel"/>
<polyline points="440.7,353.7 441.2,350.2 441.7,358.1 442.2,336.8 442.7,357.5 443.2,348.6 443.7,348.2 444.2,346.5 444.7,351.1 445.2,350.7 445.7,348.4 446.2,344.8 446.7,352.0 447.2,344.6 447.7,349.6 448.2,324.3" fill="none" stroke="#606060" stroke-width="1.15" stroke-linejoin="bevel"/>
<polyline points="440.6,344.0 441.1,347.1 441.6,331.8 442.1,352.6 442.6,333.5 443.1,350.8 443.6,344.7 444.1,350.5 444.6,341.8 445.1,354.6 445.6,350.1 446.1,347.9 446.6,343.4 447.1,353.7 447.6,342.0 448.1,348.7 448.6,332.9" fill="none" stroke="#3068d4" stroke-width="1.15" stroke-linejoin="bevel"/>
<polyline points="440.7,347.7 441.2,347.1 441.7,340.0 442.2,349.0 442.7,347.7 443.2,350.7 443.7,339.3 444.2,352.4 444.7,350.8 445.2,350.4 445.7,348.7 446.2,350.1 446.7,344.5 447.2,352.0 447.7,341.0 448.2,349.5" fill="none" stroke="#ea5050" stroke-width="1.15" stroke-linejoin="bevel"/>
<polyline points="440.8,345.9 441.3,285.8 441.8,346.7 442.3,297.3 442.8,346.7 443.3,301.4 443.8,347.5 444.3,311.6 444.8,353.1 445.3,329.8 445.8,349.5 446.3,337.6 446.8,349.9 447.3,345.4 447.8,353.4 448.3,351.1" fill="none" stroke="#ae6ade" stroke-width="1.15" stroke-linejoin="bevel"/>
<polyline points="440.9,350.1 441.4,345.0 441.9,354.8 442.4,355.3 442.9,357.4 443.4,347.3 443.9,354.2 444.4,342.1 444.9,354.0 445.4,353.1 445.9,355.4 446.4,341.6 446.9,352.8 447.4,336.5 447.9,352.2 448.4,315.3" fill="none" stroke="#30a068" stroke-width="1.15" stroke-linejoin="bevel"/>
<polyline points="447.6,342.0 448.1,348.7 448.6,332.9 449.1,346.7 449.6,331.7 450.1,347.7 450.6,340.4 451.1,345.0 451.6,340.9 452.1,344.8 452.6,332.4 453.1,346.9 453.6,335.8 454.1,348.3 454.6,336.8 455.1,351.0 455.6,341.7" fill="none" stroke="#3068d4" stroke-width="1.15" stroke-linejoin="bevel"/>
<polyline points="447.7,341.0 448.2,349.5 448.7,340.1 449.2,349.6 449.7,347.6 450.2,352.7 450.7,346.3 451.2,344.8 451.7,337.1 452.2,351.4 452.7,347.0 453.2,349.2 453.7,343.6 454.2,351.8 454.7,339.4 455.2,352.1" fill="none" stroke="#ea5050" stroke-width="1.15" stroke-linejoin="bevel"/>
<polyline points="447.7,349.6 448.2,324.3 448.7,355.7 449.2,322.6 449.7,350.1 450.2,345.8 450.7,357.5 451.2,342.6 451.7,344.8 452.2,335.4 452.7,349.1 453.2,352.0 453.7,355.6 454.2,331.4 454.7,355.1 455.2,333.8" fill="none" stroke="#606060" stroke-width="1.15" stroke-linejoin="bevel"/>
<polyline points="447.8,353.4 448.3,351.1 448.8,352.5 449.3,340.4 449.8,353.2 450.3,323.2 450.8,349.1 451.3,349.6 451.8,348.1 452.3,340.1 452.8,348.1 453.3,345.5 453.8,346.0 454.3,346.7 454.8,355.6 455.3,331.7" fill="none" stroke="#ae6ade" stroke-width="1.15" stroke-linejoin="bevel"/>
<polyline points="447.9,352.2 448.4,315.3 448.9,335.6 449.4,298.0 449.9,345.5 450.4,292.1 450.9,328.8 451.4,295.7 451.9,342.5 452.4,299.7 452.9,340.6 453.4,300.5 453.8,242.3 453.9,255.5 454.4,335.1 454.9,306.3 455.4,344.3" fill="none" stroke="#30a068" stroke-width="1.15" stroke-linejoin="bevel"/>
<polyline points="454.9,306.3 455.4,344.3 455.9,313.5 456.4,342.0 456.9,317.8 457.4,341.9 457.9,325.0 458.4,345.7 458.9,333.8 459.4,349.5 459.9,338.7 460.4,342.3 460.9,343.5 461.4,339.7 461.9,316.7 462.4,351.2" fill="none" stroke="#30a068" stroke-width="1.15" stroke-linejoin="bevel"/>
<polyline points="454.7,355.1 455.2,333.8 455.7,345.2 456.2,351.9 456.7,349.1 457.2,345.1 457.7,343.7 458.2,318.0 458.7,342.7 459.2,319.7 459.7,353.2 460.2,334.8 460.7,348.7 461.2,327.2 461.7,350.4 462.2,344.2" fill="none" stroke="#606060" stroke-width="1.15" stroke-linejoin="bevel"/>
<polyline points="454.8,355.6 455.3,331.7 455.8,350.6 456.3,323.9 456.8,339.5 457.3,330.7 457.8,342.9 458.3,347.0 458.8,349.3 459.3,329.0 459.8,342.0 460.3,292.9 460.8,333.7 461.3,286.9 461.8,339.2 462.3,280.9" fill="none" stroke="#ae6ade" stroke-width="1.15" stroke-linejoin="bevel"/>
<polyline points="454.7,339.4 455.2,352.1 455.7,324.1 456.2,353.1 456.7,321.3 457.2,343.0 457.7,344.0 458.2,351.4 458.7,336.4 459.2,347.5 459.7,324.4 460.2,353.1 460.7,346.5 461.2,348.7 461.7,350.3 462.2,352.0" fill="none" stroke="#ea5050" stroke-width="1.15" stroke-linejoin="bevel"/>
<polyline points="454.6,336.8 455.1,351.0 455.6,341.7 456.1,343.3 456.6,334.5 457.1,344.1 457.6,337.3 458.1,349.8 458.6,344.7 459.1,346.3 459.6,348.1 460.1,346.4 460.6,329.3 461.1,349.5 461.6,337.0 462.1,348.9 462.6,338.8" fill="none" stroke="#3068d4" stroke-width="1.15" stroke-linejoin="bevel"/>
<polyline points="461.7,350.4 462.2,344.2 462.7,339.7 463.2,348.6 463.7,352.2 464.2,347.4 464.7,342.9 465.2,341.8 465.7,349.2 466.2,331.1 466.7,343.3 467.2,349.9 467.7,349.3 468.2,337.3 468.7,342.7 469.2,346.5" fill="none" stroke="#606060" stroke-width="1.15" stroke-linejoin="bevel"/>
<polyline points="461.9,316.7 462.4,351.2 462.9,341.4 463.4,340.5 463.9,343.9 464.4,352.6 464.9,347.3 465.4,350.8 465.9,317.5 466.4,341.0 466.9,292.9 467.4,342.3 467.9,294.1 468.4,338.9 468.9,292.4 469.4,349.4" fill="none" stroke="#30a068" stroke-width="1.15" stroke-linejoin="bevel"/>
<polyline points="461.7,350.3 462.2,352.0 462.7,346.5 463.2,345.7 463.7,339.3 464.2,343.7 464.7,332.2 465.2,344.3 465.7,347.2 466.2,348.7 466.7,344.4 467.2,342.1 467.7,335.5 468.2,348.4 468.7,331.7 469.2,344.1" fill="none" stroke="#ea5050" stroke-width="1.15" stroke-linejoin="bevel"/>
<polyline points="461.8,339.2 462.3,280.9 462.8,337.1 463.3,284.2 463.8,339.4 464.3,294.2 464.8,335.6 465.3,306.6 465.8,337.0 466.3,315.5 466.8,342.9 467.3,313.8 467.8,345.4 468.3,340.0 468.8,336.8 469.3,334.2" fill="none" stroke="#ae6ade" stroke-width="1.15" stroke-linejoin="bevel"/>
<polyline points="461.6,337.0 462.1,348.9 462.6,338.8 463.1,344.9 463.6,328.3 464.1,348.0 464.6,339.9 465.1,297.4 465.3,261.4 465.6,301.0 466.1,309.5 466.6,348.4 467.1,338.3 467.6,336.9 468.1,342.7 468.6,346.7 469.1,345.6 469.6,342.2" fill="none" stroke="#3068d4" stroke-width="1.15" stroke-linejoin="bevel"/>
<polyline points="468.9,292.4 469.4,349.4 469.9,305.6 470.4,352.5 470.9,314.0 471.4,351.4 471.9,323.2 472.4,345.7 472.9,308.0 473.4,349.1 473.9,337.8 474.4,350.7 474.9,343.6 475.4,348.5 475.9,345.7 476.4,342.6" fill="none" stroke="#30a068" stroke-width="1.15" stroke-linejoin="bevel"/>
<polyline points="468.7,342.7 469.2,346.5 469.7,346.2 470.2,339.5 470.7,337.1 471.2,348.4 471.7,349.6 472.2,347.3 472.7,344.3 473.2,306.4 473.7,346.9 474.2,310.6 474.7,337.0 475.2,307.5 475.7,343.9 476.2,332.8" fill="none" stroke="#606060" stroke-width="1.15" stroke-linejoin="bevel"/>
<polyline points="468.6,346.7 469.1,345.6 469.6,342.2 470.1,329.9 470.6,344.3 471.1,331.3 471.6,344.1 472.1,301.8 472.6,338.8 473.1,289.0 473.6,324.9 474.1,289.1 474.3,253.9 474.6,281.3 475.1,341.2 475.6,292.8 476.1,342.1 476.6,303.8" fill="none" stroke="#3068d4" stroke-width="1.15" stroke-linejoin="bevel"/>
<polyline points="468.7,331.7 469.2,344.1 469.7,313.4 470.2,343.7 470.7,343.6 471.2,345.8 471.7,331.0 472.2,338.5 472.7,346.0 473.2,354.1 473.7,335.7 474.2,336.6 474.7,333.5 475.2,338.6 475.7,324.2 476.2,344.1" fill="none" stroke="#ea5050" stroke-width="1.15" stroke-linejoin="bevel"/>
<polyline points="468.8,336.8 469.3,334.2 469.8,345.7 470.3,313.3 470.8,350.9 471.3,345.3 471.8,342.0 472.3,307.7 472.8,340.2 473.3,317.7 473.8,347.9 474.3,341.8 474.8,341.3 475.3,321.8 475.8,341.5 476.3,342.4" fill="none" stroke="#ae6ade" stroke-width="1.15" stroke-linejoin="bevel"/>
<polyline points="475.9,345.7 476.4,342.6 476.9,348.6 477.4,356.6 477.9,353.0 478.4,356.5 478.9,332.2 479.4,345.8 479.9,338.0 480.4,351.7 480.9,318.7 481.4,351.9 481.9,350.4 482.4,352.2 482.9,348.1 483.4,353.8" fill="none" stroke="#30a068" stroke-width="1.15" stroke-linejoin="bevel"/>
<polyline points="475.7,343.9 476.2,332.8 476.7,339.9 477.2,322.0 477.7,348.4 478.2,346.1 478.7,351.3 479.2,311.0 479.7,338.9 480.2,325.3 480.7,353.5 481.2,344.4 481.7,344.8 482.2,333.8 482.7,344.7 483.2,298.6 483.6,239.5" fill="none" stroke="#606060" stroke-width="1.15" stroke-linejoin="bevel"/>
<polyline points="475.8,341.5 476.3,342.4 476.8,355.5 477.3,336.3 477.8,350.6 478.3,352.5 478.8,351.8 479.3,333.0 479.8,344.1 480.3,344.2 480.8,349.9 481.3,348.1 481.8,350.2 482.3,337.8 482.8,340.9 483.3,342.6" fill="none" stroke="#ae6ade" stroke-width="1.15" stroke-linejoin="bevel"/>
<polyline points="475.7,324.2 476.2,344.1 476.7,317.7 477.2,338.6 477.7,293.1 478.2,328.2 478.7,228.7 478.7,231.0 479.2,280.6 479.7,343.2 480.2,276.8 480.7,328.6 481.2,272.3 481.7,329.5 482.2,277.6 482.7,333.7 483.2,288.3" fill="none" stroke="#ea5050" stroke-width="1.15" stroke-linejoin="bevel"/>
<polyline points="475.6,292.8 476.1,342.1 476.6,303.8 477.1,337.9 477.6,315.8 478.1,352.0 478.6,325.8 479.1,344.7 479.6,335.3 480.1,353.5 480.6,342.7 481.1,349.8 481.6,343.3 482.1,357.6 482.6,343.6 483.1,349.3 483.6,351.1" fill="none" stroke="#3068d4" stroke-width="1.15" stroke-linejoin="bevel"/>
<polyline points="482.6,343.6 483.1,349.3 483.6,351.1 484.1,355.1 484.6,352.2 485.1,348.4 485.6,355.7 486.1,355.7 486.6,352.7 487.1,356.3 487.6,338.6 488.1,357.3 488.6,355.6 489.1,356.6 489.6,358.4 490.1,358.8 490.6,355.5" fill="none" stroke="#3068d4" stroke-width="1.15" stroke-linejoin="bevel"/>
<polyline points="482.7,344.7 483.2,298.6 483.6,239.5 483.7,251.5 484.2,342.5 484.7,262.1 485.2,330.8 485.7,250.4 486.2,316.7 486.7,252.8 487.2,325.7 487.7,277.6 488.2,325.6 488.7,293.5 489.2,340.2 489.7,309.7 490.2,343.0" fill="none" stroke="#606060" stroke-width="1.15" stroke-linejoin="bevel"/>
<polyline points="482.8,340.9 483.3,342.6 483.8,348.4 484.3,347.6 484.8,340.6 485.3,327.8 485.8,342.9 486.3,333.4 486.8,345.8 487.3,339.4 487.8,349.7 488.3,343.8 488.8,349.6 489.3,345.4 489.8,350.7 490.3,347.5" fill="none" stroke="#ae6ade" stroke-width="1.15" stroke-linejoin="bevel"/>
<polyline points="482.9,348.1 483.4,353.8 483.9,346.8 484.4,344.8 484.9,341.1 485.4,350.2 485.9,337.5 486.4,352.0 486.9,350.4 487.4,354.2 487.9,353.3 488.4,350.5 488.9,347.7 489.4,353.0 489.9,348.5 490.4,356.1" fill="none" stroke="#30a068" stroke-width="1.15" stroke-linejoin="bevel"/>
<polyline points="482.7,333.7 483.2,288.3 483.7,344.0 484.2,299.5 484.7,344.3 485.2,309.1 485.7,348.8 486.2,324.9 486.7,346.0 487.2,333.3 487.7,348.5 488.2,341.5 488.7,351.7 489.2,343.3 489.7,352.7 490.2,350.5" fill="none" stroke="#ea5050" stroke-width="1.15" stroke-linejoin="bevel"/>
<polyline points="489.7,309.7 490.2,343.0 490.7,325.9 491.2,352.5 491.7,339.6 492.2,354.4" fill="none" stroke="#606060" stroke-width="1.15" stroke-linejoin="bevel"/>
<polyline points="489.7,352.7 490.2,350.5 490.7,355.8 491.2,353.8 491.7,357.2 492.2,356.4" fill="none" stroke="#ea5050" stroke-width="1.15" stroke-linejoin="bevel"/>
<polyline points="489.6,358.4 490.1,358.8 490.6,355.5 491.1,358.4 491.6,357.6 492.1,358.6" fill="none" stroke="#3068d4" stroke-width="1.15" stroke-linejoin="bevel"/>
<polyline points="489.8,350.7 490.3,347.5 490.8,353.4 491.3,353.5 491.8,353.6 492.3,354.4" fill="none" stroke="#ae6ade" stroke-width="1.15" stroke-linejoin="bevel"/>
<polyline points="489.9,348.5 490.4,356.1 490.9,356.1 491.4,356.6 491.9,357.0 492.4,356.7" fill="none" stroke="#30a068" stroke-width="1.15" stroke-linejoin="bevel"/>
<polyline points="294.0,314.7 294.2,294.0 294.3,305.4 294.7,346.7 295.1,353.0 295.5,335.4 295.9,354.5 296.3,344.6 296.7,354.4 297.1,334.1 297.5,353.1 297.9,334.7 298.3,354.2 298.7,335.3 299.1,354.7 299.5,345.7 299.9,353.6 300.3,353.5 300.7,353.7 301.1,349.0 301.5,354.5 301.9,339.1 302.3,354.1 302.7,343.9 303.1,354.5 303.5,336.2 303.9,354.5 304.3,345.9 304.7,353.6 305.1,345.7 305.5,355.6 305.9,345.7 306.3,354.8 306.7,338.0 307.1,354.1 307.5,341.2 307.9,355.7 308.3,343.1 308.7,353.8 309.1,341.0 309.5,355.6 309.9,341.4 310.3,355.9 310.7,343.9 311.1,354.3 311.5,344.8 311.9,353.5 312.3,353.0 312.7,355.7 313.1,345.2 313.5,353.7 313.9,335.3 314.3,355.3 314.7,335.2 315.1,353.5 315.5,345.0 315.9,354.4 316.3,338.3 316.7,353.3 317.1,334.7 317.5,354.8 317.9,347.7 318.3,353.9 318.7,347.2 319.1,353.9 319.5,346.3 319.9,353.6 320.3,351.2 320.7,351.4 321.1,349.1 321.5,351.9 321.9,333.9 322.3,351.4 322.7,344.0 323.1,353.2 323.5,339.7 323.9,351.0 324.3,342.1 324.7,352.3 325.1,332.6 325.5,351.9 325.9,351.2 326.3,351.8 326.7,345.8 327.1,351.5 327.5,341.6 327.9,351.9 328.3,349.4 328.7,351.6 329.1,347.9 329.5,351.2 329.9,342.9 330.3,349.5 330.7,311.0 331.0,272.9 331.1,287.4 331.5,340.0 331.9,330.3 332.3,350.4 332.7,338.3 333.1,349.2 333.5,347.3 333.9,350.9 334.3,349.5 334.7,348.6 335.1,329.0 335.5,342.7 335.9,314.3 336.0,308.0 336.3,330.0 336.7,348.8 337.1,338.7 337.5,349.1 337.9,333.9 338.3,348.5 338.7,346.7 339.1,347.3 339.5,327.2 339.9,348.4 340.3,340.3 340.7,348.1 341.1,338.5 341.5,345.3 341.9,330.5 342.3,344.6 342.7,328.9 343.1,345.9 343.5,328.8 343.9,346.4 344.3,341.8 344.7,345.5 345.1,324.5 345.5,345.1 345.9,325.8 346.3,343.1 346.7,323.6 347.1,344.0 347.5,335.7 347.9,344.2 348.3,322.8 348.7,343.7 349.1,329.6 349.5,342.4 349.9,342.0 350.3,343.2 350.7,325.7 351.1,344.5 351.5,320.9 351.9,344.3 352.3,327.0 352.7,344.4 353.1,342.0 353.5,347.3 353.9,319.4 354.3,346.2 354.7,334.1 355.1,346.2 355.5,322.5 355.9,347.2 356.3,333.7 356.7,347.5 357.1,328.8 357.5,347.7 357.9,321.8 358.3,347.2 358.7,339.9 359.1,350.9 359.5,345.4 359.9,349.4 360.3,322.8 360.7,350.7 361.1,322.2 361.5,347.4 361.9,343.9 362.3,349.8 362.7,322.1 363.1,350.8 363.5,332.3 363.9,348.4 364.3,340.2 364.7,347.3 365.1,344.6 365.5,349.8 365.9,334.2 366.3,349.9 366.7,325.8 367.1,349.0 367.5,326.4 367.9,349.8 368.3,334.5 368.7,348.7 369.1,329.6 369.5,349.2 369.9,327.9 370.3,347.9 370.7,344.1 371.1,348.9 371.5,336.9 371.9,348.3 372.3,307.9 372.5,288.7 372.7,310.0 373.1,348.7 373.5,345.3 373.9,347.7 374.3,344.0 374.7,346.7 375.1,338.6 375.5,347.5 375.9,342.4 376.3,347.0 376.7,340.0 377.1,346.4 377.5,330.7 377.9,345.6 378.3,330.4 378.7,346.3 379.1,347.2 379.5,346.7 379.9,331.7 380.3,346.8 380.7,317.8 381.0,290.5 381.1,300.9 381.5,338.6 381.9,330.1 382.3,344.5 382.7,329.1 383.1,344.8 383.5,328.9 383.9,344.8 384.3,328.6 384.7,343.8 385.1,338.1 385.5,345.2 385.9,327.5 386.3,343.9 386.7,337.8 387.1,345.7 387.5,328.7 387.9,343.8 388.3,326.7 388.7,344.1 389.1,332.3 389.5,345.7 389.9,326.6 390.3,345.8 390.7,333.3 391.1,286.1 391.3,258.0 391.5,289.2 391.9,331.9 392.3,344.4 392.7,320.9 393.1,344.2 393.5,320.0 393.9,346.0 394.3,343.1 394.7,344.1 395.1,336.7 395.5,346.2 395.9,327.1 396.3,345.4 396.7,335.3 397.1,347.4 397.5,333.5 397.9,343.9 398.3,314.7 398.7,344.6 399.1,314.0 399.5,345.3 399.9,312.9 400.3,345.9 400.7,343.0 401.1,345.2 401.5,312.5 401.9,346.0 402.3,312.3 402.7,343.6 403.1,319.0 403.5,346.6 403.9,334.0 404.3,344.9 404.7,315.1 405.1,344.0 405.5,329.8 405.9,347.1 406.3,333.4 406.7,344.9 407.1,341.9 407.5,344.7 407.9,313.2 408.3,342.3 408.7,337.7 409.1,343.0 409.5,310.8 409.9,346.2 410.3,330.8 410.7,342.0 411.1,319.6 411.5,344.7 411.9,327.7 412.3,344.2 412.7,310.1 413.1,341.8 413.5,322.8 413.9,342.0 414.3,309.8 414.7,342.3 415.1,339.0 415.5,344.6 415.9,343.9 416.3,345.1 416.7,330.5 417.1,341.4 417.5,337.0 417.9,344.3 418.3,334.0 418.7,345.3 419.1,315.0 419.5,342.4 419.9,336.2 420.3,343.6 420.7,320.4 421.1,342.7 421.5,337.2 421.9,344.6 422.3,326.2 422.7,343.9 423.1,337.8 423.5,338.0 423.9,307.6 424.0,300.8 424.3,306.6 424.7,343.1 425.1,310.0 425.5,343.3 425.9,322.4 426.3,342.3 426.7,316.9 427.1,342.9 427.5,335.3 427.9,342.8 428.3,311.5 428.7,313.0 429.1,250.2 429.1,251.9 429.5,316.4 429.9,342.5 430.3,311.0 430.7,346.0 431.1,325.0 431.5,345.6 431.9,314.9 432.3,349.9 432.7,308.7 433.0,296.0 433.1,306.1 433.5,342.7 433.9,344.7 434.3,348.5 434.7,336.8 435.1,352.5 435.5,331.2 435.9,352.5 436.3,329.3 436.7,353.3 437.1,348.3 437.5,354.5 437.9,350.1 438.3,355.9 438.7,349.6 439.1,355.9 439.5,352.2 439.9,355.9 440.3,350.0 440.7,355.7 441.1,353.3 441.5,355.3 441.9,353.4 442.3,355.4 442.7,352.7 443.1,355.7 443.5,355.1 443.9,355.6 444.3,350.9 444.7,355.4 445.1,352.8 445.5,355.9 445.9,353.0 446.3,355.8 446.7,351.8 447.1,355.9 447.5,354.6 447.9,355.9 448.3,351.6 448.7,355.8 449.1,350.1 449.5,355.2 449.9,352.4 450.3,355.4 450.7,352.6 451.1,355.3 451.5,350.9 451.9,355.0 452.3,351.7 452.7,354.1 453.1,352.0 453.5,355.0 453.9,345.8 454.3,354.1 454.7,346.8 455.1,352.0 455.5,331.2 455.9,340.0 456.3,309.0 456.7,337.3 457.1,295.3 457.5,351.4 457.9,292.8 458.3,331.0 458.7,290.8 459.1,344.6 459.5,292.1 459.9,342.3 460.3,299.5 460.7,340.8 461.1,303.5 461.5,337.2 461.9,301.3 462.3,341.5 462.7,307.2 463.1,339.7 463.5,317.1 463.9,344.6 464.3,326.0 464.7,346.4 465.1,330.2 465.5,346.8 465.9,335.2 466.3,348.9 466.7,341.3 467.1,351.2 467.5,322.6 467.9,351.3 468.3,340.6 468.7,352.4 469.1,337.2 469.5,351.1 469.9,326.6 470.3,354.9 470.7,334.4 471.1,352.9 471.5,330.4 471.9,354.1 472.3,333.6 472.7,355.4 473.1,349.1 473.5,352.9 473.9,351.6 474.3,355.3 474.7,344.2 475.1,355.7 475.5,340.9 475.9,355.3 476.3,351.1 476.7,354.9 477.1,354.5 477.5,355.0 477.9,349.5 478.3,355.2 478.7,350.6 479.1,355.7 479.5,351.2 479.9,355.8 480.3,353.1 480.7,355.5 481.1,353.8 481.5,355.8 481.9,352.5 482.3,355.9 482.7,352.8 483.1,355.9 483.5,354.8 483.9,355.7 484.3,355.1 484.7,355.9 485.1,354.7 485.5,355.9 485.9,354.8 486.3,356.0 486.7,355.5 487.1,355.9 487.5,354.9 487.9,356.0 488.3,355.4 488.7,355.9 489.1,355.8 489.5,356.0 489.9,356.0 490.3,356.0 490.7,356.0 491.1,356.0 491.5,356.0 491.9,356.0 492.3,356.0" fill="none" stroke="#dca814" stroke-width="1.15" stroke-linejoin="bevel"/>
</g>
<text x="498.2" y="10.4" font-size="15" text-anchor="start" fill="#111" stroke="#111" stroke-width="0.35" >0.10</text>
<text x="498.2" y="44.4" font-size="15" text-anchor="start" fill="#111" stroke="#111" stroke-width="0.35" >0.08</text>
<text x="498.2" y="79.1" font-size="15" text-anchor="start" fill="#111" stroke="#111" stroke-width="0.35" >0.06</text>
<text x="498.2" y="112.9" font-size="15" text-anchor="start" fill="#111" stroke="#111" stroke-width="0.35" >0.04</text>
<text x="500.4" y="148.0" font-size="15" text-anchor="start" fill="#111" stroke="#111" stroke-width="0.35" >0.02</text>
<text x="499.6" y="188.0" font-size="15" text-anchor="start" fill="#111" stroke="#111" stroke-width="0.35" >0.20</text>
<text x="499.6" y="230.6" font-size="15" text-anchor="start" fill="#111" stroke="#111" stroke-width="0.35" >0.15</text>
<text x="499.6" y="273.2" font-size="15" text-anchor="start" fill="#111" stroke="#111" stroke-width="0.35" >0.10</text>
<text x="499.6" y="318.8" font-size="15" text-anchor="start" fill="#111" stroke="#111" stroke-width="0.35" >0.05</text>
<text x="499.6" y="361.5" font-size="15" text-anchor="start" fill="#111" stroke="#111" stroke-width="0.35" >0.00</text>
<text x="296" y="374.8" font-size="15" text-anchor="middle" fill="#111" stroke="#111" stroke-width="0.35" >0</text>
<text x="333.3" y="374.8" font-size="15" text-anchor="middle" fill="#111" stroke="#111" stroke-width="0.35" >10</text>
<text x="372.5" y="374.8" font-size="15" text-anchor="middle" fill="#111" stroke="#111" stroke-width="0.35" >20</text>
<text x="413.4" y="374.8" font-size="15" text-anchor="middle" fill="#111" stroke="#111" stroke-width="0.35" >30</text>
<text x="453" y="374.8" font-size="15" text-anchor="middle" fill="#111" stroke="#111" stroke-width="0.35" >40</text>
<text x="493.6" y="372.6" font-size="15" text-anchor="middle" fill="#111" stroke="#111" stroke-width="0.35" >50</text>
<text transform="translate(545.6,159.3) rotate(-90)" font-size="13.5" text-anchor="middle" fill="#111" stroke="#111" stroke-width="0.35">PDOS (arbitrary units)</text>
<text transform="translate(297.4,16.9) scale(1,0.91)" font-size="16" text-anchor="start" fill="#111" stroke="#111" stroke-width="0.35" >(b)</text>
<text transform="translate(299.7,197.4) scale(1,0.92)" font-size="16" text-anchor="start" fill="#111" stroke="#111" stroke-width="0.35" >(c)</text>
<text x="373" y="25" font-size="12.4" text-anchor="start" fill="#111" stroke="#111" stroke-width="0.35" >PSNT</text>
<text x="365.3" y="195.8" font-size="12.2" text-anchor="start" fill="#111" stroke="#111" stroke-width="0.35" >(5,5) CNT</text>
<line x1="415" y1="16.0" x2="435.6" y2="16.0" stroke="#787878" stroke-width="1.6" />
<text x="457.3" y="20.6" font-size="12.3" text-anchor="end" fill="#111" stroke="#111" stroke-width="0.35" >0%</text>
<line x1="415" y1="26.84" x2="435.6" y2="26.84" stroke="#e0707a" stroke-width="1.6" />
<text x="457.3" y="31.44" font-size="12.3" text-anchor="end" fill="#111" stroke="#111" stroke-width="0.35" >1%</text>
<line x1="415" y1="37.68" x2="435.6" y2="37.68" stroke="#4a7ccc" stroke-width="1.6" />
<text x="457.3" y="42.28" font-size="12.3" text-anchor="end" fill="#111" stroke="#111" stroke-width="0.35" >3%</text>
<line x1="415" y1="48.52" x2="435.6" y2="48.52" stroke="#50aa80" stroke-width="1.6" />
<text x="457.3" y="53.12" font-size="12.3" text-anchor="end" fill="#111" stroke="#111" stroke-width="0.35" >5%</text>
<line x1="415" y1="59.36" x2="435.6" y2="59.36" stroke="#b478e0" stroke-width="1.6" />
<text x="457.3" y="63.96" font-size="12.3" text-anchor="end" fill="#111" stroke="#111" stroke-width="0.35" >7%</text>
<line x1="415" y1="70.2" x2="435.6" y2="70.2" stroke="#d0aa40" stroke-width="1.6" />
<text x="457.3" y="74.8" font-size="12.3" text-anchor="end" fill="#111" stroke="#111" stroke-width="0.35" >9%</text>
</g>
</svg></body></html>
